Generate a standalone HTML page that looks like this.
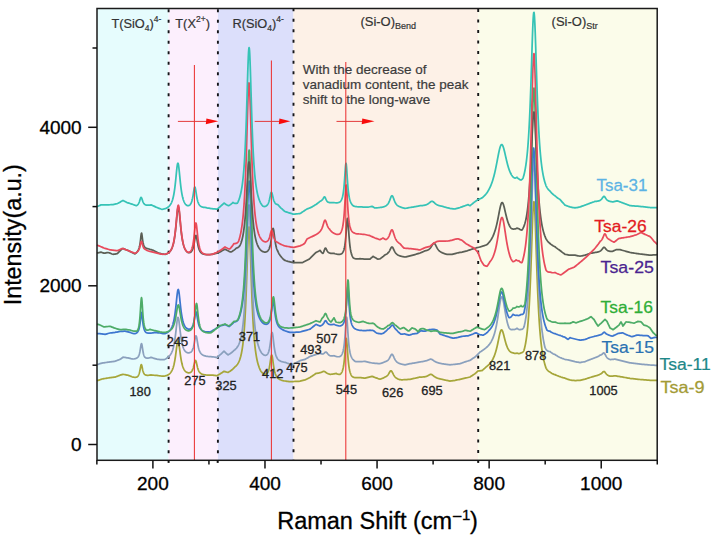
<!DOCTYPE html><html><head><meta charset="utf-8"><style>html,body{margin:0;padding:0;background:#fff;width:715px;height:538px;overflow:hidden}svg{display:block}</style></head><body>
<svg width="715" height="538" viewBox="0 0 715 538">
<rect width="715" height="538" fill="#fff"/>
<rect x="97.0" y="8.5" width="71.60" height="451.80" fill="#e6fcfd"/>
<rect x="168.6" y="8.5" width="49.30" height="451.80" fill="#fceffd"/>
<rect x="217.9" y="8.5" width="75.60" height="451.80" fill="#dcdffb"/>
<rect x="293.5" y="8.5" width="184.70" height="451.80" fill="#fdf1e7"/>
<rect x="478.2" y="8.5" width="179.00" height="451.80" fill="#fbfcea"/>
<line x1="168.6" y1="8.5" x2="168.6" y2="460.3" stroke="#151518" stroke-width="1.9" stroke-dasharray="3.0 7.5" stroke-dashoffset="-0.8"/>
<line x1="217.9" y1="8.5" x2="217.9" y2="460.3" stroke="#151518" stroke-width="1.9" stroke-dasharray="3.0 7.5" stroke-dashoffset="-0.8"/>
<line x1="293.5" y1="8.5" x2="293.5" y2="460.3" stroke="#151518" stroke-width="1.9" stroke-dasharray="3.0 7.5" stroke-dashoffset="0.2"/>
<line x1="478.2" y1="8.5" x2="478.2" y2="460.3" stroke="#151518" stroke-width="1.9" stroke-dasharray="3.0 7.5" stroke-dashoffset="-0.49999999999999994"/>
<path d="M97.00,380.80 L98.00,380.44 L99.00,380.08 L100.00,379.72 L101.00,379.36 L102.00,379.00 L103.00,378.83 L104.00,378.67 L105.00,378.50 L106.00,378.33 L107.00,378.17 L108.00,378.00 L109.00,377.87 L110.00,377.74 L111.00,377.62 L112.00,377.49 L113.00,377.36 L114.00,377.23 L115.00,377.10 L116.00,376.72 L117.00,376.34 L118.00,375.96 L119.00,375.58 L120.00,375.20 L121.00,374.90 L122.00,374.60 L123.00,374.30 L124.00,374.49 L125.00,374.67 L126.00,374.85 L127.00,375.03 L128.00,375.20 L129.00,375.61 L130.00,376.00 L131.00,376.39 L132.00,376.76 L133.00,377.10 L134.00,377.22 L134.90,377.28 L135.00,377.28 L135.15,377.29 L135.40,377.28 L135.65,377.27 L135.90,377.25 L136.00,377.24 L136.15,377.22 L136.40,377.17 L136.65,377.11 L136.90,377.03 L137.00,376.99 L137.15,376.93 L137.40,376.80 L137.65,376.51 L137.90,376.18 L138.00,376.04 L138.15,375.81 L138.40,375.37 L138.65,374.87 L138.90,374.27 L139.00,374.01 L139.15,373.57 L139.40,372.74 L139.65,371.77 L139.90,370.63 L140.00,370.14 L140.15,369.35 L140.40,367.98 L140.65,366.62 L140.90,365.47 L141.00,365.12 L141.15,364.75 L141.40,364.62 L141.65,365.10 L141.90,366.05 L142.00,366.51 L142.15,367.25 L142.40,368.50 L142.65,369.68 L142.90,370.71 L143.00,371.08 L143.15,371.58 L143.40,372.31 L143.65,372.90 L143.90,373.39 L144.00,373.55 L144.15,373.78 L144.40,374.09 L144.65,374.35 L144.90,374.56 L145.00,374.64 L145.15,374.74 L145.40,374.87 L145.65,374.99 L145.90,375.07 L146.00,375.10 L146.15,375.14 L146.40,375.19 L146.65,375.23 L146.90,375.26 L147.00,375.27 L147.15,375.28 L147.40,375.29 L147.65,375.29 L148.00,375.28 L149.00,375.20 L150.00,375.07 L151.00,374.90 L152.00,375.03 L153.00,375.15 L154.00,375.25 L155.00,375.34 L156.00,375.41 L157.00,375.47 L158.00,375.58 L159.00,375.74 L160.00,375.88 L161.00,376.00 L162.00,376.10 L163.00,376.17 L164.00,376.20 L165.00,375.99 L166.00,375.71 L166.25,375.63 L166.50,375.55 L166.75,375.46 L167.00,375.36 L167.25,375.26 L167.50,375.15 L167.75,375.03 L168.00,374.90 L168.25,374.74 L168.50,374.58 L168.75,374.40 L169.00,374.21 L169.25,374.01 L169.50,373.79 L169.75,373.56 L170.00,373.31 L170.25,373.04 L170.50,372.75 L170.75,372.44 L171.00,372.10 L171.25,371.73 L171.50,371.33 L171.75,370.89 L172.00,370.41 L172.25,369.89 L172.50,369.32 L172.75,368.69 L173.00,368.00 L173.25,367.25 L173.50,366.41 L173.75,365.50 L174.00,364.49 L174.25,363.37 L174.50,362.15 L174.75,360.81 L175.00,359.34 L175.25,357.75 L175.50,356.04 L175.75,354.22 L176.00,352.30 L176.25,350.34 L176.50,348.36 L176.75,346.46 L177.00,344.70 L177.25,343.19 L177.50,342.02 L177.75,341.27 L178.00,341.00 L178.25,341.23 L178.50,341.94 L178.75,343.07 L179.00,344.54 L179.25,346.26 L179.50,348.12 L179.75,350.06 L180.00,351.98 L180.25,353.86 L180.50,355.64 L180.75,357.31 L181.00,358.86 L181.25,360.28 L181.50,361.58 L181.75,362.76 L182.00,363.83 L182.25,364.79 L182.50,365.67 L182.75,366.45 L183.00,367.16 L183.25,367.80 L183.50,368.38 L183.75,368.90 L184.00,369.37 L184.25,369.80 L184.50,370.18 L184.75,370.53 L185.00,370.84 L185.25,371.12 L185.50,371.38 L185.75,371.60 L186.00,371.81 L186.25,371.99 L186.50,372.15 L186.70,372.26 L186.75,372.29 L186.95,372.39 L187.00,372.41 L187.20,372.50 L187.25,372.52 L187.45,372.59 L187.50,372.61 L187.70,372.67 L187.75,372.68 L187.95,372.73 L188.00,372.74 L188.20,372.77 L188.25,372.78 L188.45,372.80 L188.50,372.80 L188.70,372.81 L188.75,372.81 L188.95,372.81 L189.00,372.81 L189.20,372.79 L189.25,372.78 L189.45,372.75 L189.50,372.74 L189.70,372.69 L189.75,372.68 L189.95,372.61 L190.00,372.59 L190.20,372.51 L190.45,372.38 L190.70,372.23 L190.95,372.04 L191.00,372.00 L191.20,371.82 L191.45,371.57 L191.70,371.27 L191.95,370.91 L192.00,370.83 L192.20,370.50 L192.45,370.02 L192.70,369.46 L192.95,368.81 L193.00,368.67 L193.20,368.07 L193.45,367.24 L193.70,366.30 L193.95,365.28 L194.00,365.07 L194.20,364.20 L194.45,363.12 L194.70,362.10 L194.95,361.25 L195.00,361.11 L195.20,360.65 L195.45,360.40 L195.70,360.54 L195.95,361.04 L196.00,361.17 L196.20,361.83 L196.45,362.83 L196.70,363.94 L196.95,365.06 L197.00,365.28 L197.20,366.14 L197.45,367.15 L197.70,368.07 L197.95,368.89 L198.00,369.04 L198.20,369.61 L198.45,370.25 L198.70,370.80 L198.95,371.29 L199.00,371.38 L199.20,371.72 L199.45,372.09 L199.70,372.42 L199.95,372.71 L200.00,372.76 L200.20,372.96 L200.45,373.18 L200.70,373.38 L200.95,373.56 L201.00,373.59 L201.20,373.72 L201.45,373.86 L201.70,373.98 L201.95,374.10 L202.00,374.12 L202.20,374.20 L202.45,374.29 L202.70,374.37 L202.95,374.45 L203.00,374.46 L203.20,374.51 L203.45,374.58 L203.70,374.63 L203.95,374.68 L204.00,374.69 L204.20,374.73 L205.00,374.84 L206.00,374.94 L207.00,375.01 L208.00,375.04 L209.00,375.06 L210.00,375.05 L211.00,375.03 L212.00,375.00 L213.00,375.16 L214.00,375.31 L215.00,375.45 L216.00,375.58 L217.00,375.70 L218.00,375.11 L219.00,374.52 L220.00,373.91 L221.00,373.28 L222.00,372.64 L223.00,371.98 L224.00,371.30 L225.00,371.62 L226.00,371.92 L227.00,372.18 L228.00,372.40 L229.00,371.84 L230.00,371.23 L231.00,370.55 L232.00,369.79 L233.00,368.93 L234.00,367.95 L235.00,366.80 L236.00,365.97 L236.20,365.77 L236.45,365.51 L236.70,365.23 L236.95,364.93 L237.00,364.87 L237.20,364.61 L237.45,364.26 L237.70,363.89 L237.95,363.49 L238.00,363.41 L238.20,363.06 L238.45,362.60 L238.70,362.11 L238.95,361.57 L239.00,361.46 L239.20,361.00 L239.45,360.37 L239.70,359.70 L239.95,358.98 L240.00,358.83 L240.20,358.20 L240.45,357.35 L240.70,356.44 L240.95,355.44 L241.00,355.24 L241.20,354.37 L241.45,353.20 L241.70,351.92 L241.95,350.54 L242.00,350.24 L242.20,349.02 L242.45,347.37 L242.70,345.57 L242.95,343.60 L243.00,343.18 L243.20,341.43 L243.45,339.06 L243.70,336.46 L243.95,333.61 L244.00,333.00 L244.20,330.47 L244.45,327.02 L244.70,323.24 L244.95,319.08 L245.00,318.20 L245.20,314.52 L245.45,309.54 L245.70,304.11 L245.95,298.22 L246.00,296.99 L246.20,291.87 L246.45,285.09 L246.70,277.93 L246.95,270.49 L247.00,268.97 L247.20,262.89 L247.45,255.34 L247.70,248.08 L247.95,241.42 L248.00,240.19 L248.20,235.68 L248.45,231.19 L248.70,228.23 L248.95,227.02 L249.00,227.00 L249.20,227.65 L249.45,230.07 L249.70,234.12 L249.95,239.54 L250.00,240.76 L250.20,246.01 L250.45,253.21 L250.70,260.82 L250.95,268.57 L251.00,270.11 L251.20,276.24 L251.45,283.67 L251.70,290.75 L251.95,297.42 L252.00,298.70 L252.20,303.63 L252.45,309.39 L252.70,314.69 L252.95,319.55 L253.00,320.47 L253.20,324.00 L253.45,328.08 L253.70,331.80 L253.95,335.19 L254.00,335.84 L254.20,338.30 L254.45,341.14 L254.70,343.73 L254.95,346.11 L255.00,346.57 L255.20,348.30 L255.45,350.31 L255.70,352.15 L255.95,353.85 L256.00,354.18 L256.20,355.42 L256.45,356.88 L256.70,358.22 L256.95,359.47 L257.00,359.71 L257.20,360.63 L257.45,361.70 L257.70,362.71 L257.95,363.64 L258.00,363.82 L258.20,364.52 L258.45,365.34 L258.70,366.10 L258.95,366.82 L259.00,366.96 L259.20,367.50 L259.45,368.13 L259.70,368.72 L259.95,369.28 L260.00,369.39 L260.20,369.81 L260.45,370.31 L260.70,370.77 L260.95,371.22 L261.00,371.30 L261.20,371.57 L261.45,371.89 L261.70,372.19 L262.00,372.52 L262.90,373.32 L263.00,373.40 L263.15,373.50 L263.40,373.66 L263.65,373.80 L263.90,373.92 L264.00,373.97 L264.15,374.03 L264.40,374.11 L264.65,374.17 L264.90,374.21 L265.00,374.22 L265.15,374.22 L265.40,374.22 L265.65,374.18 L265.90,374.12 L266.00,374.08 L266.15,374.02 L266.40,373.89 L266.65,373.73 L266.90,373.51 L267.00,373.42 L267.15,373.25 L267.40,372.93 L267.65,372.55 L267.90,372.10 L268.00,371.89 L268.15,371.56 L268.40,370.92 L268.65,370.17 L268.90,369.30 L269.00,368.92 L269.15,368.29 L269.40,367.13 L269.65,365.80 L269.90,364.32 L270.00,363.69 L270.15,362.70 L270.40,360.99 L270.65,359.26 L270.90,357.64 L271.00,357.06 L271.15,356.29 L271.40,355.37 L271.65,355.00 L271.90,355.26 L272.00,355.53 L272.15,356.11 L272.40,357.45 L272.65,359.12 L272.90,360.96 L273.00,361.71 L273.15,362.83 L273.40,364.63 L273.65,366.32 L273.90,367.85 L274.00,368.42 L274.15,369.22 L274.40,370.44 L274.65,371.52 L274.90,372.46 L275.00,372.81 L275.15,373.30 L275.40,374.03 L275.65,374.68 L275.90,375.25 L276.00,375.46 L276.15,375.76 L276.40,376.21 L276.65,376.62 L276.90,376.98 L277.00,377.11 L277.15,377.31 L277.40,377.60 L277.65,377.87 L277.90,378.12 L278.00,378.21 L278.15,378.34 L278.40,378.54 L278.65,378.73 L278.90,378.91 L279.00,378.97 L279.15,379.07 L279.40,379.22 L279.65,379.35 L279.90,379.48 L280.00,379.53 L280.15,379.60 L280.40,379.72 L281.00,379.96 L282.00,380.30 L283.00,380.58 L284.00,380.81 L285.00,381.00 L286.00,381.15 L287.00,381.29 L288.00,381.41 L289.00,381.51 L290.00,381.60 L291.00,381.59 L292.00,381.57 L293.00,381.54 L294.00,381.50 L295.00,381.46 L296.00,381.42 L297.00,381.37 L298.00,381.32 L299.00,381.26 L300.00,381.20 L301.00,380.95 L302.00,380.69 L303.00,380.43 L304.00,380.17 L305.00,379.90 L306.00,379.43 L307.00,378.95 L308.00,378.47 L309.00,377.99 L310.00,377.50 L311.00,376.84 L312.00,376.17 L312.25,376.00 L312.50,375.84 L312.75,375.67 L313.00,375.50 L313.25,375.33 L313.50,375.16 L313.75,374.99 L314.00,374.81 L314.25,374.64 L314.50,374.47 L314.75,374.29 L315.00,374.12 L315.25,373.94 L315.50,373.76 L315.75,373.58 L316.00,373.40 L316.25,373.38 L316.50,373.36 L316.75,373.33 L317.00,373.30 L317.25,373.28 L317.50,373.24 L317.75,373.21 L318.00,373.17 L318.25,373.13 L318.50,373.08 L318.75,373.03 L319.00,372.98 L319.25,372.92 L319.50,372.85 L319.75,372.78 L320.00,372.70 L320.25,372.65 L320.50,372.59 L320.75,372.52 L321.00,372.44 L321.25,372.35 L321.50,372.25 L321.75,372.14 L322.00,372.02 L322.25,371.90 L322.50,371.78 L322.75,371.66 L323.00,371.56 L323.25,371.47 L323.50,371.42 L323.75,371.39 L324.00,371.40 L324.25,371.45 L324.50,371.54 L324.75,371.66 L325.00,371.80 L325.25,371.97 L325.50,372.14 L325.75,372.32 L326.00,372.51 L326.25,372.68 L326.50,372.85 L326.75,373.01 L327.00,373.16 L327.25,373.30 L327.50,373.43 L327.75,373.55 L328.00,373.66 L328.25,373.76 L328.50,373.86 L328.75,373.95 L329.00,374.03 L329.25,374.10 L329.50,374.17 L329.75,374.24 L330.00,374.30 L330.25,374.30 L330.50,374.29 L330.75,374.28 L331.00,374.26 L331.25,374.25 L331.50,374.23 L331.75,374.20 L332.00,374.18 L332.25,374.15 L332.50,374.12 L332.75,374.09 L333.00,374.05 L333.25,374.01 L333.50,373.97 L333.75,373.93 L334.00,373.88 L334.25,373.83 L334.50,373.78 L334.75,373.72 L335.00,373.67 L335.25,373.61 L335.50,373.54 L335.75,373.47 L336.00,373.40 L337.00,373.83 L338.00,374.16 L339.00,374.35 L339.10,374.36 L339.35,374.37 L339.60,374.36 L339.85,374.33 L340.00,374.30 L340.10,374.23 L340.35,374.04 L340.60,373.82 L340.85,373.57 L341.00,373.40 L341.10,373.28 L341.35,372.94 L341.60,372.55 L341.85,372.09 L342.00,371.79 L342.10,371.56 L342.35,370.94 L342.60,370.22 L342.85,369.36 L343.00,368.78 L343.10,368.36 L343.35,367.17 L343.60,365.76 L343.85,364.09 L344.00,362.94 L344.10,362.12 L344.35,359.79 L344.60,357.09 L344.85,354.01 L345.00,352.01 L345.10,350.62 L345.35,347.06 L345.60,343.63 L345.85,340.77 L346.00,339.52 L346.10,338.95 L346.35,338.54 L346.60,339.65 L346.85,342.05 L347.00,343.94 L347.10,345.31 L347.35,348.94 L347.60,352.57 L347.85,355.96 L348.00,357.83 L348.10,359.00 L348.35,361.66 L348.60,363.94 L348.85,365.90 L349.00,366.93 L349.10,367.57 L349.35,368.99 L349.60,370.21 L349.85,371.26 L350.00,371.82 L350.10,372.17 L350.35,372.96 L350.60,373.65 L350.85,374.26 L351.00,374.59 L351.10,374.80 L351.35,375.27 L351.60,375.70 L351.85,376.09 L352.00,376.30 L352.10,376.39 L352.35,376.60 L352.60,376.78 L352.85,376.94 L353.00,377.02 L353.10,377.07 L353.35,377.19 L354.00,377.43 L355.00,377.64 L356.00,377.73 L357.00,377.74 L358.00,377.70 L359.00,377.61 L360.00,377.50 L361.00,377.67 L362.00,377.82 L363.00,377.96 L364.00,378.08 L365.00,378.20 L366.00,377.95 L367.00,377.68 L368.00,377.42 L369.00,377.15 L370.00,376.87 L371.00,376.59 L372.00,376.30 L373.00,376.69 L374.00,377.08 L375.00,377.46 L376.00,377.83 L377.00,378.19 L378.00,378.55 L379.00,378.88 L379.25,378.96 L379.50,379.04 L379.75,379.12 L380.00,379.20 L380.25,379.12 L380.50,379.04 L380.75,378.96 L381.00,378.87 L381.25,378.79 L381.50,378.70 L381.75,378.60 L382.00,378.51 L382.25,378.41 L382.50,378.31 L382.75,378.20 L383.00,378.09 L383.25,377.98 L383.50,377.86 L383.75,377.73 L384.00,377.60 L384.25,377.46 L384.50,377.32 L384.75,377.16 L385.00,377.00 L385.25,376.91 L385.50,376.81 L385.75,376.69 L386.00,376.56 L386.25,376.42 L386.50,376.25 L386.75,376.07 L387.00,375.86 L387.25,375.63 L387.50,375.37 L387.75,375.09 L388.00,374.77 L388.25,374.42 L388.50,374.05 L388.75,373.65 L389.00,373.22 L389.25,372.79 L389.50,372.35 L389.75,371.93 L390.00,371.55 L390.25,371.22 L390.50,370.97 L390.75,370.83 L391.00,370.80 L391.25,370.89 L391.50,371.10 L391.75,371.40 L392.00,371.79 L392.25,372.24 L392.50,372.72 L392.75,373.22 L393.00,373.72 L393.25,374.20 L393.50,374.66 L393.75,375.10 L394.00,375.51 L394.25,375.88 L394.50,376.23 L394.75,376.55 L395.00,376.84 L395.25,377.11 L395.50,377.36 L395.75,377.58 L396.00,377.79 L396.25,377.98 L396.50,378.16 L396.75,378.32 L397.00,378.47 L397.25,378.61 L397.50,378.75 L397.75,378.87 L398.00,378.98 L398.25,379.09 L398.50,379.19 L398.75,379.29 L399.00,379.38 L399.25,379.47 L399.50,379.55 L399.75,379.63 L400.00,379.70 L400.25,379.72 L400.50,379.73 L400.75,379.74 L401.00,379.75 L401.25,379.76 L401.50,379.76 L401.75,379.76 L402.00,379.76 L402.25,379.76 L402.50,379.76 L402.75,379.76 L403.00,379.75 L404.00,379.72 L405.00,379.67 L406.00,379.61 L407.00,379.55 L408.00,379.47 L409.00,379.39 L410.00,379.30 L411.00,379.10 L412.00,378.89 L413.00,378.68 L414.00,378.47 L415.00,378.24 L415.25,378.19 L415.50,378.13 L415.75,378.07 L416.00,378.01 L416.25,377.96 L416.50,377.90 L416.75,377.84 L417.00,377.78 L417.25,377.72 L417.50,377.66 L417.75,377.59 L418.00,377.53 L418.25,377.47 L418.50,377.40 L418.75,377.34 L419.00,377.27 L419.25,377.21 L419.50,377.14 L419.75,377.07 L420.00,377.00 L420.25,377.01 L420.50,377.01 L420.75,377.02 L421.00,377.02 L421.25,377.02 L421.50,377.02 L421.75,377.02 L422.00,377.02 L422.25,377.01 L422.50,377.00 L422.75,376.99 L423.00,376.97 L423.25,376.96 L423.50,376.94 L423.75,376.91 L424.00,376.89 L424.25,376.85 L424.50,376.82 L424.75,376.78 L425.00,376.73 L425.25,376.68 L425.50,376.62 L425.75,376.56 L426.00,376.48 L426.25,376.41 L426.50,376.32 L426.75,376.22 L427.00,376.12 L427.25,376.01 L427.50,375.89 L427.75,375.76 L428.00,375.63 L428.25,375.49 L428.50,375.34 L428.75,375.19 L429.00,375.05 L429.25,374.90 L429.50,374.77 L429.75,374.65 L430.00,374.55 L430.25,374.47 L430.50,374.41 L430.75,374.39 L431.00,374.40 L431.25,374.44 L431.50,374.52 L431.75,374.62 L432.00,374.76 L432.25,374.91 L432.50,375.08 L432.75,375.27 L433.00,375.47 L433.25,375.66 L433.50,375.86 L433.75,376.06 L434.00,376.25 L434.25,376.44 L434.50,376.62 L434.75,376.79 L435.00,376.96 L435.25,377.11 L435.50,377.26 L435.75,377.40 L436.00,377.53 L436.25,377.65 L436.50,377.77 L436.75,377.88 L437.00,377.98 L437.25,378.08 L437.50,378.18 L437.75,378.26 L438.00,378.35 L438.25,378.43 L438.50,378.50 L438.75,378.58 L439.00,378.65 L439.25,378.71 L439.50,378.78 L439.75,378.84 L440.00,378.90 L440.25,378.95 L440.50,379.01 L440.75,379.06 L441.00,379.11 L441.25,379.16 L441.50,379.21 L441.75,379.25 L442.00,379.30 L442.25,379.37 L442.50,379.43 L442.75,379.50 L443.00,379.56 L443.25,379.62 L443.50,379.68 L443.75,379.75 L444.00,379.81 L444.25,379.86 L444.50,379.92 L444.75,379.98 L445.00,380.04 L445.25,380.10 L445.50,380.15 L445.75,380.21 L446.00,380.26 L446.25,380.32 L446.50,380.37 L446.75,380.43 L447.00,380.48 L448.00,380.69 L449.00,380.90 L450.00,381.10 L451.00,380.97 L452.00,380.83 L453.00,380.69 L454.00,380.55 L455.00,380.40 L456.00,380.19 L457.00,379.97 L458.00,379.75 L459.00,379.53 L460.00,379.30 L461.00,379.09 L462.00,378.87 L463.00,378.65 L464.00,378.43 L465.00,378.20 L466.00,377.97 L467.00,377.73 L468.00,377.49 L469.00,377.25 L470.00,377.00 L471.00,376.36 L472.00,375.70 L473.00,375.04 L474.00,374.38 L475.00,373.70 L476.00,372.81 L477.00,371.91 L478.00,371.00 L479.00,370.93 L480.00,370.85 L481.00,370.74 L481.40,370.69 L481.65,370.65 L481.90,370.61 L482.00,370.60 L482.15,370.48 L482.40,370.27 L482.65,370.06 L482.90,369.85 L483.00,369.77 L483.15,369.64 L483.40,369.42 L483.65,369.20 L483.90,368.98 L484.00,368.89 L484.15,368.76 L484.40,368.53 L484.65,368.30 L484.90,368.07 L485.00,367.97 L485.15,367.83 L485.40,367.59 L485.65,367.35 L485.90,367.10 L486.00,367.00 L486.15,366.89 L486.40,366.71 L486.65,366.52 L486.90,366.32 L487.00,366.24 L487.15,366.12 L487.40,365.91 L487.65,365.70 L487.90,365.49 L488.00,365.40 L488.15,365.26 L488.40,365.03 L488.65,364.79 L488.90,364.54 L489.00,364.44 L489.15,364.29 L489.40,364.03 L489.65,363.75 L489.90,363.47 L490.00,363.35 L490.15,363.18 L490.40,362.87 L490.65,362.55 L490.90,362.22 L491.00,362.09 L491.15,361.88 L491.40,361.52 L491.65,361.15 L491.90,360.76 L492.00,360.60 L492.15,360.35 L492.40,359.92 L492.65,359.48 L492.90,359.01 L493.00,358.81 L493.15,358.51 L493.40,358.00 L493.65,357.46 L493.90,356.89 L494.00,356.65 L494.15,356.29 L494.40,355.66 L494.65,354.99 L494.90,354.29 L495.00,354.01 L495.15,353.56 L495.40,352.79 L495.65,351.97 L495.90,351.12 L496.00,350.76 L496.15,350.22 L496.40,349.28 L496.65,348.29 L496.90,347.26 L497.00,346.84 L497.15,346.19 L497.40,345.08 L497.65,343.94 L497.90,342.76 L498.00,342.28 L498.15,341.55 L498.40,340.33 L498.65,339.10 L498.90,337.88 L499.00,337.40 L499.15,336.69 L499.40,335.53 L499.65,334.43 L499.90,333.40 L500.00,333.02 L500.15,332.47 L500.40,331.66 L500.65,330.98 L500.90,330.46 L501.00,330.29 L501.15,330.09 L501.40,329.90 L501.65,329.88 L501.90,330.03 L502.00,330.13 L502.15,330.34 L502.40,330.80 L502.65,331.39 L502.90,332.10 L503.00,332.41 L503.15,332.91 L503.40,333.79 L503.65,334.74 L503.90,335.72 L504.00,336.11 L504.15,336.72 L504.40,337.72 L504.65,338.72 L504.90,339.71 L505.00,340.09 L505.15,340.67 L505.40,341.59 L505.65,342.48 L505.90,343.33 L506.00,343.65 L506.15,344.13 L506.40,344.89 L506.65,345.60 L506.90,346.27 L507.00,346.53 L507.15,346.90 L507.40,347.48 L507.65,348.02 L507.90,348.52 L508.00,348.71 L508.15,348.99 L508.40,349.41 L508.65,349.81 L508.90,350.17 L509.00,350.30 L509.15,350.50 L509.40,350.81 L509.65,351.10 L509.90,351.36 L510.00,351.45 L510.15,351.59 L510.40,351.80 L510.65,351.98 L510.90,352.15 L511.00,352.21 L511.15,352.29 L511.40,352.42 L511.65,352.52 L511.90,352.61 L512.00,352.64 L512.15,352.68 L512.40,352.73 L512.65,352.77 L512.90,352.79 L513.00,352.80 L513.15,352.87 L513.40,352.98 L513.65,353.08 L513.90,353.16 L514.00,353.19 L514.15,353.23 L514.40,353.29 L514.65,353.33 L514.90,353.36 L515.00,353.37 L515.15,353.38 L515.40,353.38 L515.65,353.37 L515.90,353.35 L516.00,353.34 L516.15,353.32 L516.40,353.27 L516.65,353.21 L516.90,353.13 L517.00,353.10 L517.15,353.17 L517.40,353.27 L517.65,353.35 L517.90,353.43 L518.00,353.45 L518.15,353.48 L518.40,353.52 L518.65,353.55 L518.70,353.55 L518.90,353.55 L518.95,353.55 L519.00,353.55 L519.15,353.54 L519.20,353.54 L519.40,353.51 L519.45,353.50 L519.65,353.46 L519.70,353.45 L519.90,353.39 L519.95,353.37 L520.00,353.35 L520.15,353.30 L520.20,353.27 L520.40,353.18 L520.45,353.15 L520.65,353.04 L520.70,353.01 L520.90,352.87 L520.95,352.84 L521.00,352.80 L521.15,352.80 L521.20,352.80 L521.45,352.78 L521.70,352.72 L521.95,352.63 L522.00,352.61 L522.20,352.50 L522.45,352.34 L522.70,352.14 L522.95,351.89 L523.00,351.84 L523.20,351.60 L523.45,351.25 L523.70,350.85 L523.95,350.40 L524.00,350.30 L524.20,349.60 L524.45,348.66 L524.70,347.64 L524.95,346.55 L525.00,346.32 L525.20,345.37 L525.45,344.09 L525.70,342.72 L525.95,341.23 L526.00,340.92 L526.20,339.63 L526.45,337.89 L526.70,336.01 L526.95,333.98 L527.00,333.55 L527.20,331.77 L527.45,329.39 L527.70,326.80 L527.95,323.99 L528.00,323.40 L528.20,320.95 L528.45,317.65 L528.70,314.07 L528.95,310.20 L529.00,309.39 L529.20,306.01 L529.45,301.47 L529.70,296.58 L529.95,291.32 L530.00,290.22 L530.20,285.68 L530.45,279.66 L530.70,273.26 L530.95,266.53 L531.00,265.14 L531.20,259.49 L531.45,252.23 L531.70,244.83 L531.95,237.44 L532.00,235.97 L532.20,230.20 L532.45,223.33 L532.70,217.02 L532.95,211.52 L533.00,210.54 L533.20,207.05 L533.45,203.82 L533.70,201.99 L533.95,201.65 L534.00,201.77 L534.20,202.84 L534.45,205.49 L534.70,209.48 L534.95,214.63 L535.00,215.79 L535.20,220.73 L535.45,227.54 L535.70,234.83 L535.95,242.39 L536.00,243.92 L536.20,250.05 L536.45,257.65 L536.70,265.08 L536.95,272.25 L537.00,273.64 L537.20,279.09 L537.45,285.59 L537.70,291.70 L537.95,297.44 L538.00,298.54 L538.20,302.80 L538.45,307.79 L538.70,312.43 L538.95,316.75 L539.00,317.57 L539.20,320.75 L539.45,324.46 L539.70,327.90 L539.95,331.10 L540.00,331.71 L540.20,334.06 L540.45,336.82 L540.70,339.38 L540.95,341.77 L541.00,342.22 L541.20,343.99 L541.45,346.06 L541.70,348.00 L541.95,349.81 L542.00,350.15 L542.20,351.50 L542.45,353.09 L542.70,354.58 L542.95,355.98 L543.00,356.25 L543.20,357.30 L543.45,358.54 L543.70,359.71 L543.95,360.82 L544.00,361.04 L544.20,361.87 L544.45,362.86 L544.70,363.80 L544.95,364.70 L545.00,364.87 L545.20,365.54 L545.45,366.35 L545.70,367.12 L545.95,367.86 L546.00,368.00 L546.20,368.35 L546.45,368.75 L546.70,369.13 L546.95,369.47 L547.00,369.54 L547.20,369.80 L547.45,370.10 L547.70,370.37 L547.95,370.63 L548.00,370.68 L548.20,370.87 L548.45,371.09 L548.70,371.29 L548.95,371.48 L549.00,371.51 L550.00,372.10 L551.00,372.86 L552.00,373.46 L553.00,373.93 L554.00,374.31 L555.00,374.60 L556.00,375.10 L557.00,375.54 L558.00,375.94 L559.00,376.29 L560.00,376.60 L561.00,376.97 L562.00,377.31 L563.00,377.63 L564.00,377.92 L565.00,378.20 L566.00,378.59 L567.00,378.96 L568.00,379.32 L569.00,379.66 L570.00,380.00 L571.00,380.13 L572.00,380.26 L573.00,380.38 L574.00,380.49 L575.00,380.60 L576.00,380.55 L577.00,380.49 L578.00,380.43 L579.00,380.37 L580.00,380.30 L581.00,380.07 L582.00,379.83 L583.00,379.59 L584.00,379.35 L585.00,379.10 L586.00,378.79 L587.00,378.47 L588.00,378.15 L589.00,377.83 L590.00,377.50 L591.00,377.22 L592.00,376.93 L593.00,376.63 L594.00,376.32 L594.25,376.24 L594.50,376.16 L594.75,376.08 L595.00,376.00 L595.25,375.94 L595.50,375.88 L595.75,375.82 L596.00,375.75 L596.25,375.69 L596.50,375.62 L596.75,375.55 L597.00,375.47 L597.25,375.40 L597.50,375.32 L597.75,375.23 L598.00,375.15 L598.25,375.05 L598.50,374.96 L598.75,374.85 L599.00,374.74 L599.25,374.62 L599.50,374.49 L599.75,374.35 L600.00,374.20 L600.25,374.11 L600.50,374.01 L600.75,373.89 L601.00,373.76 L601.25,373.60 L601.50,373.42 L601.75,373.22 L602.00,372.99 L602.25,372.75 L602.50,372.49 L602.75,372.23 L603.00,371.99 L603.25,371.77 L603.50,371.60 L603.75,371.51 L604.00,371.50 L604.25,371.58 L604.50,371.74 L604.75,371.98 L605.00,372.27 L605.25,372.58 L605.50,372.91 L605.75,373.24 L606.00,373.55 L606.25,373.85 L606.50,374.12 L606.75,374.37 L607.00,374.60 L607.25,374.81 L607.50,374.99 L607.75,375.17 L608.00,375.32 L608.25,375.46 L608.50,375.60 L608.75,375.72 L609.00,375.83 L609.25,375.93 L609.50,376.03 L609.75,376.12 L610.00,376.20 L610.25,376.20 L610.50,376.20 L610.75,376.20 L611.00,376.19 L611.25,376.18 L611.50,376.16 L611.75,376.15 L612.00,376.13 L612.25,376.11 L612.50,376.09 L612.75,376.06 L613.00,376.04 L613.25,376.01 L613.50,375.98 L613.75,375.96 L614.00,375.93 L615.00,375.80 L616.00,375.97 L617.00,376.14 L618.00,376.29 L619.00,376.45 L620.00,376.60 L621.00,376.79 L622.00,376.97 L623.00,377.15 L624.00,377.33 L625.00,377.51 L626.00,377.69 L627.00,377.87 L628.00,378.05 L629.00,378.22 L630.00,378.40 L631.00,378.51 L632.00,378.62 L633.00,378.73 L634.00,378.84 L635.00,378.95 L636.00,379.06 L637.00,379.17 L638.00,379.28 L639.00,379.39 L640.00,379.50 L641.00,379.58 L642.00,379.66 L643.00,379.74 L644.00,379.82 L645.00,379.90 L646.00,379.98 L647.00,380.06 L648.00,380.14 L649.00,380.22 L650.00,380.30 L651.00,380.30 L652.00,380.30 L653.00,380.30 L654.00,380.30 L655.00,380.30 L656.00,380.30 L657.00,380.30 L657.20,380.30" fill="none" stroke="#a6a63a" stroke-width="1.75" stroke-linejoin="round"/>
<path d="M97.00,364.60 L98.00,364.30 L99.00,364.00 L100.00,363.70 L101.00,363.40 L102.00,363.10 L103.00,362.95 L104.00,362.80 L105.00,362.65 L106.00,362.50 L107.00,362.35 L108.00,362.20 L109.00,362.07 L110.00,361.95 L111.00,361.82 L112.00,361.69 L113.00,361.56 L114.00,361.43 L115.00,361.30 L116.00,360.92 L117.00,360.54 L118.00,360.16 L119.00,359.78 L120.00,359.40 L121.00,358.67 L122.00,357.94 L123.00,357.20 L124.00,357.35 L125.00,357.49 L126.00,357.63 L127.00,357.77 L128.00,357.90 L129.00,358.15 L130.00,358.39 L131.00,358.62 L132.00,358.82 L133.00,359.00 L134.00,358.89 L135.00,358.72 L135.10,358.69 L135.35,358.63 L135.60,358.56 L135.85,358.47 L136.00,358.42 L136.10,358.38 L136.35,358.27 L136.60,358.14 L136.85,358.00 L137.00,357.90 L137.10,357.83 L137.35,357.65 L137.60,357.42 L137.85,357.16 L138.00,356.98 L138.10,356.85 L138.35,356.48 L138.60,356.03 L138.85,355.50 L139.00,355.12 L139.10,354.85 L139.35,354.06 L139.60,353.12 L139.85,351.98 L140.00,351.21 L140.10,350.65 L140.35,349.14 L140.60,347.50 L140.85,345.89 L141.00,345.03 L141.10,344.54 L141.35,343.73 L141.60,343.67 L141.85,344.38 L142.00,345.11 L142.10,345.69 L142.35,347.31 L142.60,348.99 L142.85,350.58 L143.00,351.45 L143.10,351.99 L143.35,353.20 L143.60,354.22 L143.85,355.08 L144.00,355.52 L144.10,355.79 L144.35,356.39 L144.60,356.84 L144.85,357.15 L145.00,357.31 L145.10,357.40 L145.35,357.59 L145.60,357.74 L145.85,357.86 L146.00,357.91 L146.10,357.95 L146.35,358.01 L146.60,358.05 L146.85,358.08 L147.00,358.08 L147.10,358.09 L147.35,358.08 L147.60,358.07 L147.85,358.05 L148.00,358.03 L149.00,357.85 L150.00,357.60 L151.00,357.30 L152.00,357.66 L153.00,358.00 L154.00,358.32 L155.00,358.62 L156.00,358.90 L157.00,359.17 L158.00,359.37 L159.00,359.48 L160.00,359.58 L161.00,359.66 L162.00,359.71 L163.00,359.72 L164.00,359.70 L165.00,359.21 L166.00,358.64 L166.25,358.49 L166.50,358.33 L166.75,358.17 L167.00,357.99 L167.25,357.81 L167.50,357.62 L167.75,357.42 L168.00,357.22 L168.25,357.02 L168.50,356.81 L168.75,356.58 L169.00,356.34 L169.25,356.08 L169.50,355.81 L169.75,355.52 L170.00,355.21 L170.25,354.88 L170.50,354.52 L170.75,354.14 L171.00,353.73 L171.25,353.28 L171.50,352.79 L171.75,352.27 L172.00,351.70 L172.25,351.08 L172.50,350.40 L172.75,349.66 L173.00,348.84 L173.25,347.95 L173.50,346.97 L173.75,345.90 L174.00,344.71 L174.25,343.41 L174.50,341.99 L174.75,340.43 L175.00,338.72 L175.25,336.87 L175.50,334.89 L175.75,332.77 L176.00,330.55 L176.25,328.27 L176.50,325.99 L176.75,323.78 L177.00,321.74 L177.25,319.98 L177.50,318.62 L177.75,317.73 L178.00,317.40 L178.25,317.64 L178.50,318.43 L178.75,319.70 L179.00,321.37 L179.25,323.31 L179.50,325.43 L179.75,327.62 L180.00,329.80 L180.25,331.93 L180.50,333.95 L180.75,335.84 L181.00,337.59 L181.25,339.20 L181.50,340.66 L181.75,341.99 L182.00,343.19 L182.25,344.27 L182.50,345.25 L182.75,346.13 L183.00,346.92 L183.25,347.63 L183.50,348.27 L183.75,348.84 L184.00,349.36 L184.25,349.82 L184.50,350.23 L184.75,350.61 L185.00,350.94 L185.25,351.24 L185.50,351.50 L185.75,351.74 L186.00,351.95 L186.25,352.13 L186.50,352.29 L186.75,352.43 L187.00,352.55 L187.20,352.63 L187.25,352.64 L187.45,352.71 L187.50,352.72 L187.70,352.77 L187.75,352.78 L187.95,352.82 L188.00,352.83 L188.20,352.85 L188.25,352.85 L188.45,352.86 L188.50,352.86 L188.70,352.85 L188.75,352.85 L188.95,352.82 L189.00,352.82 L189.20,352.78 L189.25,352.77 L189.45,352.72 L189.50,352.70 L189.70,352.63 L189.75,352.61 L189.95,352.52 L190.00,352.50 L190.20,352.43 L190.45,352.32 L190.70,352.18 L190.95,352.00 L191.00,351.97 L191.20,351.80 L191.45,351.54 L191.70,351.25 L191.95,350.90 L192.00,350.82 L192.20,350.49 L192.45,350.01 L192.70,349.45 L192.95,348.79 L193.00,348.65 L193.20,348.04 L193.45,347.16 L193.70,346.16 L193.95,345.03 L194.00,344.79 L194.20,343.76 L194.45,342.38 L194.70,340.93 L194.95,339.46 L195.00,339.17 L195.20,338.09 L195.45,336.93 L195.70,336.13 L195.95,335.80 L196.00,335.80 L196.20,336.00 L196.45,336.69 L196.70,337.78 L196.95,339.15 L197.00,339.45 L197.20,340.67 L197.45,342.21 L197.70,343.69 L197.95,345.08 L198.00,345.34 L198.20,346.34 L198.45,347.47 L198.70,348.46 L198.95,349.34 L199.00,349.51 L199.20,350.11 L199.45,350.79 L199.70,351.39 L199.95,351.91 L200.00,352.00 L200.20,352.37 L200.45,352.77 L200.70,353.14 L200.95,353.46 L201.00,353.52 L201.20,353.74 L201.45,354.00 L201.70,354.23 L201.95,354.44 L202.00,354.48 L202.20,354.63 L202.45,354.80 L202.70,354.95 L202.95,355.09 L203.00,355.12 L203.20,355.22 L203.45,355.34 L203.70,355.45 L203.95,355.55 L204.00,355.57 L204.20,355.64 L204.45,355.73 L204.70,355.81 L205.00,355.89 L206.00,356.14 L207.00,356.32 L208.00,356.46 L209.00,356.57 L210.00,356.66 L211.00,356.72 L212.00,356.77 L213.00,356.80 L214.00,357.02 L215.00,357.23 L216.00,357.42 L217.00,357.60 L218.00,356.73 L219.00,355.85 L220.00,354.96 L221.00,354.04 L222.00,353.12 L223.00,352.17 L224.00,351.20 L225.00,352.17 L226.00,353.12 L227.00,354.03 L228.00,354.90 L229.00,354.34 L230.00,353.72 L231.00,353.04 L232.00,352.27 L233.00,351.40 L234.00,350.40 L235.00,349.67 L236.00,348.73 L236.20,348.52 L236.45,348.23 L236.70,347.92 L236.95,347.59 L237.00,347.52 L237.20,347.23 L237.45,346.86 L237.70,346.45 L237.95,346.02 L238.00,345.93 L238.20,345.56 L238.45,345.06 L238.70,344.53 L238.95,343.96 L239.00,343.84 L239.20,343.35 L239.45,342.69 L239.70,341.98 L239.95,341.22 L240.00,341.06 L240.20,340.39 L240.45,339.50 L240.70,338.54 L240.95,337.50 L241.00,337.28 L241.20,336.37 L241.45,335.15 L241.70,333.82 L241.95,332.38 L242.00,332.07 L242.20,330.80 L242.45,329.09 L242.70,327.21 L242.95,325.17 L243.00,324.73 L243.20,322.93 L243.45,320.47 L243.70,317.78 L243.95,314.83 L244.00,314.21 L244.20,311.59 L244.45,308.03 L244.70,304.12 L244.95,299.84 L245.00,298.93 L245.20,295.14 L245.45,290.01 L245.70,284.41 L245.95,278.35 L246.00,277.08 L246.20,271.81 L246.45,264.83 L246.70,257.46 L246.95,249.80 L247.00,248.24 L247.20,241.98 L247.45,234.22 L247.70,226.75 L247.95,219.89 L248.00,218.62 L248.20,213.98 L248.45,209.35 L248.70,206.29 L248.95,205.03 L249.00,205.00 L249.20,205.65 L249.45,208.10 L249.70,212.24 L249.95,217.78 L250.00,219.03 L250.20,224.40 L250.45,231.76 L250.70,239.55 L250.95,247.47 L251.00,249.05 L251.20,255.32 L251.45,262.92 L251.70,270.16 L251.95,276.98 L252.00,278.29 L252.20,283.34 L252.45,289.22 L252.70,294.63 L252.95,299.60 L253.00,300.54 L253.20,304.15 L253.45,308.30 L253.70,312.10 L253.95,315.56 L254.00,316.22 L254.20,318.72 L254.45,321.61 L254.70,324.26 L254.95,326.67 L255.00,327.13 L255.20,328.89 L255.45,330.93 L255.70,332.80 L255.95,334.52 L256.00,334.85 L256.20,336.11 L256.45,337.58 L256.70,338.94 L256.95,340.19 L257.00,340.43 L257.20,341.36 L257.45,342.44 L257.70,343.45 L257.95,344.38 L258.00,344.56 L258.20,345.26 L258.45,346.08 L258.70,346.84 L258.95,347.55 L259.00,347.69 L259.20,348.22 L259.45,348.85 L259.70,349.43 L259.95,349.98 L260.00,350.09 L260.20,350.50 L260.45,350.99 L260.70,351.44 L260.95,351.87 L261.00,351.95 L261.20,352.27 L261.45,352.65 L261.70,353.01 L262.00,353.40 L263.00,354.35 L263.30,354.58 L263.55,354.74 L263.80,354.89 L264.00,354.99 L264.05,355.02 L264.30,355.12 L264.55,355.21 L264.80,355.28 L265.00,355.31 L265.05,355.32 L265.30,355.34 L265.55,355.33 L265.80,355.30 L266.00,355.25 L266.05,355.24 L266.30,355.14 L266.55,355.02 L266.80,354.85 L267.00,354.68 L267.05,354.63 L267.30,354.37 L267.55,354.05 L267.80,353.66 L268.00,353.30 L268.05,353.20 L268.30,352.66 L268.55,352.01 L268.80,351.26 L269.00,350.56 L269.05,350.37 L269.30,349.34 L269.55,348.15 L269.80,346.77 L270.00,345.54 L270.05,345.21 L270.30,343.47 L270.55,341.56 L270.80,339.54 L271.00,337.91 L271.05,337.51 L271.30,335.61 L271.55,334.02 L271.80,332.93 L272.00,332.53 L272.05,332.50 L272.30,332.80 L272.55,333.81 L272.80,335.38 L273.00,336.93 L273.05,337.35 L273.30,339.51 L273.55,341.71 L273.80,343.84 L274.00,345.44 L274.05,345.82 L274.30,347.63 L274.55,349.25 L274.80,350.68 L275.00,351.71 L275.05,351.95 L275.30,353.07 L275.55,354.05 L275.80,354.92 L276.00,355.54 L276.05,355.69 L276.30,356.37 L276.55,356.97 L276.80,357.51 L277.00,357.90 L277.05,357.99 L277.30,358.39 L277.55,358.75 L277.80,359.07 L278.00,359.30 L278.05,359.36 L278.30,359.62 L278.55,359.86 L278.80,360.08 L279.00,360.24 L279.05,360.27 L279.30,360.45 L279.55,360.62 L279.80,360.77 L280.00,360.88 L280.05,360.91 L280.30,361.04 L280.55,361.15 L280.80,361.26 L281.00,361.34 L282.00,361.69 L283.00,361.95 L284.00,362.14 L285.00,362.30 L286.00,362.69 L287.00,363.05 L288.00,363.38 L289.00,363.71 L290.00,364.02 L291.00,364.31 L292.00,364.60 L293.00,364.13 L294.00,363.66 L295.00,363.18 L296.00,362.69 L297.00,362.20 L298.00,361.70 L299.00,361.20 L300.00,360.70 L301.00,360.45 L302.00,360.19 L303.00,359.93 L304.00,359.67 L305.00,359.40 L306.00,358.83 L307.00,358.25 L308.00,357.67 L309.00,357.09 L310.00,356.50 L311.00,356.18 L312.00,355.86 L313.00,355.53 L314.00,355.20 L315.00,354.85 L316.00,354.50 L316.25,354.44 L316.50,354.37 L316.75,354.31 L317.00,354.24 L317.25,354.17 L317.50,354.11 L317.75,354.04 L318.00,353.96 L318.25,353.89 L318.50,353.81 L318.75,353.74 L319.00,353.65 L319.25,353.57 L319.50,353.48 L319.75,353.39 L320.00,353.30 L320.25,353.40 L320.50,353.50 L320.75,353.60 L321.00,353.68 L321.25,353.76 L321.50,353.83 L321.75,353.89 L322.00,353.94 L322.25,353.98 L322.50,354.00 L322.75,354.01 L323.00,354.00 L323.25,353.87 L323.50,353.72 L323.75,353.55 L324.00,353.36 L324.25,353.15 L324.50,352.93 L324.75,352.71 L325.00,352.49 L325.25,352.31 L325.50,352.17 L325.75,352.10 L326.00,352.10 L326.25,352.18 L326.50,352.34 L326.75,352.57 L327.00,352.84 L327.25,353.14 L327.50,353.44 L327.75,353.75 L328.00,354.04 L328.25,354.32 L328.50,354.57 L328.75,354.81 L329.00,355.02 L329.25,355.22 L329.50,355.39 L329.75,355.55 L330.00,355.70 L330.25,355.76 L330.50,355.80 L330.75,355.84 L331.00,355.86 L331.25,355.88 L331.50,355.89 L331.75,355.89 L332.00,355.89 L332.25,355.88 L332.50,355.87 L332.75,355.85 L333.00,355.83 L333.25,355.80 L333.50,355.77 L333.75,355.74 L334.00,355.70 L334.25,355.80 L334.50,355.89 L334.75,355.99 L335.00,356.07 L335.25,356.16 L335.50,356.24 L335.75,356.31 L336.00,356.38 L337.00,356.62 L338.00,356.75 L339.00,356.74 L339.40,356.68 L339.65,356.62 L339.90,356.54 L340.00,356.50 L340.15,356.41 L340.40,356.23 L340.65,356.02 L340.90,355.79 L341.00,355.68 L341.15,355.51 L341.40,355.19 L341.65,354.82 L341.90,354.40 L342.00,354.21 L342.15,353.90 L342.40,353.32 L342.65,352.64 L342.90,351.85 L343.00,351.49 L343.15,350.92 L343.40,349.81 L343.65,348.51 L343.90,346.97 L344.00,346.27 L344.15,345.14 L344.40,342.98 L344.65,340.43 L344.90,337.48 L345.00,336.17 L345.15,334.10 L345.40,330.38 L345.65,326.48 L345.90,322.72 L346.00,321.36 L346.15,319.58 L346.40,317.59 L346.65,317.15 L346.90,318.37 L347.00,319.27 L347.15,321.00 L347.40,324.57 L347.65,328.56 L347.90,332.54 L348.00,334.07 L348.15,336.26 L348.40,339.59 L348.65,342.51 L348.90,345.01 L349.00,345.91 L349.15,347.16 L349.40,348.99 L349.65,350.56 L349.90,351.90 L350.00,352.38 L350.15,353.05 L350.40,354.05 L350.65,354.92 L350.90,355.68 L351.00,355.95 L351.15,356.34 L351.40,356.94 L351.65,357.46 L351.90,357.93 L352.00,358.11 L352.15,358.36 L352.40,358.74 L352.65,359.09 L352.90,359.41 L353.00,359.52 L353.15,359.70 L353.40,359.97 L353.65,360.21 L354.00,360.53 L355.00,361.30 L356.00,361.53 L357.00,361.66 L358.00,361.72 L359.00,361.73 L360.00,361.70 L361.00,361.66 L362.00,361.59 L363.00,361.50 L364.00,361.41 L365.00,361.30 L366.00,361.56 L367.00,361.82 L368.00,362.06 L369.00,362.31 L370.00,362.54 L371.00,362.77 L372.00,363.00 L373.00,363.10 L374.00,363.20 L375.00,363.29 L376.00,363.37 L377.00,363.45 L378.00,363.51 L379.00,363.56 L380.00,363.60 L380.25,363.53 L380.50,363.46 L380.75,363.38 L381.00,363.31 L381.25,363.23 L381.50,363.15 L381.75,363.07 L382.00,362.99 L382.25,362.90 L382.50,362.81 L382.75,362.72 L383.00,362.62 L383.25,362.52 L383.50,362.42 L383.75,362.32 L384.00,362.20 L384.25,362.09 L384.50,361.96 L384.75,361.84 L385.00,361.70 L385.25,361.63 L385.50,361.56 L385.75,361.48 L386.00,361.38 L386.25,361.27 L386.50,361.15 L386.75,361.02 L387.00,360.87 L387.25,360.70 L387.50,360.51 L387.75,360.30 L388.00,360.06 L388.25,359.79 L388.50,359.50 L388.75,359.17 L389.00,358.81 L389.25,358.42 L389.50,358.00 L389.75,357.54 L390.00,357.06 L390.25,356.57 L390.50,356.07 L390.75,355.59 L391.00,355.16 L391.25,354.79 L391.50,354.51 L391.75,354.34 L392.00,354.30 L392.25,354.40 L392.50,354.62 L392.75,354.96 L393.00,355.38 L393.25,355.88 L393.50,356.41 L393.75,356.96 L394.00,357.51 L394.25,358.05 L394.50,358.56 L394.75,359.04 L395.00,359.49 L395.25,359.91 L395.50,360.29 L395.75,360.64 L396.00,360.96 L396.25,361.26 L396.50,361.53 L396.75,361.77 L397.00,362.00 L397.25,362.21 L397.50,362.40 L397.75,362.57 L398.00,362.74 L398.25,362.89 L398.50,363.03 L398.75,363.16 L399.00,363.28 L399.25,363.40 L399.50,363.50 L399.75,363.60 L400.00,363.70 L400.25,363.78 L400.50,363.86 L400.75,363.94 L401.00,364.01 L401.25,364.07 L401.50,364.14 L401.75,364.20 L402.00,364.26 L402.25,364.31 L402.50,364.36 L402.75,364.41 L403.00,364.46 L403.25,364.51 L403.50,364.56 L403.75,364.60 L404.00,364.64 L405.00,364.80 L406.00,364.60 L407.00,364.39 L408.00,364.17 L409.00,363.94 L410.00,363.70 L411.00,363.55 L412.00,363.39 L413.00,363.23 L414.00,363.06 L415.00,362.89 L415.25,362.85 L415.50,362.80 L415.75,362.76 L416.00,362.71 L416.25,362.66 L416.50,362.62 L416.75,362.57 L417.00,362.52 L417.25,362.47 L417.50,362.43 L417.75,362.38 L418.00,362.33 L418.25,362.28 L418.50,362.22 L418.75,362.17 L419.00,362.12 L419.25,362.07 L419.50,362.01 L419.75,361.96 L420.00,361.90 L420.25,361.87 L420.50,361.84 L420.75,361.82 L421.00,361.78 L421.25,361.75 L421.50,361.72 L421.75,361.68 L422.00,361.65 L422.25,361.61 L422.50,361.57 L422.75,361.52 L423.00,361.48 L423.25,361.43 L423.50,361.38 L423.75,361.32 L424.00,361.27 L424.25,361.21 L424.50,361.14 L424.75,361.07 L425.00,361.00 L425.25,360.96 L425.50,360.92 L425.75,360.87 L426.00,360.82 L426.25,360.76 L426.50,360.70 L426.75,360.62 L427.00,360.54 L427.25,360.46 L427.50,360.36 L427.75,360.26 L428.00,360.15 L428.25,360.04 L428.50,359.93 L428.75,359.81 L429.00,359.69 L429.25,359.58 L429.50,359.47 L429.75,359.38 L430.00,359.30 L430.25,359.23 L430.50,359.20 L430.75,359.18 L431.00,359.20 L431.25,359.24 L431.50,359.32 L431.75,359.41 L432.00,359.53 L432.25,359.67 L432.50,359.83 L432.75,360.00 L433.00,360.17 L433.25,360.35 L433.50,360.52 L433.75,360.70 L434.00,360.87 L434.25,361.04 L434.50,361.20 L434.75,361.35 L435.00,361.50 L435.25,361.64 L435.50,361.77 L435.75,361.90 L436.00,362.02 L436.25,362.13 L436.50,362.24 L436.75,362.34 L437.00,362.44 L437.25,362.53 L437.50,362.61 L437.75,362.70 L438.00,362.78 L438.25,362.85 L438.50,362.92 L438.75,362.99 L439.00,363.06 L439.25,363.12 L439.50,363.18 L439.75,363.24 L440.00,363.30 L440.25,363.36 L440.50,363.41 L440.75,363.46 L441.00,363.51 L441.25,363.56 L441.50,363.61 L441.75,363.65 L442.00,363.70 L442.25,363.74 L442.50,363.79 L442.75,363.83 L443.00,363.87 L443.25,363.91 L443.50,363.95 L443.75,363.99 L444.00,364.02 L444.25,364.06 L444.50,364.10 L444.75,364.13 L445.00,364.17 L445.25,364.21 L445.50,364.24 L445.75,364.27 L446.00,364.31 L446.25,364.34 L446.50,364.37 L446.75,364.41 L447.00,364.44 L448.00,364.56 L449.00,364.68 L450.00,364.80 L451.00,364.70 L452.00,364.61 L453.00,364.50 L454.00,364.40 L455.00,364.29 L456.00,364.18 L457.00,364.06 L458.00,363.94 L459.00,363.82 L460.00,363.70 L461.00,363.35 L462.00,362.99 L463.00,362.63 L464.00,362.27 L465.00,361.90 L466.00,361.59 L467.00,361.28 L468.00,360.96 L469.00,360.63 L470.00,360.30 L471.00,359.66 L472.00,359.01 L473.00,358.35 L474.00,357.68 L475.00,357.00 L476.00,356.04 L477.00,355.06 L478.00,354.07 L479.00,353.05 L480.00,352.00 L481.00,351.41 L481.70,350.97 L481.95,350.81 L482.00,350.78 L482.20,350.65 L482.45,350.48 L482.70,350.32 L482.95,350.14 L483.00,350.11 L483.20,349.97 L483.45,349.79 L483.70,349.61 L483.95,349.42 L484.00,349.39 L484.20,349.23 L484.45,349.04 L484.70,348.84 L484.95,348.64 L485.00,348.60 L485.20,348.45 L485.45,348.26 L485.70,348.06 L485.95,347.86 L486.00,347.82 L486.20,347.66 L486.45,347.44 L486.70,347.22 L486.95,347.00 L487.00,346.95 L487.20,346.76 L487.45,346.52 L487.70,346.27 L487.95,346.01 L488.00,345.96 L488.20,345.75 L488.45,345.47 L488.70,345.19 L488.95,344.89 L489.00,344.83 L489.20,344.58 L489.45,344.26 L489.70,343.93 L489.95,343.58 L490.00,343.51 L490.20,343.22 L490.45,342.84 L490.70,342.45 L490.95,342.04 L491.00,341.95 L491.20,341.61 L491.45,341.16 L491.70,340.69 L491.95,340.20 L492.00,340.10 L492.20,339.68 L492.45,339.14 L492.70,338.57 L492.95,337.97 L493.00,337.85 L493.20,337.34 L493.45,336.68 L493.70,335.98 L493.95,335.24 L494.00,335.09 L494.20,334.46 L494.45,333.64 L494.70,332.78 L494.95,331.86 L495.00,331.67 L495.20,330.90 L495.45,329.88 L495.70,328.81 L495.95,327.68 L496.00,327.44 L496.20,326.48 L496.45,325.23 L496.70,323.91 L496.95,322.53 L497.00,322.25 L497.20,321.09 L497.45,319.58 L497.70,318.02 L497.95,316.40 L498.00,316.07 L498.20,314.74 L498.45,313.04 L498.70,311.32 L498.95,309.59 L499.00,309.24 L499.20,307.87 L499.45,306.18 L499.70,304.54 L499.95,302.99 L500.00,302.70 L500.20,301.56 L500.45,300.26 L500.70,299.14 L500.95,298.21 L501.00,298.05 L501.20,297.50 L501.45,297.03 L501.70,296.80 L501.95,296.83 L502.00,296.86 L502.20,297.10 L502.45,297.61 L502.70,298.34 L502.95,299.26 L503.00,299.47 L503.20,300.35 L503.45,301.59 L503.70,302.94 L503.95,304.37 L504.00,304.66 L504.20,305.85 L504.45,307.37 L504.70,308.90 L504.95,310.42 L505.00,310.72 L505.20,311.91 L505.45,313.37 L505.70,314.77 L505.95,316.13 L506.00,316.39 L506.20,317.42 L506.45,318.66 L506.70,319.83 L506.95,320.93 L507.00,321.14 L507.20,321.97 L507.45,322.95 L507.70,323.86 L507.95,324.71 L508.00,324.88 L508.20,325.51 L508.45,326.25 L508.70,326.94 L508.95,327.58 L509.00,327.70 L509.20,328.00 L509.45,328.33 L509.70,328.63 L509.95,328.88 L510.00,328.92 L510.20,329.09 L510.45,329.27 L510.70,329.41 L510.95,329.52 L511.00,329.54 L511.20,329.60 L511.45,329.65 L511.70,329.68 L511.95,329.67 L512.00,329.67 L512.20,329.65 L512.45,329.59 L512.70,329.52 L512.95,329.42 L513.00,329.40 L513.20,329.45 L513.45,329.50 L513.70,329.52 L513.95,329.53 L514.00,329.53 L514.20,329.52 L514.45,329.49 L514.70,329.44 L514.95,329.38 L515.00,329.36 L515.20,329.29 L515.45,329.19 L515.70,329.08 L515.95,328.94 L516.00,328.92 L516.20,328.79 L516.45,328.63 L516.70,328.44 L516.95,328.24 L517.00,328.20 L517.20,328.39 L517.45,328.60 L517.70,328.80 L517.95,328.98 L518.00,329.01 L518.20,329.14 L518.45,329.28 L518.70,329.40 L518.95,329.50 L519.00,329.52 L519.20,329.58 L519.45,329.63 L519.70,329.66 L519.95,329.67 L520.00,329.67 L520.20,329.65 L520.45,329.61 L520.70,329.53 L520.95,329.42 L521.00,329.40 L521.20,329.43 L521.45,329.43 L521.70,329.39 L521.95,329.32 L522.00,329.30 L522.20,329.21 L522.45,329.05 L522.70,328.85 L522.95,328.60 L523.00,328.54 L523.20,328.29 L523.45,327.93 L523.70,327.50 L523.95,327.01 L524.00,326.90 L524.20,326.15 L524.45,325.13 L524.70,324.03 L524.95,322.85 L525.00,322.60 L525.20,321.56 L525.45,320.17 L525.70,318.66 L525.95,317.03 L526.00,316.68 L526.20,315.25 L526.45,313.34 L526.70,311.25 L526.95,309.00 L527.00,308.52 L527.20,306.54 L527.45,303.88 L527.70,301.00 L527.95,297.86 L528.00,297.20 L528.20,294.46 L528.45,290.76 L528.70,286.75 L528.95,282.39 L529.00,281.48 L529.20,277.68 L529.45,272.58 L529.70,267.08 L529.95,261.15 L530.00,259.91 L530.20,254.79 L530.45,248.00 L530.70,240.79 L530.95,233.18 L531.00,231.62 L531.20,225.24 L531.45,217.04 L531.70,208.69 L531.95,200.34 L532.00,198.68 L532.20,192.17 L532.45,184.40 L532.70,177.29 L532.95,171.09 L533.00,169.98 L533.20,166.06 L533.45,162.44 L533.70,160.40 L533.95,160.07 L534.00,160.21 L534.20,161.47 L534.45,164.52 L534.70,169.11 L534.95,175.00 L535.00,176.32 L535.20,181.98 L535.45,189.75 L535.70,198.08 L535.95,206.72 L536.00,208.47 L536.20,215.47 L536.45,224.15 L536.70,232.63 L536.95,240.82 L537.00,242.42 L537.20,248.65 L537.45,256.07 L537.70,263.06 L537.95,269.62 L538.00,270.88 L538.20,275.76 L538.45,281.47 L538.70,286.79 L538.95,291.74 L539.00,292.68 L539.20,296.33 L539.45,300.59 L539.70,304.55 L539.95,308.22 L540.00,308.93 L540.20,311.64 L540.45,314.81 L540.70,317.77 L540.95,320.52 L541.00,321.05 L541.20,323.09 L541.45,325.49 L541.70,327.74 L541.95,329.84 L542.00,330.24 L542.20,331.81 L542.45,333.66 L542.70,335.40 L542.95,337.03 L543.00,337.35 L543.20,338.58 L543.45,340.03 L543.70,341.41 L543.95,342.71 L544.00,342.97 L544.20,343.95 L544.45,345.12 L544.70,346.23 L544.95,347.29 L545.00,347.50 L545.20,347.91 L545.45,348.37 L545.70,348.79 L545.95,349.18 L546.00,349.25 L546.20,349.52 L546.45,349.83 L546.70,350.10 L546.95,350.35 L547.00,350.40 L547.20,350.57 L547.45,350.76 L547.70,350.92 L547.95,351.06 L548.00,351.09 L548.20,351.18 L548.45,351.28 L548.70,351.36 L548.95,351.42 L549.00,351.43 L550.00,351.50 L551.00,352.39 L552.00,353.11 L553.00,353.68 L554.00,354.14 L555.00,354.50 L556.00,355.22 L557.00,355.86 L558.00,356.46 L559.00,357.00 L560.00,357.50 L561.00,357.91 L562.00,358.30 L563.00,358.65 L564.00,358.99 L565.00,359.30 L566.00,359.53 L567.00,359.74 L568.00,359.94 L569.00,360.13 L570.00,360.30 L571.00,360.58 L572.00,360.84 L573.00,361.10 L574.00,361.36 L575.00,361.60 L576.00,361.81 L577.00,362.02 L578.00,362.22 L579.00,362.41 L580.00,362.60 L581.00,362.41 L582.00,362.21 L583.00,362.01 L584.00,361.81 L585.00,361.60 L586.00,361.21 L587.00,360.81 L588.00,360.41 L589.00,360.01 L590.00,359.60 L591.00,359.24 L592.00,358.88 L593.00,358.50 L594.00,358.11 L594.25,358.01 L594.50,357.91 L594.75,357.80 L595.00,357.70 L595.25,357.61 L595.50,357.52 L595.75,357.43 L596.00,357.34 L596.25,357.24 L596.50,357.14 L596.75,357.04 L597.00,356.94 L597.25,356.83 L597.50,356.72 L597.75,356.60 L598.00,356.48 L598.25,356.35 L598.50,356.21 L598.75,356.07 L599.00,355.92 L599.25,355.76 L599.50,355.58 L599.75,355.40 L600.00,355.20 L600.25,355.16 L600.50,355.11 L600.75,355.03 L601.00,354.93 L601.25,354.81 L601.50,354.66 L601.75,354.48 L602.00,354.27 L602.25,354.04 L602.50,353.80 L602.75,353.55 L603.00,353.32 L603.25,353.12 L603.50,352.99 L603.75,352.94 L604.00,353.00 L604.25,353.17 L604.50,353.44 L604.75,353.79 L605.00,354.21 L605.25,354.66 L605.50,355.13 L605.75,355.60 L606.00,356.05 L606.25,356.48 L606.50,356.88 L606.75,357.25 L607.00,357.60 L607.25,357.85 L607.50,358.07 L607.75,358.28 L608.00,358.46 L608.25,358.63 L608.50,358.79 L608.75,358.93 L609.00,359.06 L609.25,359.18 L609.50,359.30 L609.75,359.40 L610.00,359.50 L610.25,359.51 L610.50,359.51 L610.75,359.51 L611.00,359.50 L611.25,359.50 L611.50,359.48 L611.75,359.47 L612.00,359.45 L612.25,359.43 L612.50,359.41 L612.75,359.38 L613.00,359.36 L613.25,359.33 L613.50,359.30 L613.75,359.27 L614.00,359.24 L615.00,359.10 L616.00,359.37 L617.00,359.64 L618.00,359.90 L619.00,360.15 L620.00,360.40 L621.00,360.65 L622.00,360.89 L623.00,361.14 L624.00,361.38 L625.00,361.62 L626.00,361.86 L627.00,362.09 L628.00,362.33 L629.00,362.57 L630.00,362.80 L631.00,362.93 L632.00,363.06 L633.00,363.19 L634.00,363.33 L635.00,363.46 L636.00,363.58 L637.00,363.71 L638.00,363.84 L639.00,363.97 L640.00,364.10 L641.00,364.19 L642.00,364.28 L643.00,364.37 L644.00,364.46 L645.00,364.55 L646.00,364.64 L647.00,364.73 L648.00,364.82 L649.00,364.91 L650.00,365.00 L651.00,365.06 L652.00,365.11 L653.00,365.17 L654.00,365.23 L655.00,365.29 L656.00,365.34 L657.00,365.40 L657.20,365.40" fill="none" stroke="#8aa0bd" stroke-width="1.75" stroke-linejoin="round"/>
<path d="M97.00,333.70 L98.00,333.70 L99.00,333.70 L100.00,333.70 L101.00,333.82 L102.00,333.94 L103.00,334.06 L104.00,334.18 L105.00,334.30 L106.00,334.04 L107.00,333.78 L108.00,333.52 L109.00,333.26 L110.00,333.00 L111.00,332.88 L112.00,332.76 L113.00,332.64 L114.00,332.52 L115.00,332.40 L116.00,332.22 L117.00,332.04 L118.00,331.86 L119.00,331.68 L120.00,331.50 L121.00,331.42 L122.00,331.35 L123.00,331.27 L124.00,331.19 L125.00,331.10 L126.00,331.37 L127.00,331.64 L128.00,331.91 L129.00,332.16 L130.00,332.40 L131.00,332.74 L132.00,333.05 L133.00,333.33 L134.00,333.56 L135.00,333.70 L135.50,333.51 L135.75,333.40 L136.00,333.27 L136.25,333.13 L136.50,332.97 L136.75,332.79 L137.00,332.58 L137.25,332.33 L137.50,332.05 L137.75,331.72 L138.00,331.34 L138.25,330.88 L138.50,330.33 L138.75,329.68 L139.00,328.89 L139.25,327.93 L139.50,326.76 L139.75,325.34 L140.00,323.64 L140.25,321.63 L140.50,319.36 L140.75,316.96 L141.00,314.73 L141.25,313.11 L141.50,312.50 L141.75,313.10 L142.00,314.71 L142.25,316.93 L142.50,319.32 L142.75,321.58 L143.00,323.58 L143.25,325.28 L143.50,326.68 L143.75,327.84 L144.00,328.79 L144.25,329.57 L144.50,330.22 L144.75,330.75 L145.00,331.20 L145.25,331.58 L145.50,331.90 L145.75,332.17 L146.00,332.40 L146.25,332.56 L146.50,332.69 L146.75,332.79 L147.00,332.88 L147.25,332.95 L148.00,333.09 L149.00,333.15 L150.00,333.13 L151.00,333.04 L152.00,332.92 L153.00,332.77 L154.00,332.59 L155.00,332.40 L156.00,332.55 L157.00,332.69 L158.00,332.81 L159.00,332.92 L160.00,333.00 L161.00,333.21 L162.00,333.39 L163.00,333.54 L164.00,333.65 L165.00,333.70 L166.00,333.27 L166.20,333.17 L166.45,333.05 L166.70,332.91 L166.95,332.77 L167.00,332.74 L167.20,332.63 L167.45,332.47 L167.70,332.31 L167.95,332.13 L168.00,332.09 L168.20,331.94 L168.45,331.75 L168.70,331.54 L168.95,331.32 L169.00,331.27 L169.20,331.08 L169.45,330.82 L169.70,330.55 L169.95,330.26 L170.00,330.20 L170.20,329.94 L170.45,329.60 L170.70,329.24 L170.95,328.84 L171.00,328.76 L171.20,328.42 L171.45,327.95 L171.70,327.45 L171.95,326.90 L172.00,326.78 L172.20,326.30 L172.45,325.65 L172.70,324.93 L172.95,324.15 L173.00,323.98 L173.20,323.28 L173.45,322.34 L173.70,321.29 L173.95,320.14 L174.00,319.90 L174.20,318.88 L174.45,317.49 L174.70,315.95 L174.95,314.28 L175.00,313.92 L175.20,312.45 L175.45,310.46 L175.70,308.31 L175.95,306.03 L176.00,305.56 L176.20,303.64 L176.45,301.18 L176.70,298.71 L176.95,296.33 L177.00,295.87 L177.20,294.13 L177.45,292.24 L177.70,290.78 L177.95,289.84 L178.00,289.72 L178.20,289.50 L178.45,289.78 L178.70,290.67 L178.95,292.08 L179.00,292.42 L179.20,293.92 L179.45,296.06 L179.70,298.38 L179.95,300.79 L180.00,301.28 L180.20,303.20 L180.45,305.54 L180.70,307.76 L180.95,309.85 L181.00,310.25 L181.20,311.78 L181.45,313.55 L181.70,315.17 L181.95,316.64 L182.00,316.92 L182.20,317.98 L182.45,319.18 L182.70,320.27 L182.95,321.25 L183.00,321.43 L183.20,322.13 L183.45,322.93 L183.70,323.65 L183.95,324.30 L184.00,324.42 L184.20,324.88 L184.45,325.41 L184.70,325.89 L184.95,326.32 L185.00,326.40 L185.20,326.71 L185.45,327.05 L185.70,327.37 L185.95,327.65 L186.00,327.70 L186.20,327.90 L186.45,328.13 L186.70,328.33 L186.95,328.50 L187.00,328.53 L187.20,328.65 L187.45,328.78 L187.70,328.89 L187.95,328.98 L188.00,329.00 L188.20,329.06 L188.45,329.12 L188.70,329.16 L188.95,329.18 L189.00,329.18 L189.20,329.18 L189.45,329.16 L189.70,329.11 L189.95,329.05 L190.00,329.03 L190.20,328.96 L190.45,328.84 L190.70,328.69 L190.95,328.51 L191.00,328.47 L191.20,328.29 L191.45,328.03 L191.70,327.72 L191.95,327.36 L192.00,327.28 L192.20,326.94 L192.45,326.45 L192.70,325.87 L192.95,325.20 L193.00,325.06 L193.20,324.43 L193.45,323.54 L193.70,322.53 L193.95,321.38 L194.00,321.13 L194.20,320.09 L194.45,318.70 L194.70,317.22 L194.95,315.73 L195.00,315.44 L195.20,314.34 L195.45,313.17 L195.70,312.35 L195.95,312.01 L196.00,312.00 L196.20,312.18 L196.45,312.86 L196.70,313.95 L196.95,315.31 L197.00,315.60 L197.20,316.81 L197.45,318.34 L197.70,319.82 L197.95,321.20 L198.00,321.46 L198.20,322.44 L198.45,323.56 L198.70,324.54 L198.95,325.41 L199.00,325.57 L199.20,326.17 L199.45,326.83 L199.70,327.41 L199.95,327.92 L200.00,328.01 L200.20,328.37 L200.45,328.76 L200.70,329.10 L200.95,329.41 L201.00,329.47 L201.20,329.68 L201.45,329.92 L201.70,330.13 L201.95,330.33 L202.00,330.36 L202.20,330.50 L202.45,330.65 L202.70,330.79 L202.95,330.92 L203.00,330.94 L203.20,331.03 L203.45,331.13 L203.70,331.22 L203.95,331.31 L204.00,331.32 L204.20,331.38 L204.45,331.45 L204.70,331.51 L205.00,331.58 L206.00,331.75 L207.00,331.87 L208.00,331.94 L209.00,331.98 L210.00,332.00 L211.00,331.46 L212.00,330.91 L213.00,330.34 L214.00,329.76 L215.00,329.17 L216.00,328.56 L217.00,327.94 L218.00,327.31 L219.00,326.66 L220.00,326.00 L221.00,325.74 L222.00,325.46 L223.00,325.16 L224.00,324.84 L225.00,324.50 L226.00,325.05 L227.00,325.58 L228.00,326.06 L229.00,326.50 L230.00,325.76 L231.00,324.96 L232.00,324.08 L233.00,323.10 L234.00,322.00 L235.00,321.87 L236.00,321.54 L236.30,321.39 L236.55,321.25 L236.80,321.09 L237.00,320.94 L237.05,320.90 L237.30,320.70 L237.55,320.47 L237.80,320.22 L238.00,320.00 L238.05,319.90 L238.30,319.40 L238.55,318.87 L238.80,318.30 L239.00,317.82 L239.05,317.70 L239.30,317.05 L239.55,316.36 L239.80,315.62 L240.00,314.99 L240.05,314.83 L240.30,313.98 L240.55,313.06 L240.80,312.08 L241.00,311.23 L241.05,311.02 L241.30,309.87 L241.55,308.63 L241.80,307.29 L242.00,306.14 L242.05,305.84 L242.30,304.26 L242.55,302.55 L242.80,300.68 L243.00,299.07 L243.05,298.65 L243.30,296.43 L243.55,294.00 L243.80,291.34 L244.00,289.03 L244.05,288.43 L244.30,285.24 L244.55,281.74 L244.80,277.90 L245.00,274.57 L245.05,273.70 L245.30,269.09 L245.55,264.07 L245.80,258.60 L246.00,253.89 L246.05,252.67 L246.30,246.29 L246.55,239.48 L246.80,232.29 L247.00,226.33 L247.05,224.82 L247.30,217.19 L247.55,209.62 L247.80,202.34 L248.00,196.92 L248.05,195.64 L248.30,189.86 L248.55,185.33 L248.80,182.32 L249.00,181.15 L249.05,181.04 L249.30,181.58 L249.55,183.91 L249.80,187.86 L250.00,192.02 L250.05,193.18 L250.30,199.54 L250.55,206.62 L250.80,214.10 L251.00,220.20 L251.05,221.72 L251.30,229.27 L251.55,236.58 L251.80,243.54 L252.00,248.82 L252.05,250.09 L252.30,256.20 L252.55,261.84 L252.80,267.03 L253.00,270.87 L253.05,271.79 L253.30,276.14 L253.55,280.12 L253.80,283.74 L254.00,286.41 L254.05,287.04 L254.30,290.05 L254.55,292.80 L254.80,295.31 L255.00,297.16 L255.05,297.60 L255.30,299.70 L255.55,301.62 L255.80,303.38 L256.00,304.69 L256.05,305.00 L256.30,306.49 L256.55,307.86 L256.80,309.12 L257.00,310.06 L257.05,310.29 L257.30,311.37 L257.55,312.37 L257.80,313.29 L258.00,313.98 L258.05,314.15 L258.30,314.95 L258.55,315.69 L258.80,316.38 L259.00,316.90 L259.05,317.03 L259.30,317.63 L259.55,318.18 L259.80,318.71 L260.00,319.10 L260.05,319.20 L260.30,319.65 L260.55,320.08 L260.80,320.48 L261.00,320.77 L261.05,320.85 L261.30,321.19 L261.55,321.52 L261.80,321.82 L262.00,322.05 L263.00,323.00 L264.00,323.69 L264.40,323.89 L264.65,324.00 L264.90,324.09 L265.00,324.12 L265.15,324.16 L265.40,324.22 L265.65,324.25 L265.90,324.28 L266.00,324.28 L266.15,324.28 L266.40,324.26 L266.65,324.21 L266.90,324.15 L267.00,324.11 L267.15,324.05 L267.40,323.93 L267.65,323.77 L267.90,323.58 L268.00,323.49 L268.15,323.34 L268.40,323.06 L268.65,322.73 L268.90,322.33 L269.00,322.16 L269.15,321.87 L269.40,321.32 L269.65,320.68 L269.90,319.94 L270.00,319.61 L270.15,319.07 L270.40,318.07 L270.65,316.91 L270.90,315.58 L271.00,314.99 L271.15,314.07 L271.40,312.38 L271.65,310.55 L271.90,308.61 L272.00,307.82 L272.15,306.65 L272.40,304.83 L272.65,303.29 L272.90,302.23 L273.00,301.98 L273.15,301.80 L273.40,302.07 L273.65,303.00 L273.90,304.48 L274.00,305.19 L274.15,306.33 L274.40,308.36 L274.65,310.43 L274.90,312.44 L275.00,313.20 L275.15,314.30 L275.40,316.00 L275.65,317.52 L275.90,318.86 L276.00,319.35 L276.15,320.05 L276.40,321.09 L276.65,322.01 L276.90,322.81 L277.00,323.11 L277.15,323.52 L277.40,324.15 L277.65,324.71 L277.90,325.20 L278.00,325.38 L278.15,325.64 L278.40,326.03 L278.65,326.39 L278.90,326.71 L279.00,326.83 L279.15,327.00 L279.40,327.26 L279.65,327.50 L279.90,327.72 L280.00,327.80 L280.15,327.94 L280.40,328.17 L280.65,328.38 L280.90,328.58 L281.00,328.66 L281.15,328.77 L281.40,328.94 L281.65,329.11 L281.90,329.27 L282.00,329.33 L283.00,329.89 L284.00,330.36 L285.00,330.78 L286.00,331.16 L287.00,331.50 L288.00,331.82 L289.00,332.12 L290.00,332.40 L291.00,332.39 L292.00,332.38 L293.00,332.35 L294.00,332.32 L295.00,332.28 L296.00,332.23 L297.00,332.18 L298.00,332.12 L299.00,332.06 L300.00,332.00 L301.00,331.73 L302.00,331.46 L303.00,331.19 L304.00,330.91 L305.00,330.63 L306.00,330.35 L307.00,330.07 L308.00,329.78 L309.00,329.49 L310.00,329.20 L311.00,328.40 L312.00,327.59 L313.00,326.78 L314.00,325.96 L315.00,325.14 L316.00,324.30 L317.00,324.77 L317.50,325.00 L317.75,325.11 L318.00,325.22 L318.25,325.33 L318.50,325.44 L318.75,325.54 L319.00,325.64 L319.25,325.74 L319.50,325.83 L319.75,325.92 L320.00,326.00 L320.25,325.92 L320.50,325.84 L320.75,325.74 L321.00,325.64 L321.25,325.53 L321.50,325.40 L321.75,325.26 L322.00,325.10 L322.25,324.92 L322.50,324.72 L322.75,324.49 L323.00,324.23 L323.25,323.93 L323.50,323.59 L323.75,323.21 L324.00,322.79 L324.25,322.34 L324.50,321.88 L324.75,321.44 L325.00,321.07 L325.25,320.81 L325.50,320.70 L325.75,320.75 L326.00,320.96 L326.25,321.27 L326.50,321.65 L326.75,322.05 L327.00,322.45 L327.25,322.81 L327.50,323.13 L327.75,323.41 L328.00,323.66 L328.25,323.86 L328.50,324.04 L328.75,324.18 L329.00,324.30 L329.25,324.38 L329.50,324.45 L329.75,324.50 L330.00,324.54 L330.25,324.57 L330.50,324.59 L330.75,324.60 L331.00,324.60 L331.25,324.60 L331.50,324.59 L331.75,324.58 L332.00,324.56 L332.25,324.54 L332.50,324.51 L332.75,324.49 L333.00,324.45 L333.25,324.42 L334.00,324.30 L335.00,324.71 L336.00,325.08 L337.00,325.41 L338.00,325.69 L339.00,325.90 L340.00,326.00 L341.00,325.70 L341.40,325.52 L341.65,325.38 L341.90,325.21 L342.00,325.14 L342.15,325.02 L342.40,324.80 L342.65,324.55 L342.90,324.25 L343.00,324.11 L343.15,323.90 L343.40,323.49 L343.65,323.00 L343.90,322.43 L344.00,322.18 L344.15,321.76 L344.40,320.96 L344.65,320.01 L344.90,318.86 L345.00,318.34 L345.15,317.48 L345.40,315.82 L345.65,313.81 L345.90,311.38 L346.00,310.28 L346.15,308.48 L346.40,305.07 L346.65,301.19 L346.90,296.99 L347.00,295.30 L347.15,292.86 L347.40,289.41 L347.65,287.34 L347.90,287.19 L348.00,287.69 L348.15,289.00 L348.40,292.34 L348.65,296.49 L348.90,300.81 L349.00,302.49 L349.15,304.88 L349.40,308.49 L349.65,311.60 L349.90,314.21 L350.00,315.14 L350.15,316.41 L350.40,318.24 L350.65,319.77 L350.90,321.06 L351.00,321.52 L351.15,322.15 L351.40,323.08 L351.65,323.88 L351.90,324.57 L352.00,324.82 L352.15,325.17 L352.40,325.70 L352.65,326.16 L352.90,326.58 L353.00,326.73 L353.15,326.95 L353.40,327.28 L353.65,327.57 L353.90,327.85 L354.00,327.95 L354.15,328.09 L355.00,328.80 L356.00,329.29 L357.00,329.64 L358.00,329.91 L359.00,330.13 L360.00,330.30 L361.00,330.39 L362.00,330.47 L363.00,330.52 L364.00,330.57 L365.00,330.60 L366.00,330.53 L367.00,330.46 L368.00,330.38 L369.00,330.29 L370.00,330.20 L371.00,330.29 L372.00,330.38 L373.00,330.47 L374.00,330.99 L375.00,331.81 L376.00,332.63 L377.00,333.25 L378.00,333.42 L379.00,333.58 L380.00,333.73 L381.00,333.87 L381.20,333.90 L381.45,333.83 L381.70,333.75 L381.95,333.67 L382.00,333.66 L382.20,333.60 L382.45,333.52 L382.70,333.44 L382.95,333.35 L383.00,333.34 L383.20,333.27 L383.45,333.16 L383.70,332.97 L383.95,332.77 L384.00,332.73 L384.20,332.57 L384.45,332.36 L384.70,332.16 L384.95,331.94 L385.00,331.90 L385.20,331.73 L385.45,331.51 L385.70,331.29 L385.95,331.06 L386.00,331.01 L386.20,330.82 L386.45,330.58 L386.70,330.33 L386.95,330.08 L387.00,330.02 L387.20,329.81 L387.45,329.53 L387.70,329.24 L387.95,328.98 L388.00,328.96 L388.20,328.86 L388.45,328.73 L388.70,328.58 L388.95,328.41 L389.00,328.37 L389.20,328.21 L389.45,327.99 L389.70,327.75 L389.95,327.48 L390.00,327.43 L390.20,327.19 L390.45,326.88 L390.70,326.56 L390.95,326.23 L391.00,326.16 L391.20,325.91 L391.45,325.62 L391.70,325.37 L391.95,325.19 L392.00,325.17 L392.20,325.10 L392.45,325.11 L392.70,325.21 L392.95,325.41 L393.00,325.46 L393.20,325.69 L393.45,326.02 L393.70,326.40 L393.95,326.80 L394.00,326.88 L394.20,327.19 L394.45,327.59 L394.70,327.96 L394.95,328.31 L395.00,328.38 L395.20,328.64 L395.45,328.95 L395.70,329.23 L395.95,329.48 L396.00,329.53 L396.20,329.72 L396.45,329.93 L396.70,330.13 L396.95,330.39 L397.00,330.45 L397.20,330.69 L397.45,330.98 L397.70,331.25 L397.95,331.52 L398.00,331.57 L398.20,331.78 L398.45,332.02 L398.70,332.27 L398.95,332.50 L399.00,332.55 L399.20,332.73 L399.45,332.96 L399.70,333.18 L399.95,333.39 L400.00,333.43 L400.20,333.60 L400.45,333.81 L400.70,334.02 L400.95,334.10 L401.00,334.10 L401.20,334.10 L401.45,334.09 L401.70,334.09 L401.95,334.08 L402.00,334.08 L402.20,334.07 L402.45,334.06 L402.70,334.04 L402.95,334.03 L403.00,334.03 L403.20,334.01 L403.45,334.00 L404.00,333.96 L405.00,333.99 L406.00,334.30 L407.00,334.59 L408.00,334.89 L409.00,335.17 L410.00,334.91 L411.00,334.59 L412.00,334.26 L413.00,333.93 L414.00,333.81 L415.00,333.71 L416.00,333.60 L417.00,333.50 L418.00,332.78 L419.00,332.07 L420.00,331.35 L421.00,330.72 L422.00,330.87 L423.00,331.02 L424.00,331.18 L425.00,331.22 L426.00,330.85 L427.00,330.47 L428.00,330.09 L429.00,329.71 L430.00,329.57 L431.00,329.53 L432.00,329.49 L433.00,329.45 L434.00,329.41 L435.00,329.60 L436.00,329.89 L437.00,330.17 L438.00,331.41 L439.00,332.76 L440.00,334.10 L441.00,334.43 L442.00,334.76 L443.00,335.09 L444.00,335.42 L445.00,335.75 L446.00,336.07 L447.00,336.39 L448.00,336.69 L449.00,336.99 L450.00,337.29 L451.00,337.59 L452.00,337.89 L453.00,338.18 L454.00,338.18 L455.00,337.98 L456.00,337.78 L457.00,337.58 L458.00,337.38 L459.00,337.14 L460.00,336.89 L461.00,336.65 L462.00,336.40 L463.00,336.25 L464.00,336.17 L465.00,336.08 L466.00,335.99 L467.00,335.90 L468.00,335.80 L469.00,335.47 L470.00,335.13 L471.00,334.79 L472.00,334.44 L473.00,334.03 L474.00,333.56 L475.00,333.09 L476.00,332.80 L477.00,333.30 L478.00,333.79 L479.00,334.25 L480.00,334.54 L481.00,334.79 L481.50,334.90 L481.75,334.96 L482.00,335.01 L482.25,335.05 L482.50,335.10 L482.75,335.14 L483.00,335.18 L483.25,335.12 L483.50,334.98 L483.75,334.84 L484.00,334.70 L484.25,334.56 L484.50,334.41 L484.75,334.26 L485.00,334.10 L485.25,333.94 L485.50,333.77 L485.75,333.60 L486.00,333.42 L486.25,333.20 L486.50,332.99 L486.75,332.76 L487.00,332.53 L487.25,332.30 L487.50,332.05 L487.75,331.81 L488.00,331.55 L488.25,331.28 L488.50,331.01 L488.75,330.73 L489.00,330.44 L489.25,330.15 L489.50,329.89 L489.75,329.62 L490.00,329.34 L490.25,329.04 L490.50,328.73 L490.75,328.41 L491.00,328.07 L491.25,327.72 L491.50,327.35 L491.75,326.96 L492.00,326.55 L492.25,326.12 L492.50,325.67 L492.75,325.19 L493.00,324.69 L493.25,324.16 L493.50,323.60 L493.75,323.01 L494.00,322.39 L494.25,321.73 L494.50,321.04 L494.75,320.30 L495.00,319.53 L495.25,318.71 L495.50,317.85 L495.75,316.94 L496.00,315.98 L496.25,314.97 L496.50,313.90 L496.75,312.79 L497.00,311.62 L497.25,310.41 L497.50,309.14 L497.75,307.83 L498.00,306.49 L498.25,305.12 L498.50,303.72 L498.75,302.32 L499.00,300.93 L499.25,299.56 L499.50,298.24 L499.75,296.99 L500.00,295.83 L500.25,294.78 L500.50,293.87 L500.75,293.12 L501.00,292.55 L501.25,292.18 L501.50,292.00 L501.75,292.03 L502.00,292.26 L502.25,292.68 L502.50,293.28 L502.75,294.04 L503.00,294.94 L503.25,295.95 L503.50,297.06 L503.75,298.23 L504.00,299.45 L504.25,300.69 L504.50,301.94 L504.75,303.18 L505.00,304.41 L505.25,305.60 L505.50,306.75 L505.75,307.86 L506.00,308.92 L506.25,309.93 L506.50,310.88 L506.75,311.79 L507.00,312.64 L507.25,313.43 L507.50,314.18 L507.75,314.88 L508.00,315.53 L508.25,316.14 L508.50,316.70 L508.75,317.22 L509.00,317.70 L509.25,317.70 L509.50,317.66 L509.75,317.59 L510.00,317.49 L510.25,317.36 L510.50,317.20 L510.75,317.01 L511.00,316.79 L511.25,316.56 L511.50,316.30 L511.75,316.01 L512.00,315.71 L512.25,315.39 L512.50,315.04 L512.75,314.68 L513.00,314.30 L513.25,314.48 L513.50,314.63 L513.75,314.77 L514.00,314.90 L514.25,315.01 L514.50,315.10 L514.75,315.18 L515.00,315.25 L515.25,315.29 L515.50,315.33 L515.75,315.34 L516.00,315.35 L516.25,315.33 L516.50,315.30 L516.75,315.26 L517.00,315.20 L517.25,315.30 L517.50,315.37 L517.75,315.44 L518.00,315.48 L518.25,315.50 L518.40,315.51 L518.50,315.51 L518.65,315.50 L518.75,315.50 L518.90,315.48 L519.00,315.46 L519.15,315.43 L519.25,315.40 L519.40,315.36 L519.50,315.32 L519.65,315.27 L519.75,315.22 L519.90,315.15 L520.00,315.09 L520.15,315.00 L520.25,314.94 L520.40,314.83 L520.50,314.76 L520.65,314.63 L520.75,314.54 L520.90,314.40 L521.00,314.30 L521.15,314.37 L521.25,314.41 L521.40,314.45 L521.65,314.50 L521.90,314.51 L522.00,314.50 L522.15,314.48 L522.40,314.40 L522.65,314.27 L522.90,314.09 L523.00,314.01 L523.15,313.86 L523.40,313.57 L523.65,313.22 L523.90,312.79 L524.00,312.60 L524.15,311.93 L524.40,310.75 L524.65,309.48 L524.90,308.11 L525.00,307.54 L525.15,306.65 L525.40,305.07 L525.65,303.37 L525.90,301.54 L526.00,300.77 L526.15,299.57 L526.40,297.44 L526.65,295.13 L526.90,292.65 L527.00,291.60 L527.15,289.96 L527.40,287.05 L527.65,283.90 L527.90,280.50 L528.00,279.05 L528.15,276.81 L528.40,272.81 L528.65,268.49 L528.90,263.82 L529.00,261.85 L529.15,258.78 L529.40,253.35 L529.65,247.51 L529.90,241.25 L530.00,238.63 L530.15,234.58 L530.40,227.50 L530.65,220.04 L530.90,212.25 L531.00,209.06 L531.15,204.22 L531.40,196.04 L531.65,187.86 L531.90,179.85 L532.00,176.75 L532.15,172.24 L532.40,165.25 L532.65,159.15 L532.90,154.18 L533.00,152.56 L533.15,150.57 L533.40,148.49 L533.65,148.05 L533.90,149.27 L534.00,150.22 L534.15,152.10 L534.40,156.41 L534.65,161.98 L534.90,168.59 L535.00,171.47 L535.15,175.98 L535.40,183.90 L535.65,192.12 L535.90,200.44 L536.00,203.76 L536.15,208.70 L536.40,216.77 L536.65,224.56 L536.90,231.99 L537.00,234.86 L537.15,239.04 L537.40,245.67 L537.65,251.88 L537.90,257.68 L538.00,259.89 L538.15,263.08 L538.40,268.10 L538.65,272.75 L538.90,277.07 L539.00,278.70 L539.15,281.06 L539.40,284.76 L539.65,288.19 L539.90,291.37 L540.00,292.58 L540.15,294.32 L540.40,297.05 L540.65,299.59 L540.90,301.96 L541.00,302.85 L541.15,304.15 L541.40,306.20 L541.65,308.11 L541.90,309.90 L542.00,310.58 L542.15,311.56 L542.40,313.12 L542.65,314.59 L542.90,315.96 L543.00,316.48 L543.15,317.25 L543.40,318.46 L543.65,319.60 L543.90,320.67 L544.00,321.09 L544.15,321.69 L544.40,322.64 L544.65,323.55 L544.90,324.41 L545.00,324.74 L545.15,325.22 L545.40,325.99 L545.65,326.72 L545.90,327.42 L546.00,327.68 L546.15,328.08 L546.40,328.71 L546.65,329.31 L546.90,329.88 L547.00,330.10 L547.15,330.22 L547.40,330.41 L547.65,330.57 L547.90,330.71 L548.00,330.76 L548.15,330.83 L548.40,330.93 L548.65,331.01 L549.00,331.10 L550.00,331.20 L551.00,331.94 L552.00,332.53 L553.00,332.99 L554.00,333.34 L555.00,333.60 L556.00,334.05 L557.00,334.43 L558.00,334.76 L559.00,335.05 L560.00,335.30 L561.00,335.75 L562.00,336.17 L563.00,336.57 L564.00,336.94 L565.00,337.30 L566.00,338.01 L567.00,338.71 L568.00,339.40 L569.00,338.56 L570.00,337.70 L571.00,337.98 L572.00,338.24 L573.00,338.50 L574.00,338.75 L575.00,339.00 L576.00,339.25 L577.00,339.49 L578.00,339.73 L579.00,339.97 L580.00,340.20 L581.00,340.07 L582.00,339.93 L583.00,339.79 L584.00,339.65 L585.00,339.50 L586.00,339.11 L587.00,338.71 L588.00,338.31 L589.00,337.91 L590.00,337.50 L591.00,337.25 L592.00,337.00 L593.00,336.74 L594.00,336.47 L595.00,336.20 L596.00,335.98 L596.20,335.94 L596.45,335.88 L596.70,335.83 L596.95,335.77 L597.00,335.75 L597.20,335.71 L597.45,335.64 L597.70,335.58 L597.95,335.51 L598.00,335.50 L598.20,335.45 L598.45,335.37 L598.70,335.30 L598.95,335.22 L599.00,335.21 L599.20,335.14 L599.45,335.05 L599.70,334.98 L599.95,334.92 L600.00,334.91 L600.20,334.85 L600.45,334.78 L600.70,334.70 L600.95,334.60 L601.00,334.58 L601.20,334.49 L601.45,334.36 L601.70,334.21 L601.95,334.04 L602.00,334.00 L602.20,333.85 L602.45,333.63 L602.70,333.39 L602.95,333.13 L603.00,333.08 L603.20,332.86 L603.45,332.61 L603.70,332.40 L603.95,332.26 L604.00,332.24 L604.20,332.20 L604.45,332.24 L604.70,332.37 L604.95,332.57 L605.00,332.62 L605.20,332.81 L605.45,333.06 L605.70,333.30 L605.95,333.53 L606.00,333.57 L606.20,333.74 L606.45,333.92 L606.70,334.07 L606.95,334.20 L607.00,334.23 L607.20,334.32 L607.45,334.42 L607.70,334.50 L607.95,334.64 L608.00,334.67 L608.20,334.77 L608.45,334.89 L608.70,335.00 L608.95,335.10 L609.00,335.12 L609.20,335.20 L609.45,335.30 L609.70,335.39 L609.95,335.48 L610.00,335.50 L610.20,335.56 L610.45,335.65 L610.70,335.73 L610.95,335.80 L611.00,335.82 L611.20,335.88 L611.45,335.96 L611.70,336.03 L611.95,336.10 L612.00,336.12 L613.00,335.88 L614.00,335.40 L615.00,334.92 L616.00,334.43 L617.00,333.94 L618.00,333.45 L619.00,333.28 L620.00,333.15 L621.00,333.02 L622.00,332.88 L623.00,332.99 L624.00,333.47 L625.00,333.95 L626.00,334.43 L627.00,334.90 L628.00,335.30 L629.00,335.67 L630.00,336.04 L631.00,336.40 L632.00,336.64 L633.00,336.34 L634.00,336.04 L635.00,335.75 L636.00,335.45 L637.00,335.15 L638.00,335.05 L639.00,335.16 L640.00,335.26 L641.00,335.36 L642.00,335.47 L643.00,335.57 L644.00,335.60 L645.00,335.60 L646.00,335.60 L647.00,335.60 L648.00,335.77 L649.00,336.62 L650.00,337.48 L651.00,338.33 L652.00,338.23 L653.00,337.88 L654.00,337.54 L655.00,337.33 L656.00,337.41 L657.00,337.50 L657.20,337.50" fill="none" stroke="#3d76cf" stroke-width="1.75" stroke-linejoin="round"/>
<path d="M97.00,324.10 L98.00,324.40 L99.00,324.70 L100.00,325.00 L101.00,325.48 L102.00,325.95 L103.00,326.43 L104.00,326.90 L105.00,326.80 L106.00,326.70 L107.00,326.60 L108.00,326.50 L109.00,326.40 L110.00,326.30 L111.00,326.68 L112.00,327.06 L113.00,327.44 L114.00,327.82 L115.00,328.20 L116.00,328.50 L117.00,328.80 L118.00,329.11 L119.00,329.40 L120.00,329.70 L121.00,329.63 L122.00,329.55 L123.00,329.47 L124.00,329.39 L125.00,329.30 L126.00,329.46 L127.00,329.62 L128.00,329.76 L129.00,329.89 L130.00,330.00 L131.00,330.35 L132.00,330.66 L133.00,330.91 L134.00,331.08 L135.00,331.10 L135.50,331.20 L135.75,331.23 L136.00,331.23 L136.25,331.21 L136.50,331.15 L136.75,331.05 L137.00,330.92 L137.25,330.72 L137.50,330.47 L137.75,330.13 L138.00,329.70 L138.25,328.88 L138.50,327.92 L138.75,326.78 L139.00,325.41 L139.25,323.77 L139.50,321.78 L139.75,319.38 L140.00,316.50 L140.25,313.11 L140.50,309.29 L140.75,305.26 L141.00,301.51 L141.25,298.76 L141.50,297.70 L141.75,298.63 L142.00,301.26 L142.25,304.88 L142.50,308.78 L142.75,312.48 L143.00,315.74 L143.25,318.49 L143.50,320.77 L143.75,322.63 L144.00,324.15 L144.25,325.39 L144.50,326.40 L144.75,327.24 L145.00,327.93 L145.25,328.50 L145.50,328.97 L145.75,329.37 L146.00,329.70 L146.25,329.86 L146.50,329.97 L146.75,330.05 L147.00,330.09 L147.25,330.11 L148.00,330.04 L149.00,329.74 L150.00,329.30 L151.00,329.65 L152.00,329.94 L153.00,330.19 L154.00,330.41 L155.00,330.60 L156.00,330.89 L157.00,331.17 L158.00,331.43 L159.00,331.67 L160.00,331.90 L161.00,332.05 L162.00,332.18 L163.00,332.28 L164.00,332.36 L165.00,332.40 L166.00,332.17 L166.30,332.09 L166.55,332.01 L166.80,331.94 L167.00,331.87 L167.05,331.86 L167.30,331.77 L167.55,331.68 L167.80,331.58 L168.00,331.50 L168.05,331.48 L168.30,331.39 L168.55,331.29 L168.80,331.18 L169.00,331.08 L169.05,331.06 L169.30,330.93 L169.55,330.79 L169.80,330.64 L170.00,330.51 L170.05,330.47 L170.30,330.29 L170.55,330.10 L170.80,329.89 L171.00,329.71 L171.05,329.66 L171.30,329.41 L171.55,329.13 L171.80,328.83 L172.00,328.57 L172.05,328.50 L172.30,328.14 L172.55,327.74 L172.80,327.31 L173.00,326.92 L173.05,326.82 L173.30,326.29 L173.55,325.71 L173.80,325.06 L174.00,324.49 L174.05,324.34 L174.30,323.55 L174.55,322.68 L174.80,321.72 L175.00,320.88 L175.05,320.66 L175.30,319.50 L175.55,318.25 L175.80,316.89 L176.00,315.74 L176.05,315.44 L176.30,313.93 L176.55,312.37 L176.80,310.80 L177.00,309.58 L177.05,309.29 L177.30,307.90 L177.55,306.70 L177.80,305.78 L178.00,305.28 L178.05,305.20 L178.30,305.00 L178.55,305.20 L178.80,305.79 L179.00,306.51 L179.05,306.72 L179.30,307.92 L179.55,309.32 L179.80,310.83 L180.00,312.09 L180.05,312.40 L180.30,313.97 L180.55,315.49 L180.80,316.94 L181.00,318.03 L181.05,318.30 L181.30,319.56 L181.55,320.71 L181.80,321.77 L182.00,322.55 L182.05,322.73 L182.30,323.61 L182.55,324.40 L182.80,325.11 L183.00,325.63 L183.05,325.76 L183.30,326.34 L183.55,326.86 L183.80,327.34 L184.00,327.68 L184.05,327.77 L184.30,328.15 L184.55,328.50 L184.80,328.82 L185.00,329.05 L185.05,329.11 L185.30,329.36 L185.55,329.59 L185.80,329.80 L186.00,329.95 L186.05,329.98 L186.30,330.15 L186.55,330.29 L186.80,330.42 L187.00,330.51 L187.05,330.53 L187.30,330.62 L187.55,330.70 L187.80,330.76 L188.00,330.80 L188.05,330.80 L188.30,330.82 L188.50,330.81 L188.55,330.81 L188.75,330.80 L188.80,330.79 L189.00,330.76 L189.05,330.76 L189.25,330.71 L189.30,330.70 L189.50,330.65 L189.55,330.63 L189.75,330.56 L189.80,330.54 L190.00,330.45 L190.05,330.42 L190.25,330.31 L190.50,330.15 L190.75,329.97 L191.00,329.75 L191.25,329.49 L191.50,329.20 L191.75,328.85 L192.00,328.45 L192.25,327.99 L192.50,327.46 L192.75,326.83 L193.00,326.11 L193.25,325.27 L193.50,324.29 L193.75,323.15 L194.00,321.82 L194.25,320.29 L194.50,318.52 L194.75,316.52 L195.00,314.29 L195.25,311.90 L195.50,309.44 L195.75,307.12 L196.00,305.17 L196.25,303.86 L196.50,303.40 L196.75,303.88 L197.00,305.21 L197.25,307.18 L197.50,309.53 L197.75,312.00 L198.00,314.42 L198.25,316.67 L198.50,318.70 L198.75,320.49 L199.00,322.05 L199.25,323.40 L199.50,324.57 L199.75,325.58 L200.00,326.45 L200.25,327.20 L200.50,327.85 L200.75,328.42 L201.00,328.92 L201.25,329.36 L201.50,329.74 L201.75,330.08 L202.00,330.38 L202.25,330.64 L202.50,330.88 L202.75,331.09 L203.00,331.29 L203.25,331.46 L203.50,331.61 L203.75,331.75 L204.00,331.88 L204.25,331.99 L205.00,332.27 L206.00,332.54 L207.00,332.73 L208.00,332.85 L209.00,332.94 L210.00,332.98 L211.00,332.71 L212.00,331.98 L213.00,331.22 L214.00,330.45 L215.00,329.66 L216.00,328.86 L217.00,328.04 L218.00,327.21 L219.00,326.36 L220.00,325.50 L221.00,325.24 L222.00,324.97 L223.00,324.67 L224.00,324.35 L225.00,324.00 L226.00,324.54 L227.00,325.04 L228.00,325.50 L229.00,325.90 L230.00,325.17 L231.00,324.37 L232.00,323.47 L233.00,322.46 L234.00,321.30 L235.00,321.26 L236.00,320.98 L236.40,320.79 L236.65,320.64 L236.90,320.47 L237.00,320.40 L237.15,320.27 L237.40,320.05 L237.65,319.80 L237.90,319.52 L238.00,319.40 L238.15,319.04 L238.40,318.42 L238.65,317.76 L238.90,317.06 L239.00,316.76 L239.15,316.31 L239.40,315.51 L239.65,314.66 L239.90,313.74 L240.00,313.36 L240.15,312.77 L240.40,311.72 L240.65,310.60 L240.90,309.39 L241.00,308.88 L241.15,308.09 L241.40,306.69 L241.65,305.17 L241.90,303.53 L242.00,302.84 L242.15,301.76 L242.40,299.83 L242.65,297.74 L242.90,295.46 L243.00,294.49 L243.15,292.98 L243.40,290.27 L243.65,287.31 L243.90,284.07 L244.00,282.69 L244.15,280.53 L244.40,276.64 L244.65,272.39 L244.90,267.72 L245.00,265.73 L245.15,262.61 L245.40,257.02 L245.65,250.91 L245.90,244.26 L246.00,241.45 L246.15,237.06 L246.40,229.31 L246.65,221.04 L246.90,212.31 L247.00,208.72 L247.15,203.24 L247.40,193.98 L247.65,184.78 L247.90,175.94 L248.00,172.58 L248.15,167.81 L248.40,160.79 L248.65,155.28 L248.90,151.61 L249.00,150.72 L249.15,150.05 L249.40,150.69 L249.65,153.50 L249.90,158.28 L250.00,160.67 L250.15,164.71 L250.40,172.40 L250.65,180.97 L250.90,190.03 L251.00,193.71 L251.15,199.25 L251.40,208.39 L251.65,217.23 L251.90,225.66 L252.00,228.89 L252.15,233.59 L252.40,240.97 L252.65,247.80 L252.90,254.08 L253.00,256.44 L253.15,259.83 L253.40,265.09 L253.65,269.90 L253.90,274.27 L254.00,275.91 L254.15,278.26 L254.40,281.90 L254.65,285.21 L254.90,288.24 L255.00,289.38 L255.15,291.00 L255.40,293.53 L255.65,295.85 L255.90,297.97 L256.00,298.77 L256.15,299.92 L256.40,301.71 L256.65,303.35 L256.90,304.87 L257.00,305.45 L257.15,306.27 L257.40,307.57 L257.65,308.77 L257.90,309.87 L258.00,310.30 L258.15,310.90 L258.40,311.86 L258.65,312.74 L258.90,313.57 L259.00,313.88 L259.15,314.33 L259.40,315.05 L259.65,315.71 L259.90,316.34 L260.00,316.57 L260.15,316.91 L260.40,317.46 L260.65,317.96 L260.90,318.43 L261.00,318.61 L261.15,318.87 L261.40,319.28 L261.65,319.66 L261.90,320.02 L262.00,320.15 L263.00,321.30 L264.00,322.12 L264.60,322.47 L264.85,322.59 L265.00,322.65 L265.10,322.68 L265.35,322.76 L265.60,322.82 L265.85,322.85 L266.00,322.86 L266.10,322.87 L266.35,322.86 L266.60,322.83 L266.85,322.77 L267.00,322.72 L267.10,322.68 L267.35,322.56 L267.60,322.41 L267.85,322.22 L268.00,322.09 L268.10,321.99 L268.35,321.71 L268.60,321.38 L268.85,320.98 L269.00,320.71 L269.10,320.52 L269.35,319.98 L269.60,319.34 L269.85,318.60 L270.00,318.09 L270.10,317.73 L270.35,316.73 L270.60,315.56 L270.85,314.22 L271.00,313.33 L271.10,312.69 L271.35,310.95 L271.60,309.01 L271.85,306.89 L272.00,305.56 L272.10,304.66 L272.35,302.41 L272.60,300.31 L272.85,298.54 L273.00,297.72 L273.10,297.31 L273.35,296.81 L273.60,297.10 L273.85,298.15 L274.00,299.10 L274.10,299.83 L274.35,301.93 L274.60,304.25 L274.85,306.61 L275.00,307.99 L275.10,308.88 L275.35,311.00 L275.60,312.93 L275.85,314.66 L276.00,315.60 L276.10,316.18 L276.35,317.53 L276.60,318.71 L276.85,319.74 L277.00,320.30 L277.10,320.65 L277.35,321.45 L277.60,322.15 L277.85,322.77 L278.00,323.11 L278.10,323.32 L278.35,323.81 L278.60,324.25 L278.85,324.64 L279.00,324.86 L279.10,324.99 L279.35,325.31 L279.60,325.60 L279.85,325.86 L280.00,326.00 L280.10,326.08 L280.35,326.27 L280.60,326.45 L280.85,326.60 L281.00,326.69 L281.10,326.75 L281.35,326.87 L281.60,326.99 L281.85,327.10 L282.00,327.16 L282.10,327.19 L283.00,327.48 L284.00,327.69 L285.00,327.84 L286.00,327.94 L287.00,327.99 L288.00,328.02 L289.00,328.02 L290.00,328.00 L291.00,327.94 L292.00,327.87 L293.00,327.78 L294.00,327.69 L295.00,327.59 L296.00,327.48 L297.00,327.37 L298.00,327.25 L299.00,327.13 L300.00,327.00 L301.00,326.68 L302.00,326.35 L303.00,326.02 L304.00,325.68 L305.00,325.34 L306.00,325.00 L307.00,324.66 L308.00,324.31 L309.00,323.96 L310.00,323.60 L311.00,323.14 L312.00,322.67 L313.00,322.19 L314.00,321.70 L315.00,321.21 L316.00,320.70 L317.00,321.09 L317.50,321.27 L317.75,321.36 L318.00,321.45 L318.25,321.53 L318.50,321.61 L318.75,321.69 L319.00,321.76 L319.25,321.83 L319.50,321.89 L319.75,321.95 L320.00,322.00 L320.25,321.58 L320.50,321.16 L320.75,320.72 L321.00,320.27 L321.25,319.81 L321.50,319.32 L321.75,318.82 L322.00,318.30 L322.25,318.14 L322.50,317.95 L322.75,317.72 L323.00,317.44 L323.25,317.12 L323.50,316.74 L323.75,316.31 L324.00,315.83 L324.25,315.30 L324.50,314.76 L324.75,314.26 L325.00,313.84 L325.25,313.57 L325.50,313.50 L325.75,313.65 L326.00,314.01 L326.25,314.51 L326.50,315.11 L326.75,315.73 L327.00,316.34 L327.25,316.91 L327.50,317.43 L327.75,317.89 L328.00,318.30 L328.25,318.76 L328.50,319.19 L328.75,319.57 L329.00,319.92 L329.25,320.24 L329.50,320.54 L329.75,320.82 L330.00,321.08 L330.25,321.33 L330.50,321.56 L330.75,321.79 L331.00,322.00 L331.25,321.68 L331.50,321.35 L331.75,321.01 L332.00,320.67 L332.25,320.33 L332.50,319.98 L332.75,319.62 L333.00,319.26 L333.25,318.90 L334.00,317.80 L335.00,319.92 L336.00,322.00 L337.00,322.26 L338.00,322.48 L339.00,322.63 L340.00,322.70 L341.00,322.21 L342.00,321.50 L342.25,321.27 L342.50,321.01 L342.75,320.73 L343.00,320.40 L343.25,320.03 L343.50,319.61 L343.75,319.12 L344.00,318.56 L344.25,317.90 L344.50,317.13 L344.75,316.22 L345.00,315.14 L345.25,313.85 L345.50,312.28 L345.75,310.39 L346.00,308.09 L346.25,305.30 L346.50,301.94 L346.75,297.99 L347.00,293.51 L347.25,288.79 L347.50,284.40 L347.75,281.20 L348.00,280.00 L348.25,281.16 L348.50,284.33 L348.75,288.68 L349.00,293.37 L349.25,297.81 L349.50,301.73 L349.75,305.05 L350.00,307.81 L350.25,310.08 L350.50,311.94 L350.75,313.47 L351.00,314.73 L351.25,315.77 L351.50,316.65 L351.75,317.38 L352.00,318.01 L352.25,318.53 L352.50,318.99 L352.75,319.38 L353.00,319.71 L353.25,320.00 L353.50,320.26 L353.75,320.48 L354.00,320.68 L355.00,321.28 L356.00,321.71 L357.00,322.00 L358.00,322.20 L359.00,322.35 L360.00,322.22 L361.00,321.89 L362.00,321.55 L363.00,321.41 L364.00,321.78 L365.00,322.14 L366.00,322.49 L367.00,322.83 L368.00,323.07 L369.00,323.29 L370.00,323.50 L371.00,323.39 L372.00,323.27 L373.00,323.15 L374.00,323.68 L375.00,324.66 L376.00,325.62 L377.00,326.50 L378.00,327.15 L379.00,327.79 L380.00,328.44 L381.00,328.65 L382.00,328.80 L382.40,328.86 L382.65,328.90 L382.90,328.93 L383.00,328.95 L383.15,328.97 L383.40,329.00 L383.65,328.84 L383.90,328.68 L384.00,328.61 L384.15,328.51 L384.40,328.35 L384.65,328.18 L384.90,328.01 L385.00,327.94 L385.15,327.84 L385.40,327.66 L385.65,327.49 L385.90,327.31 L386.00,327.23 L386.15,327.12 L386.40,326.94 L386.65,326.75 L386.90,326.55 L387.00,326.47 L387.15,326.35 L387.40,326.14 L387.65,325.92 L387.90,325.70 L388.00,325.67 L388.15,325.62 L388.40,325.53 L388.65,325.43 L388.90,325.31 L389.00,325.26 L389.15,325.18 L389.40,325.03 L389.65,324.86 L389.90,324.68 L390.00,324.60 L390.15,324.47 L390.40,324.24 L390.65,324.00 L390.90,323.74 L391.00,323.64 L391.15,323.48 L391.40,323.24 L391.65,323.02 L391.90,322.84 L392.00,322.79 L392.15,322.73 L392.40,322.70 L392.65,322.75 L392.90,322.87 L393.00,322.94 L393.15,323.06 L393.40,323.29 L393.65,323.55 L393.90,323.82 L394.00,323.93 L394.15,324.09 L394.40,324.35 L394.65,324.59 L394.90,324.81 L395.00,324.89 L395.15,325.01 L395.40,325.19 L395.65,325.35 L395.90,325.50 L396.00,325.55 L396.15,325.63 L396.40,325.81 L396.65,326.06 L396.90,326.31 L397.00,326.41 L397.15,326.55 L397.40,326.78 L397.65,327.00 L397.90,327.21 L398.00,327.30 L398.15,327.42 L398.40,327.63 L398.65,327.83 L398.90,328.02 L399.00,328.10 L399.15,328.22 L399.40,328.41 L399.65,328.60 L399.90,328.78 L400.00,328.85 L400.15,328.96 L400.40,328.91 L400.65,328.80 L400.90,328.69 L401.00,328.64 L401.15,328.57 L401.40,328.46 L401.65,328.34 L401.90,328.22 L402.00,328.18 L402.15,328.10 L403.00,327.69 L404.00,327.72 L405.00,328.50 L406.00,329.29 L407.00,330.06 L408.00,330.84 L409.00,330.89 L410.00,329.86 L411.00,328.83 L412.00,327.93 L413.00,328.26 L414.00,328.58 L415.00,328.90 L416.00,329.70 L417.00,330.70 L418.00,331.70 L419.00,330.65 L420.00,329.38 L421.00,328.88 L422.00,328.70 L423.00,328.52 L424.00,328.89 L425.00,329.33 L426.00,329.76 L427.00,330.20 L428.00,330.48 L429.00,330.75 L430.00,331.03 L431.00,331.30 L432.00,331.15 L433.00,330.99 L434.00,330.84 L435.00,330.72 L436.00,330.90 L437.00,331.08 L438.00,331.26 L439.00,331.79 L440.00,332.40 L441.00,332.49 L442.00,332.58 L443.00,332.67 L444.00,332.76 L445.00,332.85 L446.00,332.94 L447.00,333.03 L448.00,333.12 L449.00,333.21 L450.00,333.30 L451.00,333.39 L452.00,333.47 L453.00,333.33 L454.00,333.09 L455.00,332.84 L456.00,332.60 L457.00,332.36 L458.00,332.17 L459.00,331.98 L460.00,331.78 L461.00,331.58 L462.00,331.38 L463.00,331.10 L464.00,330.77 L465.00,330.44 L466.00,330.28 L467.00,330.53 L468.00,330.78 L469.00,331.02 L470.00,331.25 L471.00,330.77 L472.00,330.09 L473.00,329.41 L474.00,328.78 L475.00,328.21 L476.00,327.63 L477.00,327.14 L478.00,327.51 L479.00,327.87 L480.00,328.28 L481.00,328.67 L481.50,328.86 L481.75,328.95 L482.00,329.03 L482.25,329.09 L482.50,329.16 L482.75,329.22 L483.00,329.28 L483.25,329.33 L483.50,329.39 L483.75,329.44 L484.00,329.48 L484.25,329.53 L484.50,329.57 L484.75,329.57 L485.00,329.40 L485.25,329.23 L485.50,329.05 L485.75,328.87 L486.00,328.69 L486.25,328.50 L486.50,328.30 L486.75,328.11 L487.00,327.90 L487.25,327.74 L487.50,327.57 L487.75,327.39 L488.00,327.20 L488.25,327.01 L488.50,326.81 L488.75,326.61 L489.00,326.39 L489.25,326.16 L489.50,325.93 L489.75,325.68 L490.00,325.42 L490.25,325.16 L490.50,324.84 L490.75,324.49 L491.00,324.14 L491.25,323.76 L491.50,323.37 L491.75,322.97 L492.00,322.54 L492.25,322.10 L492.50,321.63 L492.75,321.14 L493.00,320.63 L493.25,320.09 L493.50,319.53 L493.75,318.93 L494.00,318.31 L494.25,317.65 L494.50,316.95 L494.75,316.22 L495.00,315.45 L495.25,314.64 L495.50,313.78 L495.75,312.89 L496.00,311.94 L496.25,310.95 L496.50,309.90 L496.75,308.81 L497.00,307.67 L497.25,306.48 L497.50,305.25 L497.75,303.98 L498.00,302.67 L498.25,301.33 L498.50,299.98 L498.75,298.61 L499.00,297.26 L499.25,295.93 L499.50,294.64 L499.75,293.41 L500.00,292.28 L500.25,291.25 L500.50,290.35 L500.75,289.60 L501.00,289.01 L501.25,288.61 L501.50,288.40 L501.75,288.38 L502.00,288.55 L502.25,288.90 L502.50,289.42 L502.75,290.08 L503.00,290.88 L503.25,291.79 L503.50,292.78 L503.75,293.83 L504.00,294.93 L504.25,296.05 L504.50,297.17 L504.75,298.29 L505.00,299.39 L505.25,300.46 L505.50,301.49 L505.75,302.48 L506.00,303.43 L506.25,304.32 L506.50,305.17 L506.75,305.96 L507.00,306.71 L507.25,307.40 L507.50,308.05 L507.75,308.64 L508.00,309.20 L508.25,309.71 L508.50,310.18 L508.75,310.61 L509.00,311.00 L509.25,311.02 L509.50,311.02 L509.75,310.97 L510.00,310.90 L510.25,310.80 L510.50,310.67 L510.75,310.51 L511.00,310.33 L511.25,310.13 L511.50,309.90 L511.75,309.65 L512.00,309.38 L512.25,309.09 L512.50,308.78 L512.75,308.45 L513.00,308.10 L513.25,308.13 L513.50,308.14 L513.75,308.13 L514.00,308.10 L514.25,308.06 L514.50,308.00 L514.75,307.93 L515.00,307.84 L515.25,307.73 L515.50,307.61 L515.75,307.47 L516.00,307.31 L516.25,307.13 L516.50,306.94 L516.75,306.73 L517.00,306.50 L517.25,306.61 L517.50,306.71 L517.75,306.79 L518.00,306.84 L518.25,306.87 L518.50,306.88 L518.70,306.88 L518.75,306.87 L518.95,306.84 L519.00,306.83 L519.20,306.79 L519.25,306.77 L519.45,306.70 L519.50,306.68 L519.70,306.59 L519.75,306.57 L519.95,306.45 L520.00,306.42 L520.20,306.28 L520.25,306.24 L520.45,306.07 L520.50,306.03 L520.70,305.84 L520.75,305.78 L520.95,305.56 L521.00,305.50 L521.20,305.76 L521.25,305.82 L521.45,306.04 L521.70,306.28 L521.95,306.47 L522.00,306.50 L522.20,306.61 L522.45,306.70 L522.70,306.73 L522.95,306.70 L523.00,306.69 L523.20,306.60 L523.45,306.43 L523.70,306.19 L523.95,305.85 L524.00,305.78 L524.20,305.44 L524.45,304.92 L524.70,304.30 L524.95,303.56 L525.00,303.40 L525.20,301.86 L525.45,299.81 L525.70,297.61 L525.95,295.26 L526.00,294.76 L526.20,292.73 L526.45,290.02 L526.70,287.10 L526.95,283.96 L527.00,283.30 L527.20,280.58 L527.45,276.93 L527.70,273.00 L527.95,268.75 L528.00,267.86 L528.20,264.17 L528.45,259.21 L528.70,253.86 L528.95,248.08 L529.00,246.87 L529.20,241.85 L529.45,235.13 L529.70,227.89 L529.95,220.13 L530.00,218.51 L530.20,211.82 L530.45,202.96 L530.70,193.57 L530.95,183.69 L531.00,181.66 L531.20,173.39 L531.45,162.75 L531.70,151.93 L531.95,141.10 L532.00,138.96 L532.20,130.51 L532.45,120.43 L532.70,111.16 L532.95,103.06 L533.00,101.60 L533.20,96.43 L533.45,91.58 L533.70,88.73 L533.95,88.03 L534.00,88.16 L534.20,89.51 L534.45,93.10 L534.70,98.60 L534.95,105.77 L535.00,107.37 L535.20,114.29 L535.45,123.83 L535.70,134.06 L535.95,144.69 L536.00,146.84 L536.20,155.45 L536.45,166.13 L536.70,176.56 L536.95,186.62 L537.00,188.58 L537.20,196.22 L537.45,205.32 L537.70,213.87 L537.95,221.87 L538.00,223.41 L538.20,229.34 L538.45,236.28 L538.70,242.72 L538.95,248.68 L539.00,249.82 L539.20,254.20 L539.45,259.30 L539.70,264.02 L539.95,268.39 L540.00,269.22 L540.20,272.42 L540.45,276.15 L540.70,279.61 L540.95,282.81 L541.00,283.42 L541.20,285.78 L541.45,288.53 L541.70,291.09 L541.95,293.47 L542.00,293.92 L542.20,295.68 L542.45,297.74 L542.70,299.66 L542.95,301.45 L543.00,301.80 L543.20,303.12 L543.45,304.69 L543.70,306.15 L543.95,307.52 L544.00,307.79 L544.20,308.81 L544.45,310.01 L544.70,311.14 L544.95,312.21 L545.00,312.41 L545.20,313.21 L545.45,314.15 L545.70,315.04 L545.95,315.87 L546.00,316.03 L546.20,316.66 L546.45,317.40 L546.70,318.11 L546.95,318.77 L547.00,318.90 L547.20,319.16 L547.45,319.45 L547.70,319.71 L547.95,319.93 L548.00,319.98 L548.20,320.14 L548.45,320.31 L548.70,320.46 L548.95,320.59 L549.00,320.61 L550.00,320.90 L551.00,321.49 L552.00,321.85 L553.00,322.04 L554.00,322.08 L555.00,322.00 L556.00,322.42 L557.00,322.77 L558.00,323.03 L559.00,323.24 L560.00,323.40 L561.00,323.43 L562.00,323.42 L563.00,323.37 L564.00,323.30 L565.00,323.20 L566.00,323.28 L567.00,323.33 L568.00,323.37 L569.00,323.39 L570.00,323.40 L571.00,322.91 L572.00,322.41 L573.00,321.90 L574.00,322.21 L575.00,322.51 L576.00,322.80 L577.00,322.46 L578.00,322.11 L579.00,321.76 L580.00,321.40 L581.00,321.11 L582.00,320.81 L583.00,320.51 L584.00,320.20 L585.00,319.80 L586.00,319.41 L587.00,319.00 L588.00,318.60 L589.00,317.97 L590.00,317.34 L591.00,316.70 L592.00,317.64 L593.00,318.57 L594.00,319.50 L595.00,321.25 L596.00,323.00 L597.00,324.50 L598.00,326.00 L599.00,325.10 L600.00,324.20 L601.00,323.27 L602.00,322.33 L603.00,321.40 L604.00,320.45 L605.00,319.50 L606.00,320.45 L607.00,321.40 L608.00,323.57 L609.00,325.73 L610.00,327.90 L611.00,328.50 L612.00,329.10 L613.00,329.70 L614.00,328.97 L615.00,328.23 L616.00,327.50 L617.00,326.70 L618.00,325.90 L619.00,325.10 L620.00,323.50 L621.00,321.90 L622.00,323.95 L623.00,326.00 L624.00,324.63 L625.00,323.27 L626.00,321.90 L627.00,322.00 L628.00,322.10 L629.00,322.20 L630.00,322.30 L631.00,322.53 L632.00,322.75 L633.00,322.98 L634.00,323.20 L635.00,322.75 L636.00,322.30 L637.00,321.85 L638.00,321.40 L639.00,321.57 L640.00,321.73 L641.00,321.90 L642.00,322.97 L643.00,324.03 L644.00,325.10 L645.00,325.40 L646.00,325.70 L647.00,326.00 L648.00,326.63 L649.00,327.27 L650.00,327.90 L651.00,329.43 L652.00,330.97 L653.00,332.50 L654.00,333.43 L655.00,334.37 L656.00,335.30 L657.00,335.30 L657.20,335.31" fill="none" stroke="#4dac68" stroke-width="1.75" stroke-linejoin="round"/>
<path d="M97.00,253.00 L98.00,252.80 L99.00,252.60 L100.00,252.40 L101.00,252.20 L102.00,252.53 L103.00,252.87 L104.00,253.20 L105.00,253.04 L106.00,252.88 L107.00,252.72 L108.00,252.56 L109.00,252.75 L110.00,253.16 L111.00,253.56 L112.00,253.97 L113.00,254.27 L114.00,254.14 L115.00,254.01 L116.00,253.87 L117.00,253.74 L118.00,252.97 L119.00,251.94 L120.00,250.90 L121.00,249.86 L122.00,248.82 L123.00,248.51 L124.00,248.92 L125.00,249.33 L126.00,249.73 L127.00,250.13 L128.00,250.53 L129.00,250.92 L130.00,251.44 L131.00,251.99 L132.00,252.52 L133.00,253.03 L134.00,253.50 L135.00,253.92 L136.00,253.16 L136.30,252.82 L136.55,252.53 L136.80,252.22 L137.00,251.95 L137.05,251.89 L137.30,251.54 L137.55,251.16 L137.80,250.75 L138.00,250.39 L138.05,250.30 L138.30,249.85 L138.55,249.36 L138.80,248.79 L139.00,248.25 L139.05,248.11 L139.30,247.29 L139.55,246.31 L139.80,245.10 L140.00,243.94 L140.05,243.62 L140.30,241.83 L140.55,239.73 L140.80,237.42 L141.00,235.63 L141.05,235.21 L141.30,233.61 L141.55,233.10 L141.80,233.85 L142.00,235.14 L142.05,235.52 L142.30,237.57 L142.55,239.57 L142.80,241.31 L143.00,242.47 L143.05,242.73 L143.30,243.85 L143.55,244.71 L143.80,245.38 L144.00,245.80 L144.05,245.91 L144.30,246.42 L144.55,246.83 L144.80,247.16 L145.00,247.39 L145.05,247.44 L145.30,247.67 L145.55,247.86 L145.80,248.02 L146.00,248.13 L146.05,248.16 L146.30,248.27 L146.55,248.37 L147.00,248.52 L148.00,248.73 L149.00,248.99 L150.00,249.34 L151.00,249.65 L152.00,249.94 L153.00,250.20 L154.00,250.74 L155.00,251.26 L156.00,251.77 L157.00,252.26 L158.00,252.74 L159.00,253.20 L160.00,253.47 L161.00,253.71 L162.00,253.92 L163.00,254.10 L164.00,254.23 L165.00,254.30 L166.00,254.05 L166.30,253.95 L166.55,253.86 L166.80,253.77 L167.00,253.69 L167.05,253.67 L167.30,253.56 L167.55,253.44 L167.80,253.31 L168.00,253.20 L168.05,253.17 L168.30,252.99 L168.55,252.81 L168.80,252.61 L169.00,252.44 L169.05,252.39 L169.30,252.16 L169.55,251.91 L169.80,251.64 L170.00,251.41 L170.05,251.35 L170.30,251.03 L170.55,250.69 L170.80,250.32 L171.00,249.99 L171.05,249.91 L171.30,249.47 L171.55,248.98 L171.80,248.46 L172.00,248.00 L172.05,247.88 L172.30,247.24 L172.55,246.55 L172.80,245.78 L173.00,245.12 L173.05,244.94 L173.30,244.01 L173.55,242.99 L173.80,241.86 L174.00,240.87 L174.05,240.61 L174.30,239.24 L174.55,237.72 L174.80,236.04 L175.00,234.59 L175.05,234.20 L175.30,232.19 L175.55,230.01 L175.80,227.65 L176.00,225.65 L176.05,225.14 L176.30,222.50 L176.55,219.79 L176.80,217.07 L177.00,214.96 L177.05,214.45 L177.30,212.03 L177.55,209.96 L177.80,208.36 L178.00,207.49 L178.05,207.34 L178.30,207.00 L178.55,207.35 L178.80,208.38 L179.00,209.62 L179.05,209.99 L179.30,212.07 L179.55,214.50 L179.80,217.13 L180.00,219.31 L180.05,219.86 L180.30,222.58 L180.55,225.23 L180.80,227.75 L181.00,229.65 L181.05,230.11 L181.30,232.30 L181.55,234.32 L181.80,236.16 L182.00,237.52 L182.05,237.84 L182.30,239.37 L182.55,240.75 L182.80,242.00 L183.00,242.91 L183.05,243.13 L183.30,244.15 L183.55,245.08 L183.80,245.92 L184.00,246.54 L184.05,246.68 L184.30,247.37 L184.55,248.00 L184.80,248.57 L185.00,248.99 L185.05,249.09 L185.30,249.56 L185.55,249.99 L185.80,250.37 L186.00,250.66 L186.05,250.73 L186.30,251.05 L186.55,251.34 L186.80,251.60 L187.00,251.78 L187.05,251.83 L187.10,251.87 L187.30,252.04 L187.35,252.08 L187.55,252.22 L187.60,252.26 L187.80,252.39 L187.85,252.42 L188.00,252.50 L188.05,252.52 L188.10,252.53 L188.30,252.59 L188.35,252.60 L188.55,252.65 L188.60,252.65 L188.80,252.68 L188.85,252.68 L189.00,252.69 L189.05,252.69 L189.10,252.69 L189.30,252.68 L189.35,252.67 L189.55,252.64 L189.60,252.63 L189.80,252.58 L189.85,252.57 L190.00,252.52 L190.05,252.50 L190.10,252.48 L190.35,252.36 L190.60,252.21 L190.85,252.03 L191.00,251.90 L191.10,251.80 L191.35,251.54 L191.60,251.23 L191.85,250.86 L192.00,250.62 L192.10,250.44 L192.35,249.94 L192.60,249.36 L192.85,248.69 L193.00,248.23 L193.10,247.91 L193.35,247.01 L193.60,245.99 L193.85,244.84 L194.00,244.08 L194.10,243.55 L194.35,242.14 L194.60,240.66 L194.85,239.17 L195.00,238.31 L195.10,237.77 L195.35,236.59 L195.60,235.77 L195.85,235.41 L196.00,235.45 L196.10,235.57 L196.35,236.24 L196.60,237.31 L196.85,238.65 L197.00,239.53 L197.10,240.13 L197.35,241.65 L197.60,243.11 L197.85,244.46 L198.00,245.22 L198.10,245.70 L198.35,246.79 L198.60,247.76 L198.85,248.61 L199.00,249.07 L199.10,249.35 L199.35,250.00 L199.60,250.56 L199.85,251.05 L200.00,251.32 L200.10,251.48 L200.35,251.86 L200.60,252.19 L200.85,252.48 L201.00,252.64 L201.10,252.74 L201.35,252.96 L201.60,253.16 L201.85,253.34 L202.00,253.44 L202.10,253.50 L202.35,253.64 L202.60,253.76 L202.85,253.87 L203.00,253.93 L203.10,253.97 L203.35,254.05 L203.60,254.13 L203.85,254.20 L204.00,254.24 L204.10,254.26 L204.35,254.31 L204.60,254.36 L205.00,254.43 L206.00,254.53 L207.00,254.59 L208.00,254.60 L209.00,254.58 L210.00,254.54 L211.00,254.48 L212.00,254.40 L213.00,254.15 L214.00,253.89 L215.00,253.62 L216.00,253.34 L217.00,253.05 L218.00,252.75 L219.00,252.36 L220.00,251.86 L221.00,251.35 L222.00,250.84 L223.00,250.30 L224.00,249.76 L225.00,249.20 L226.00,249.77 L227.00,250.32 L228.00,250.84 L229.00,251.34 L230.00,251.80 L231.00,251.95 L232.00,251.40 L233.00,250.80 L234.00,250.11 L235.00,249.32 L236.00,248.41 L236.20,248.20 L236.45,248.07 L236.70,248.01 L236.95,247.93 L237.00,247.91 L237.20,247.84 L237.45,247.74 L237.70,247.62 L237.95,247.48 L238.00,247.45 L238.20,247.32 L238.45,247.15 L238.70,246.95 L238.95,246.73 L239.00,246.68 L239.20,246.48 L239.45,246.21 L239.70,245.90 L239.95,245.42 L240.00,245.32 L240.20,244.90 L240.45,244.34 L240.70,243.74 L240.95,243.09 L241.00,242.95 L241.20,242.39 L241.45,241.63 L241.70,240.80 L241.95,239.91 L242.00,239.72 L242.20,238.93 L242.45,237.87 L242.70,236.72 L242.95,235.46 L243.00,235.19 L243.20,234.08 L243.45,232.57 L243.70,230.92 L243.95,229.11 L244.00,228.72 L244.20,227.12 L244.45,224.94 L244.70,222.55 L244.95,219.92 L245.00,219.37 L245.20,217.05 L245.45,213.91 L245.70,210.50 L245.95,206.79 L246.00,206.02 L246.20,202.80 L246.45,198.54 L246.70,194.05 L246.95,189.37 L247.00,188.42 L247.20,184.61 L247.45,179.87 L247.70,175.31 L247.95,171.13 L248.00,170.35 L248.20,167.51 L248.45,164.68 L248.70,162.81 L248.95,162.02 L249.00,162.00 L249.20,162.38 L249.45,163.85 L249.70,166.35 L249.95,169.70 L250.00,170.45 L250.20,173.70 L250.45,178.16 L250.70,182.87 L250.95,187.67 L251.00,188.63 L251.20,192.42 L251.45,197.02 L251.70,201.40 L251.95,205.53 L252.00,206.32 L252.20,209.37 L252.45,212.93 L252.70,216.20 L252.95,219.20 L253.00,219.77 L253.20,221.94 L253.45,224.45 L253.70,226.74 L253.95,228.82 L254.00,229.22 L254.20,230.72 L254.45,232.46 L254.70,234.05 L254.95,235.50 L255.00,235.77 L255.20,236.83 L255.45,238.04 L255.70,239.16 L255.95,240.19 L256.00,240.38 L256.20,241.13 L256.45,242.00 L256.70,242.81 L256.95,243.55 L257.00,243.69 L257.20,244.24 L257.45,244.88 L257.70,245.47 L257.95,246.02 L258.00,246.12 L258.20,246.53 L258.45,247.00 L258.70,247.44 L258.95,247.86 L259.00,247.94 L259.20,248.24 L259.45,248.60 L259.70,248.93 L259.95,249.25 L260.00,249.31 L260.20,249.54 L260.45,249.81 L260.70,250.07 L260.95,250.30 L261.00,250.35 L261.20,250.52 L261.45,250.73 L261.70,250.92 L262.00,251.13 L263.00,251.70 L264.00,251.98 L264.30,252.03 L264.55,252.06 L264.80,252.07 L265.00,252.07 L265.05,252.07 L265.30,252.06 L265.55,252.03 L265.80,251.98 L266.00,251.93 L266.05,251.92 L266.30,251.84 L266.55,251.74 L266.80,251.61 L267.00,251.50 L267.05,251.47 L267.30,251.29 L267.55,251.08 L267.80,250.84 L268.00,250.62 L268.05,250.56 L268.30,250.23 L268.55,249.86 L268.80,249.42 L269.00,249.02 L269.05,248.91 L269.30,248.33 L269.55,247.65 L269.80,246.87 L270.00,246.16 L270.05,245.97 L270.30,244.94 L270.55,243.75 L270.80,242.39 L271.00,241.18 L271.05,240.85 L271.30,239.15 L271.55,237.29 L271.80,235.32 L272.00,233.74 L272.05,233.35 L272.30,231.50 L272.55,229.95 L272.80,228.87 L273.00,228.45 L273.05,228.41 L273.30,228.65 L273.55,229.55 L273.80,230.99 L274.00,232.42 L274.05,232.80 L274.30,234.80 L274.55,236.83 L274.80,238.80 L275.00,240.28 L275.05,240.63 L275.30,242.29 L275.55,243.78 L275.80,245.10 L276.00,246.03 L276.05,246.25 L276.30,247.27 L276.55,248.16 L276.80,248.94 L277.00,249.49 L277.05,249.62 L277.30,250.22 L277.55,250.76 L277.80,251.23 L278.00,251.64 L278.05,251.75 L278.30,252.31 L278.55,252.82 L278.80,253.31 L279.00,253.67 L279.05,253.76 L279.30,254.18 L279.55,254.58 L279.80,254.96 L280.00,255.26 L280.05,255.33 L280.30,255.68 L280.55,256.01 L280.80,256.33 L281.00,256.58 L281.05,256.64 L281.30,256.94 L281.55,257.23 L281.80,257.51 L282.00,257.73 L283.00,258.78 L284.00,259.75 L285.00,260.44 L286.00,260.77 L287.00,261.06 L288.00,261.34 L289.00,261.59 L290.00,261.83 L291.00,262.06 L292.00,262.28 L293.00,262.50 L294.00,262.61 L295.00,262.62 L296.00,262.63 L297.00,262.64 L298.00,262.64 L299.00,262.63 L300.00,262.63 L301.00,262.62 L302.00,262.61 L303.00,262.30 L304.00,261.80 L305.00,261.30 L306.00,260.79 L307.00,260.28 L308.00,259.77 L309.00,259.25 L310.00,258.33 L311.00,257.36 L312.00,256.39 L313.00,255.40 L314.00,254.41 L315.00,253.41 L316.00,252.51 L317.00,252.03 L317.40,251.83 L317.65,251.70 L317.90,251.57 L318.00,251.51 L318.15,251.43 L318.40,251.29 L318.65,251.15 L318.90,251.01 L319.00,250.95 L319.15,250.86 L319.40,250.70 L319.65,250.54 L319.90,250.37 L320.00,250.30 L320.15,250.52 L320.40,250.88 L320.65,251.22 L320.90,251.56 L321.00,251.69 L321.15,251.87 L321.40,252.17 L321.65,252.45 L321.90,252.71 L322.00,252.80 L322.15,252.93 L322.40,253.12 L322.65,253.27 L322.90,253.37 L323.00,253.40 L323.15,253.11 L323.40,252.58 L323.65,251.99 L323.90,251.35 L324.00,251.08 L324.15,250.66 L324.40,249.96 L324.65,249.29 L324.90,248.72 L325.00,248.53 L325.15,248.30 L325.40,248.10 L325.65,248.13 L325.90,248.38 L326.00,248.53 L326.15,248.79 L326.40,249.29 L326.65,249.82 L326.90,250.34 L327.00,250.54 L327.15,250.82 L327.40,251.24 L327.65,251.60 L327.90,251.91 L328.00,252.01 L328.15,252.16 L328.40,252.36 L328.65,252.53 L328.90,252.66 L329.00,252.70 L329.15,252.79 L329.40,252.93 L329.65,253.04 L329.90,253.13 L330.00,253.17 L330.15,253.21 L330.40,253.28 L330.65,253.33 L330.90,253.37 L331.00,253.39 L331.15,253.41 L331.40,253.44 L331.65,253.45 L331.90,253.47 L332.00,253.47 L332.15,253.48 L332.40,253.48 L332.65,253.48 L332.90,253.47 L333.00,253.47 L333.15,253.46 L334.00,253.40 L335.00,253.72 L336.00,253.99 L337.00,254.20 L338.00,254.34 L339.00,254.39 L340.00,254.30 L340.30,254.24 L340.55,254.17 L340.80,254.08 L341.00,254.00 L341.05,253.98 L341.30,253.85 L341.55,253.70 L341.80,253.51 L342.00,253.34 L342.05,253.29 L342.30,253.03 L342.55,252.73 L342.80,252.37 L343.00,252.03 L343.05,251.94 L343.30,251.44 L343.55,250.84 L343.80,250.14 L344.00,249.49 L344.05,249.31 L344.30,248.32 L344.55,247.14 L344.80,245.74 L345.00,244.43 L345.05,244.07 L345.30,242.09 L345.55,239.76 L345.80,237.04 L346.00,234.58 L346.05,233.93 L346.30,230.50 L346.55,226.90 L346.80,223.44 L347.00,221.06 L347.05,220.55 L347.30,218.73 L347.55,218.35 L347.80,219.52 L348.00,221.43 L348.05,222.02 L348.30,225.38 L348.55,229.13 L348.80,232.88 L349.00,235.72 L349.05,236.39 L349.30,239.54 L349.55,242.29 L349.80,244.66 L350.00,246.32 L350.05,246.70 L350.30,248.44 L350.55,249.94 L350.80,251.23 L351.00,252.13 L351.05,252.34 L351.30,253.31 L351.55,254.15 L351.80,254.90 L352.00,255.43 L352.05,255.56 L352.30,256.15 L352.55,256.68 L352.80,257.15 L353.00,257.50 L353.05,257.55 L353.30,257.78 L353.55,257.98 L353.80,258.15 L354.00,258.27 L354.05,258.30 L354.30,258.43 L354.55,258.53 L355.00,258.69 L356.00,258.88 L357.00,258.95 L358.00,258.92 L359.00,258.83 L360.00,258.70 L361.00,258.81 L362.00,258.91 L363.00,258.98 L364.00,259.04 L365.00,259.08 L366.00,259.12 L367.00,259.15 L368.00,259.17 L369.00,259.19 L370.00,259.20 L371.00,258.24 L372.00,257.27 L373.00,256.30 L374.00,256.89 L375.00,257.48 L376.00,258.06 L377.00,258.64 L378.00,259.20 L379.00,259.01 L380.00,258.80 L380.25,258.62 L380.50,258.45 L380.75,258.27 L381.00,258.09 L381.25,257.91 L381.50,257.72 L381.75,257.53 L382.00,257.35 L382.25,257.15 L382.50,256.96 L382.75,256.76 L383.00,256.56 L383.25,256.36 L383.50,256.15 L383.75,255.94 L384.00,255.72 L384.25,255.50 L384.50,255.27 L384.75,255.04 L385.00,254.80 L385.25,254.72 L385.50,254.63 L385.75,254.53 L386.00,254.42 L386.25,254.30 L386.50,254.17 L386.75,254.02 L387.00,253.85 L387.25,253.67 L387.50,253.46 L387.75,253.24 L388.00,252.98 L388.25,252.70 L388.50,252.40 L388.75,252.06 L389.00,251.68 L389.25,251.28 L389.50,250.84 L389.75,250.37 L390.00,249.87 L390.25,249.37 L390.50,248.86 L390.75,248.37 L391.00,247.92 L391.25,247.53 L391.50,247.24 L391.75,247.05 L392.00,247.00 L392.25,247.08 L392.50,247.29 L392.75,247.61 L393.00,248.02 L393.25,248.50 L393.50,249.02 L393.75,249.55 L394.00,250.09 L394.25,250.61 L394.50,251.10 L394.75,251.57 L395.00,252.00 L395.25,252.40 L395.50,252.77 L395.75,253.10 L396.00,253.41 L396.25,253.69 L396.50,253.94 L396.75,254.17 L397.00,254.38 L397.25,254.57 L397.50,254.75 L397.75,254.91 L398.00,255.06 L398.25,255.19 L398.50,255.32 L398.75,255.44 L399.00,255.54 L399.25,255.64 L399.50,255.73 L399.75,255.82 L400.00,255.90 L400.25,255.98 L400.50,256.06 L400.75,256.14 L401.00,256.21 L401.25,256.27 L401.50,256.34 L401.75,256.40 L402.00,256.46 L402.25,256.51 L402.50,256.56 L402.75,256.61 L403.00,256.66 L403.25,256.71 L403.50,256.76 L403.75,256.80 L404.00,256.84 L405.00,257.00 L406.00,256.80 L407.00,256.59 L408.00,256.37 L409.00,256.14 L410.00,255.90 L411.00,255.64 L412.00,255.38 L413.00,255.11 L414.00,254.83 L415.00,254.55 L416.00,254.26 L417.00,253.96 L418.00,253.65 L419.00,253.33 L420.00,253.00 L420.25,252.91 L420.50,252.81 L420.75,252.72 L421.00,252.62 L421.25,252.52 L421.50,252.42 L421.75,252.32 L422.00,252.22 L422.25,252.11 L422.50,252.01 L422.75,251.90 L423.00,251.79 L423.25,251.67 L423.50,251.56 L423.75,251.44 L424.00,251.32 L424.25,251.20 L424.50,251.07 L424.75,250.94 L425.00,250.80 L425.25,250.77 L425.50,250.73 L425.75,250.68 L426.00,250.63 L426.25,250.58 L426.50,250.52 L426.75,250.45 L427.00,250.37 L427.25,250.28 L427.50,250.18 L427.75,250.07 L428.00,249.95 L428.25,249.82 L428.50,249.67 L428.75,249.51 L429.00,249.32 L429.25,249.12 L429.50,248.90 L429.75,248.66 L430.00,248.40 L430.25,248.11 L430.50,247.79 L430.75,247.45 L431.00,247.09 L431.25,246.70 L431.50,246.29 L431.75,245.86 L432.00,245.43 L432.25,244.99 L432.50,244.57 L432.75,244.18 L433.00,243.84 L433.25,243.55 L433.50,243.34 L433.75,243.22 L434.00,243.20 L434.25,243.28 L434.50,243.46 L434.75,243.73 L435.00,244.08 L435.25,244.49 L435.50,244.94 L435.75,245.42 L436.00,245.92 L436.25,246.41 L436.50,246.90 L436.75,247.37 L437.00,247.82 L437.25,248.25 L437.50,248.65 L437.75,249.03 L438.00,249.38 L438.25,249.71 L438.50,250.01 L438.75,250.29 L439.00,250.55 L439.25,250.80 L439.50,251.02 L439.75,251.23 L440.00,251.43 L440.25,251.61 L440.50,251.78 L440.75,251.94 L441.00,252.09 L441.25,252.23 L441.50,252.36 L441.75,252.48 L442.00,252.60 L442.25,252.73 L442.50,252.85 L442.75,252.96 L443.00,253.07 L443.25,253.17 L443.50,253.28 L443.75,253.37 L444.00,253.47 L444.25,253.56 L444.50,253.64 L444.75,253.73 L445.00,253.81 L445.25,253.89 L445.50,253.97 L445.75,254.05 L446.00,254.12 L446.25,254.19 L446.50,254.26 L446.75,254.33 L447.00,254.40 L447.25,254.41 L447.50,254.42 L447.75,254.42 L448.00,254.43 L449.00,254.44 L450.00,254.44 L451.00,254.42 L452.00,254.40 L453.00,254.13 L454.00,253.86 L455.00,253.58 L456.00,253.29 L457.00,253.00 L458.00,252.83 L459.00,252.65 L460.00,252.47 L461.00,252.29 L462.00,252.10 L463.00,251.85 L464.00,251.59 L465.00,251.33 L466.00,251.07 L467.00,250.80 L468.00,250.49 L469.00,250.18 L470.00,249.86 L471.00,249.54 L472.00,249.20 L473.00,248.92 L474.00,248.64 L475.00,248.34 L476.00,248.03 L477.00,247.70 L478.00,247.48 L479.00,247.24 L480.00,246.98 L480.25,246.91 L480.50,246.84 L480.75,246.76 L481.00,246.69 L481.25,246.61 L481.50,246.53 L481.75,246.45 L482.00,246.36 L482.25,246.28 L482.50,246.19 L482.75,246.09 L483.00,246.00 L483.25,245.93 L483.50,245.87 L483.75,245.79 L484.00,245.72 L484.25,245.64 L484.50,245.56 L484.75,245.47 L485.00,245.38 L485.25,245.29 L485.50,245.19 L485.75,245.09 L486.00,244.98 L486.25,244.87 L486.50,244.75 L486.75,244.63 L487.00,244.50 L487.25,244.27 L487.50,244.03 L487.75,243.78 L488.00,243.53 L488.25,243.27 L488.50,243.00 L488.75,242.72 L489.00,242.44 L489.25,242.14 L489.50,241.84 L489.75,241.52 L490.00,241.19 L490.25,240.85 L490.50,240.50 L490.75,240.13 L491.00,239.75 L491.25,239.36 L491.50,238.94 L491.75,238.52 L492.00,238.07 L492.25,237.60 L492.50,237.11 L492.75,236.61 L493.00,236.07 L493.25,235.52 L493.50,234.94 L493.75,234.33 L494.00,233.69 L494.25,233.02 L494.50,232.32 L494.75,231.59 L495.00,230.82 L495.25,230.01 L495.50,229.17 L495.75,228.29 L496.00,227.36 L496.25,226.40 L496.50,225.39 L496.75,224.33 L497.00,223.24 L497.25,222.10 L497.50,220.93 L497.75,219.71 L498.00,218.47 L498.25,217.19 L498.50,215.89 L498.75,214.58 L499.00,213.27 L499.25,211.96 L499.50,210.68 L499.75,209.43 L500.00,208.24 L500.25,207.11 L500.50,206.07 L500.75,205.14 L501.00,204.34 L501.25,203.67 L501.50,203.15 L501.75,202.79 L502.00,202.60 L502.25,202.58 L502.50,202.72 L502.75,203.03 L503.00,203.49 L503.25,204.09 L503.50,204.80 L503.75,205.63 L504.00,206.54 L504.25,207.52 L504.50,208.56 L504.75,209.63 L505.00,210.72 L505.25,211.82 L505.50,212.91 L505.75,213.99 L506.00,215.05 L506.25,216.08 L506.50,217.08 L506.75,218.04 L507.00,218.95 L507.25,219.83 L507.50,220.66 L507.75,221.44 L508.00,222.19 L508.25,222.89 L508.50,223.54 L508.75,224.16 L509.00,224.74 L509.25,225.28 L509.50,225.78 L509.75,226.24 L510.00,226.68 L510.25,227.08 L510.50,227.45 L510.75,227.79 L511.00,228.10 L511.25,228.30 L511.50,228.46 L511.75,228.61 L512.00,228.73 L512.25,228.83 L512.50,228.91 L512.75,228.97 L513.00,229.01 L513.25,229.04 L513.50,229.04 L513.75,229.03 L514.00,229.00 L514.25,229.00 L514.50,228.99 L514.75,228.97 L515.00,228.93 L515.25,228.87 L515.50,228.80 L515.75,228.72 L516.00,228.62 L516.25,228.51 L516.50,228.39 L516.75,228.25 L517.00,228.10 L517.25,228.22 L517.50,228.34 L517.75,228.43 L518.00,228.52 L518.25,228.58 L518.50,228.64 L518.70,228.67 L518.75,228.68 L518.95,228.70 L519.00,228.70 L519.20,228.87 L519.25,228.91 L519.45,229.07 L519.50,229.11 L519.70,229.26 L519.75,229.29 L519.95,229.43 L520.00,229.46 L520.20,229.57 L520.25,229.60 L520.45,229.70 L520.50,229.72 L520.70,229.81 L520.75,229.83 L520.95,229.90 L521.00,229.91 L521.20,229.96 L521.25,229.97 L521.45,230.00 L521.50,230.01 L521.70,230.02 L521.75,230.02 L521.95,230.01 L522.00,230.00 L522.20,229.71 L522.25,229.64 L522.45,229.33 L522.50,229.25 L522.70,228.91 L522.75,228.82 L522.95,228.46 L523.00,228.36 L523.20,227.97 L523.25,227.87 L523.45,227.44 L523.50,227.33 L523.70,226.87 L523.75,226.75 L523.95,226.26 L524.00,226.13 L524.20,225.59 L524.45,224.87 L524.70,224.10 L524.95,223.26 L525.00,223.09 L525.20,222.36 L525.45,221.39 L525.70,220.33 L525.95,219.19 L526.00,218.96 L526.20,217.96 L526.45,216.63 L526.70,215.19 L526.95,213.63 L527.00,213.30 L527.20,211.94 L527.45,210.11 L527.70,208.12 L527.95,205.97 L528.00,205.51 L528.20,203.63 L528.45,201.10 L528.70,198.35 L528.95,195.38 L529.00,194.75 L529.20,192.16 L529.45,188.68 L529.70,184.92 L529.95,180.89 L530.00,180.04 L530.20,176.56 L530.45,171.93 L530.70,167.03 L530.95,161.86 L531.00,160.80 L531.20,156.46 L531.45,150.89 L531.70,145.21 L531.95,139.54 L532.00,138.42 L532.20,133.99 L532.45,128.71 L532.70,123.87 L532.95,119.64 L533.00,118.89 L533.20,116.21 L533.45,113.72 L533.70,112.31 L533.95,112.04 L534.00,112.13 L534.20,112.93 L534.45,114.95 L534.70,118.00 L534.95,121.93 L535.00,122.81 L535.20,126.59 L535.45,131.79 L535.70,137.36 L535.95,143.14 L536.00,144.31 L536.20,148.99 L536.45,154.80 L536.70,160.47 L536.95,165.95 L537.00,167.01 L537.20,171.18 L537.45,176.14 L537.70,180.81 L537.95,185.19 L538.00,186.03 L538.20,189.28 L538.45,193.08 L538.70,196.63 L538.95,199.91 L539.00,200.54 L539.20,202.96 L539.45,205.79 L539.70,208.41 L539.95,210.84 L540.00,211.31 L540.20,213.10 L540.45,215.19 L540.70,217.14 L540.95,218.95 L541.00,219.30 L541.20,220.64 L541.45,222.21 L541.70,223.67 L541.95,225.04 L542.00,225.31 L542.20,226.32 L542.45,227.52 L542.70,228.65 L542.95,229.71 L543.00,229.91 L543.20,230.70 L543.45,231.63 L543.70,232.51 L543.95,233.35 L544.00,233.51 L544.20,234.13 L544.45,234.87 L544.70,235.58 L544.95,236.24 L545.00,236.37 L545.20,236.88 L545.45,237.48 L545.70,238.05 L545.95,238.59 L546.00,238.70 L546.20,239.05 L546.45,239.46 L546.70,239.85 L546.95,240.22 L547.00,240.30 L547.20,240.58 L547.45,240.91 L547.70,241.23 L547.95,241.53 L548.00,241.58 L548.20,241.81 L548.45,242.08 L548.70,242.34 L548.95,242.59 L549.00,242.64 L550.00,243.50 L551.00,244.36 L552.00,245.10 L553.00,245.74 L554.00,246.30 L555.00,246.80 L556.00,247.62 L557.00,248.39 L558.00,249.13 L559.00,249.83 L560.00,250.50 L561.00,251.30 L562.00,252.07 L563.00,252.83 L564.00,253.57 L565.00,254.30 L566.00,254.50 L567.00,254.69 L568.00,254.87 L569.00,255.04 L570.00,255.20 L571.00,255.21 L572.00,255.22 L573.00,255.22 L574.00,255.21 L575.00,255.20 L576.00,255.41 L577.00,255.61 L578.00,255.81 L579.00,256.01 L580.00,256.20 L581.00,256.01 L582.00,255.81 L583.00,255.61 L584.00,255.41 L585.00,255.20 L586.00,254.85 L587.00,254.49 L588.00,254.13 L589.00,253.77 L590.00,253.40 L591.00,253.24 L592.00,253.07 L593.00,252.90 L594.00,252.71 L594.25,252.66 L594.50,252.61 L594.75,252.55 L595.00,252.50 L595.25,252.47 L595.50,252.44 L595.75,252.40 L596.00,252.36 L596.25,252.32 L596.50,252.28 L596.75,252.24 L597.00,252.19 L597.25,252.14 L597.50,252.09 L597.75,252.03 L598.00,251.96 L598.25,251.89 L598.50,251.82 L598.75,251.74 L599.00,251.65 L599.25,251.55 L599.50,251.44 L599.75,251.32 L600.00,251.18 L600.25,251.03 L600.50,250.87 L600.75,250.68 L601.00,250.47 L601.25,250.24 L601.50,249.99 L601.75,249.70 L602.00,249.40 L602.25,249.07 L602.50,248.73 L602.75,248.39 L603.00,248.06 L603.25,247.76 L603.50,247.52 L603.75,247.36 L604.00,247.30 L604.25,247.34 L604.50,247.47 L604.75,247.68 L605.00,247.95 L605.25,248.25 L605.50,248.57 L605.75,248.88 L606.00,249.18 L606.25,249.46 L606.50,249.71 L606.75,249.94 L607.00,250.15 L607.25,250.33 L607.50,250.49 L607.75,250.63 L608.00,250.75 L608.25,250.86 L608.50,250.95 L608.75,251.03 L609.00,251.11 L609.25,251.17 L609.50,251.22 L609.75,251.27 L610.00,251.31 L610.25,251.35 L610.50,251.38 L610.75,251.41 L611.00,251.43 L611.25,251.46 L611.50,251.47 L611.75,251.49 L612.00,251.50 L612.25,251.40 L612.50,251.29 L612.75,251.19 L613.00,251.08 L613.25,250.97 L613.50,250.86 L613.75,250.75 L614.00,250.63 L615.00,250.17 L616.00,249.70 L617.00,249.71 L618.00,249.71 L619.00,249.71 L620.00,249.70 L621.00,249.96 L622.00,250.23 L623.00,250.49 L624.00,250.74 L625.00,251.00 L626.00,251.30 L627.00,251.60 L628.00,251.90 L629.00,252.20 L630.00,252.50 L631.00,252.65 L632.00,252.80 L633.00,252.95 L634.00,253.10 L635.00,253.25 L636.00,253.40 L637.00,253.55 L638.00,253.70 L639.00,253.85 L640.00,254.00 L641.00,254.12 L642.00,254.24 L643.00,254.36 L644.00,254.48 L645.00,254.60 L646.00,254.72 L647.00,254.84 L648.00,254.96 L649.00,255.08 L650.00,255.20 L651.00,255.13 L652.00,255.06 L653.00,254.99 L654.00,254.91 L655.00,254.84 L656.00,254.77 L657.00,254.70 L657.20,254.70" fill="none" stroke="#5b5f56" stroke-width="1.75" stroke-linejoin="round"/>
<path d="M97.00,245.00 L98.00,245.44 L99.00,245.87 L100.00,246.31 L101.00,246.74 L102.00,247.17 L103.00,247.61 L104.00,248.03 L105.00,248.33 L106.00,248.63 L107.00,248.93 L108.00,249.23 L109.00,249.53 L110.00,249.81 L111.00,249.94 L112.00,250.06 L113.00,250.18 L114.00,250.30 L115.00,250.42 L116.00,250.54 L117.00,250.66 L118.00,250.38 L119.00,249.92 L120.00,249.46 L121.00,249.00 L122.00,248.53 L123.00,248.51 L124.00,248.92 L125.00,249.32 L126.00,249.73 L127.00,250.13 L128.00,250.53 L129.00,250.92 L130.00,251.33 L131.00,251.74 L132.00,252.14 L133.00,252.51 L134.00,252.86 L135.00,253.15 L135.25,253.18 L135.50,253.05 L135.75,252.92 L136.00,252.78 L136.25,252.63 L136.50,252.47 L136.75,252.29 L137.00,252.10 L137.25,251.90 L137.50,251.67 L137.75,251.41 L138.00,251.12 L138.25,250.79 L138.50,250.42 L138.75,249.98 L139.00,249.47 L139.25,248.87 L139.50,248.17 L139.75,247.34 L140.00,246.39 L140.25,245.31 L140.50,244.16 L140.75,243.02 L141.00,242.05 L141.25,241.44 L141.50,241.31 L141.75,241.69 L142.00,242.46 L142.25,243.43 L142.50,244.45 L142.75,245.40 L143.00,246.24 L143.25,246.94 L143.50,247.52 L143.75,248.00 L144.00,248.38 L144.25,248.68 L144.50,248.92 L144.75,249.12 L145.00,249.27 L145.25,249.38 L145.50,249.47 L145.75,249.61 L146.00,249.79 L146.25,249.95 L146.50,250.10 L146.75,250.23 L147.00,250.36 L147.25,250.47 L147.50,250.58 L147.75,250.69 L148.00,250.79 L149.00,251.14 L150.00,251.44 L151.00,251.71 L152.00,251.96 L153.00,252.19 L154.00,252.40 L155.00,252.64 L156.00,252.91 L157.00,253.17 L158.00,253.41 L159.00,253.64 L160.00,253.84 L161.00,254.02 L162.00,254.16 L163.00,254.27 L164.00,254.25 L165.00,254.12 L166.00,253.92 L166.30,253.83 L166.55,253.76 L166.80,253.68 L167.00,253.60 L167.05,253.58 L167.30,253.48 L167.55,253.37 L167.80,253.25 L168.00,253.14 L168.05,253.10 L168.30,252.93 L168.55,252.74 L168.80,252.54 L169.00,252.37 L169.05,252.32 L169.30,252.09 L169.55,251.83 L169.80,251.56 L170.00,251.32 L170.05,251.26 L170.30,250.94 L170.55,250.59 L170.80,250.20 L171.00,249.87 L171.05,249.79 L171.30,249.33 L171.55,248.83 L171.80,248.29 L172.00,247.82 L172.05,247.69 L172.30,247.04 L172.55,246.32 L172.80,245.53 L173.00,244.84 L173.05,244.66 L173.30,243.69 L173.55,242.63 L173.80,241.46 L174.00,240.44 L174.05,240.17 L174.30,238.73 L174.55,237.16 L174.80,235.42 L175.00,233.90 L175.05,233.51 L175.30,231.41 L175.55,229.14 L175.80,226.69 L176.00,224.61 L176.05,224.08 L176.30,221.33 L176.55,218.51 L176.80,215.68 L177.00,213.48 L177.05,212.95 L177.30,210.43 L177.55,208.27 L177.80,206.61 L178.00,205.71 L178.05,205.56 L178.30,205.20 L178.55,205.57 L178.80,206.64 L179.00,207.94 L179.05,208.32 L179.30,210.50 L179.55,213.03 L179.80,215.77 L180.00,218.05 L180.05,218.62 L180.30,221.45 L180.55,224.21 L180.80,226.84 L181.00,228.82 L181.05,229.30 L181.30,231.58 L181.55,233.69 L181.80,235.61 L182.00,237.02 L182.05,237.35 L182.30,238.94 L182.55,240.37 L182.80,241.67 L183.00,242.62 L183.05,242.85 L183.30,243.91 L183.55,244.87 L183.80,245.74 L184.00,246.37 L184.05,246.52 L184.30,247.23 L184.55,247.88 L184.80,248.46 L185.00,248.88 L185.05,248.98 L185.30,249.46 L185.55,249.89 L185.80,250.28 L186.00,250.56 L186.05,250.62 L186.30,250.94 L186.55,251.21 L186.80,251.46 L187.00,251.63 L187.05,251.67 L187.10,251.71 L187.30,251.86 L187.35,251.89 L187.55,252.02 L187.60,252.05 L187.80,252.15 L187.85,252.17 L188.00,252.23 L188.05,252.25 L188.10,252.27 L188.30,252.30 L188.35,252.31 L188.55,252.30 L188.60,252.29 L188.80,252.26 L188.85,252.25 L189.00,252.21 L189.05,252.20 L189.10,252.18 L189.30,252.10 L189.35,252.08 L189.55,251.97 L189.60,251.94 L189.80,251.81 L189.85,251.77 L190.00,251.65 L190.05,251.61 L190.10,251.57 L190.35,251.32 L190.60,251.02 L190.85,250.67 L191.00,250.44 L191.10,250.27 L191.35,249.80 L191.60,249.25 L191.85,248.61 L192.00,248.19 L192.10,247.88 L192.35,247.03 L192.60,246.06 L192.85,244.93 L193.00,244.17 L193.10,243.63 L193.35,242.15 L193.60,240.46 L193.85,238.54 L194.00,237.29 L194.10,236.42 L194.35,234.11 L194.60,231.67 L194.85,229.21 L195.00,227.80 L195.10,226.91 L195.35,224.97 L195.60,223.61 L195.85,223.02 L196.00,223.07 L196.10,223.28 L196.35,224.35 L196.60,226.10 L196.85,228.29 L197.00,229.73 L197.10,230.71 L197.35,233.18 L197.60,235.57 L197.85,237.79 L198.00,239.02 L198.10,239.80 L198.35,241.59 L198.60,243.18 L198.85,244.56 L199.00,245.31 L199.10,245.78 L199.35,246.84 L199.60,247.76 L199.85,248.57 L200.00,249.00 L200.10,249.27 L200.35,249.89 L200.60,250.43 L200.85,250.91 L201.00,251.17 L201.10,251.33 L201.35,251.70 L201.60,252.03 L201.85,252.33 L202.00,252.49 L202.10,252.59 L202.35,252.82 L202.60,253.03 L202.85,253.21 L203.00,253.32 L203.10,253.38 L203.35,253.53 L203.60,253.66 L203.85,253.78 L204.00,253.84 L204.10,253.89 L204.35,253.98 L204.60,254.07 L205.00,254.18 L206.00,254.39 L207.00,254.51 L208.00,254.57 L209.00,254.58 L210.00,254.55 L211.00,254.49 L212.00,254.40 L213.00,254.00 L214.00,253.58 L215.00,253.15 L216.00,252.70 L217.00,252.23 L218.00,251.75 L219.00,251.18 L220.00,250.54 L221.00,249.87 L222.00,249.19 L223.00,248.49 L224.00,247.76 L225.00,247.00 L226.00,247.56 L227.00,248.08 L228.00,248.55 L229.00,248.97 L230.00,248.77 L231.00,247.64 L232.00,246.41 L233.00,245.08 L234.00,243.60 L235.00,243.64 L236.00,243.45 L236.20,243.37 L236.45,243.27 L236.70,243.14 L236.95,242.98 L237.00,242.95 L237.20,242.81 L237.45,242.60 L237.70,242.37 L237.95,242.10 L238.00,242.05 L238.20,241.81 L238.45,241.47 L238.70,240.84 L238.95,240.09 L239.00,239.94 L239.20,239.30 L239.45,238.46 L239.70,237.56 L239.95,236.60 L240.00,236.40 L240.20,235.58 L240.45,234.49 L240.70,233.31 L240.95,232.05 L241.00,231.79 L241.20,230.69 L241.45,229.23 L241.70,227.66 L241.95,225.95 L242.00,225.60 L242.20,224.11 L242.45,222.11 L242.70,219.94 L242.95,217.57 L243.00,217.07 L243.20,215.00 L243.45,212.19 L243.70,209.12 L243.95,205.76 L244.00,205.05 L244.20,202.09 L244.45,198.06 L244.70,193.66 L244.95,188.84 L245.00,187.82 L245.20,183.57 L245.45,177.82 L245.70,171.56 L245.95,164.79 L246.00,163.38 L246.20,157.51 L246.45,149.73 L246.70,141.53 L246.95,133.01 L247.00,131.28 L247.20,124.32 L247.45,115.68 L247.70,107.37 L247.95,99.73 L248.00,98.31 L248.20,93.12 L248.45,87.93 L248.70,84.46 L248.95,82.95 L249.00,82.90 L249.20,83.51 L249.45,86.10 L249.70,90.51 L249.95,96.47 L250.00,97.82 L250.20,103.62 L250.45,111.58 L250.70,120.00 L250.95,128.58 L251.00,130.29 L251.20,137.07 L251.45,145.30 L251.70,153.13 L251.95,160.49 L252.00,161.90 L252.20,167.35 L252.45,173.68 L252.70,179.51 L252.95,184.84 L253.00,185.85 L253.20,189.72 L253.45,194.16 L253.70,198.21 L253.95,201.89 L254.00,202.59 L254.20,205.25 L254.45,208.30 L254.70,211.09 L254.95,213.63 L255.00,214.11 L255.20,215.95 L255.45,218.07 L255.70,220.01 L255.95,221.79 L256.00,222.13 L256.20,223.42 L256.45,224.92 L256.70,226.30 L256.95,227.57 L257.00,227.81 L257.20,228.74 L257.45,229.82 L257.70,230.82 L257.95,231.74 L258.00,231.91 L258.20,232.59 L258.45,233.38 L258.70,234.11 L258.95,234.79 L259.00,234.92 L259.20,235.42 L259.45,236.00 L259.70,236.54 L259.95,237.05 L260.00,237.15 L260.20,237.52 L260.45,237.95 L260.70,238.36 L260.95,238.73 L261.00,238.80 L261.20,239.08 L261.45,239.40 L261.70,239.70 L262.00,240.03 L262.90,240.83 L263.00,240.91 L263.15,241.02 L263.40,241.18 L263.65,241.32 L263.90,241.45 L264.00,241.50 L264.15,241.56 L264.40,241.65 L264.65,241.71 L264.90,241.77 L265.00,241.78 L265.15,241.80 L265.40,241.82 L265.65,241.81 L265.90,241.79 L266.00,241.78 L266.15,241.75 L266.40,241.68 L266.65,241.59 L266.90,241.46 L267.00,241.41 L267.15,241.31 L267.40,241.13 L267.65,240.90 L267.90,240.63 L268.00,240.51 L268.15,240.31 L268.40,239.93 L268.65,239.49 L268.90,238.97 L269.00,238.75 L269.15,238.38 L269.40,237.69 L269.65,236.91 L269.90,236.04 L270.00,235.67 L270.15,235.09 L270.40,234.08 L270.65,233.07 L270.90,232.12 L271.00,231.77 L271.15,231.31 L271.40,230.75 L271.65,230.51 L271.90,230.62 L272.00,230.76 L272.15,231.06 L272.40,231.79 L272.65,232.70 L272.90,233.70 L273.00,234.12 L273.15,234.73 L273.40,235.71 L273.65,236.63 L273.90,237.46 L274.00,237.76 L274.15,238.20 L274.40,238.84 L274.65,239.41 L274.90,239.90 L275.00,240.08 L275.15,240.33 L275.40,240.69 L275.65,241.01 L275.90,241.29 L276.00,241.39 L276.15,241.53 L276.40,241.73 L276.65,241.91 L276.90,242.07 L277.00,242.12 L277.15,242.20 L277.40,242.32 L277.65,242.42 L277.90,242.50 L278.00,242.58 L278.15,242.70 L278.40,242.88 L278.65,243.05 L278.90,243.22 L279.00,243.28 L279.15,243.38 L279.40,243.53 L279.65,243.67 L279.90,243.81 L280.00,243.86 L280.15,243.94 L280.40,244.07 L281.00,244.37 L282.00,244.81 L283.00,245.21 L284.00,245.59 L285.00,245.89 L286.00,246.11 L287.00,246.31 L288.00,246.50 L289.00,246.68 L290.00,246.85 L291.00,247.02 L292.00,247.18 L293.00,247.33 L294.00,247.29 L295.00,247.06 L296.00,246.82 L297.00,246.59 L298.00,246.35 L299.00,246.10 L300.00,245.85 L301.00,245.41 L302.00,244.91 L303.00,244.41 L304.00,243.90 L305.00,242.82 L306.00,240.86 L307.00,239.05 L308.00,238.57 L309.00,238.07 L310.00,237.57 L311.00,237.06 L312.00,236.59 L313.00,236.13 L314.00,235.65 L314.60,235.35 L314.85,235.22 L315.00,235.14 L315.10,235.09 L315.35,234.95 L315.60,234.81 L315.85,234.67 L316.00,234.59 L316.10,234.53 L316.35,234.39 L316.60,234.24 L316.85,234.09 L317.00,234.00 L317.10,233.93 L317.35,233.77 L317.60,233.60 L317.85,233.42 L318.00,233.31 L318.10,233.23 L318.35,233.04 L318.60,232.83 L318.85,232.61 L319.00,232.47 L319.10,232.38 L319.35,232.13 L319.60,231.86 L319.85,231.58 L320.00,231.40 L320.10,231.29 L320.35,231.01 L320.60,230.69 L320.85,230.35 L321.00,230.12 L321.10,229.96 L321.35,229.54 L321.60,229.07 L321.85,228.55 L322.00,228.22 L322.10,227.98 L322.35,227.35 L322.60,226.66 L322.85,225.91 L323.00,225.43 L323.10,225.11 L323.35,224.26 L323.60,223.40 L323.85,222.56 L324.00,222.08 L324.10,221.77 L324.35,221.09 L324.60,220.58 L324.85,220.27 L325.00,220.20 L325.10,220.20 L325.35,220.36 L325.60,220.74 L325.85,221.29 L326.00,221.68 L326.10,221.96 L326.35,222.69 L326.60,223.45 L326.85,224.20 L327.00,224.63 L327.10,224.91 L327.35,225.57 L327.60,226.18 L327.85,226.72 L328.00,227.01 L328.10,227.20 L328.35,227.63 L328.60,228.00 L328.85,228.33 L329.00,228.51 L329.10,228.62 L329.35,228.87 L329.60,229.16 L329.85,229.53 L330.00,229.74 L330.10,229.88 L330.35,230.21 L330.60,230.51 L330.85,230.80 L331.00,230.96 L331.10,231.07 L331.35,231.32 L331.60,231.56 L331.85,231.79 L332.00,231.92 L332.10,232.01 L332.35,232.22 L332.60,232.42 L332.85,232.61 L333.00,232.72 L333.10,232.79 L333.35,232.97 L333.60,233.11 L333.85,233.23 L334.00,233.31 L334.10,233.35 L334.35,233.47 L334.60,233.58 L334.85,233.68 L335.00,233.73 L335.10,233.77 L335.35,233.86 L336.00,234.06 L337.00,234.27 L338.00,234.33 L339.00,234.18 L339.25,234.10 L339.50,233.99 L339.75,233.86 L340.00,233.70 L340.25,233.35 L340.50,232.97 L340.75,232.54 L341.00,232.05 L341.25,231.51 L341.50,230.90 L341.75,230.21 L342.00,229.42 L342.25,228.52 L342.50,227.47 L342.75,226.27 L343.00,224.86 L343.25,223.22 L343.50,221.30 L343.75,219.04 L344.00,216.39 L344.25,213.29 L344.50,209.70 L344.75,205.63 L345.00,201.14 L345.25,196.44 L345.50,191.92 L345.75,188.12 L346.00,185.66 L346.25,185.03 L346.50,186.35 L346.75,189.34 L347.00,193.42 L347.25,198.00 L347.50,202.56 L347.75,206.83 L348.00,210.63 L348.25,213.94 L348.50,216.78 L348.75,219.19 L349.00,221.23 L349.25,222.96 L349.50,224.42 L349.75,225.67 L350.00,226.73 L350.25,227.63 L350.50,228.41 L350.75,229.09 L351.00,229.67 L351.25,230.17 L351.50,230.62 L351.75,231.00 L352.00,231.34 L352.25,231.63 L352.50,231.90 L352.75,232.13 L353.00,232.33 L353.25,232.51 L354.00,232.93 L355.00,233.30 L356.00,233.59 L357.00,233.78 L358.00,233.90 L359.00,233.97 L360.00,234.00 L361.00,234.13 L362.00,234.25 L363.00,234.35 L364.00,234.43 L365.00,234.50 L366.00,234.76 L367.00,235.00 L368.00,235.24 L369.00,235.47 L370.00,235.70 L371.00,236.17 L372.00,236.64 L373.00,237.10 L374.00,237.56 L375.00,238.00 L376.00,238.35 L377.00,238.69 L378.00,239.01 L379.00,239.32 L380.00,239.60 L380.25,239.48 L380.50,239.36 L380.75,239.24 L381.00,239.11 L381.25,238.99 L381.50,238.86 L381.75,238.72 L382.00,238.59 L382.25,238.45 L382.50,238.30 L382.75,238.15 L383.00,238.00 L383.25,238.18 L383.50,238.35 L383.75,238.51 L384.00,238.67 L384.25,238.82 L384.50,238.97 L384.75,239.10 L385.00,239.23 L385.25,239.34 L385.50,239.44 L385.75,239.53 L386.00,239.60 L386.25,239.46 L386.50,239.30 L386.75,239.12 L387.00,238.92 L387.25,238.69 L387.50,238.43 L387.75,238.14 L388.00,237.82 L388.25,237.45 L388.50,237.04 L388.75,236.59 L389.00,236.09 L389.25,235.54 L389.50,234.95 L389.75,234.31 L390.00,233.64 L390.25,232.95 L390.50,232.25 L390.75,231.58 L391.00,230.97 L391.25,230.45 L391.50,230.07 L391.75,229.84 L392.00,229.80 L392.25,229.95 L392.50,230.28 L392.75,230.78 L393.00,231.41 L393.25,232.13 L393.50,232.90 L393.75,233.71 L394.00,234.51 L394.25,235.29 L394.50,236.03 L394.75,236.74 L395.00,237.39 L395.25,238.00 L395.50,238.56 L395.75,239.08 L396.00,239.55 L396.25,239.99 L396.50,240.39 L396.75,240.75 L397.00,241.09 L397.25,241.40 L397.50,241.69 L397.75,241.96 L398.00,242.21 L398.25,242.44 L398.50,242.65 L398.75,242.85 L399.00,243.04 L399.25,243.22 L399.50,243.39 L399.75,243.55 L400.00,243.70 L400.25,244.01 L400.50,244.31 L400.75,244.61 L401.00,244.90 L401.25,245.19 L401.50,245.47 L401.75,245.75 L402.00,246.02 L402.25,246.29 L402.50,246.56 L402.75,246.82 L403.00,247.08 L403.25,247.34 L403.50,247.59 L403.75,247.85 L404.00,248.10 L405.00,248.23 L406.00,248.33 L407.00,248.41 L408.00,248.49 L409.00,248.55 L410.00,248.60 L411.00,248.73 L412.00,248.85 L413.00,248.97 L414.00,249.09 L415.00,249.20 L416.00,249.34 L417.00,249.49 L418.00,249.63 L419.00,249.76 L420.00,249.90 L421.00,249.46 L422.00,249.02 L423.00,248.58 L424.00,248.14 L425.00,247.70 L426.00,247.42 L427.00,247.14 L428.00,246.86 L429.00,246.58 L430.00,246.30 L431.00,245.43 L432.00,244.57 L433.00,243.70 L434.00,243.13 L435.00,242.55 L436.00,241.98 L437.00,241.40 L438.00,241.32 L439.00,241.24 L440.00,241.16 L441.00,241.08 L442.00,241.00 L443.00,241.00 L444.00,241.01 L445.00,241.01 L446.00,241.01 L447.00,241.00 L448.00,241.00 L449.00,240.83 L450.00,240.65 L451.00,240.48 L452.00,240.30 L453.00,239.94 L454.00,239.57 L455.00,239.20 L456.00,239.07 L457.00,238.94 L458.00,238.80 L459.00,239.18 L460.00,239.56 L461.00,239.93 L462.00,240.30 L463.00,241.16 L464.00,242.01 L465.00,242.86 L466.00,243.70 L467.00,244.26 L468.00,244.82 L469.00,245.36 L470.00,245.90 L471.00,246.47 L472.00,247.03 L473.00,247.57 L474.00,248.10 L475.00,249.18 L476.00,250.24 L477.00,251.28 L478.00,252.30 L479.00,255.13 L480.00,257.94 L480.25,258.63 L480.50,259.32 L480.75,260.01 L481.00,260.70 L481.25,261.10 L481.50,261.50 L481.75,261.90 L482.00,262.29 L482.25,262.68 L482.50,263.07 L482.75,263.45 L483.00,263.83 L483.25,264.20 L483.50,264.57 L483.75,264.94 L484.00,265.30 L484.25,265.42 L484.50,265.53 L484.75,265.63 L485.00,265.73 L485.25,265.83 L485.50,265.91 L485.75,266.00 L486.00,266.07 L486.25,266.14 L486.50,266.20 L486.75,266.25 L487.00,266.30 L487.25,265.97 L487.50,265.63 L487.75,265.28 L488.00,264.92 L488.25,264.55 L488.50,264.16 L488.75,263.77 L489.00,263.36 L489.25,262.95 L489.50,262.51 L489.75,262.06 L490.00,261.60 L490.25,261.32 L490.50,261.02 L490.75,260.71 L491.00,260.37 L491.25,260.02 L491.50,259.64 L491.75,259.24 L492.00,258.81 L492.25,258.36 L492.50,257.88 L492.75,257.36 L493.00,256.82 L493.25,256.24 L493.50,255.63 L493.75,254.98 L494.00,254.29 L494.25,253.56 L494.50,252.79 L494.75,251.97 L495.00,251.10 L495.25,250.18 L495.50,249.20 L495.75,248.18 L496.00,247.09 L496.25,245.95 L496.50,244.75 L496.75,243.49 L497.00,242.17 L497.25,240.80 L497.50,239.37 L497.75,237.88 L498.00,236.36 L498.25,234.79 L498.50,233.19 L498.75,231.58 L499.00,229.96 L499.25,228.35 L499.50,226.77 L499.75,225.24 L500.00,223.78 L500.25,222.42 L500.50,221.18 L500.75,220.08 L501.00,219.16 L501.25,218.42 L501.50,217.89 L501.75,217.58 L502.00,217.50 L502.25,217.65 L502.50,218.03 L502.75,218.64 L503.00,219.44 L503.25,220.44 L503.50,221.61 L503.75,222.92 L504.00,224.35 L504.25,225.88 L504.50,227.48 L504.75,229.13 L505.00,230.81 L505.25,232.49 L505.50,234.17 L505.75,235.84 L506.00,237.47 L506.25,239.06 L506.50,240.60 L506.75,242.09 L507.00,243.52 L507.25,244.90 L507.50,246.21 L507.75,247.46 L508.00,248.66 L508.25,249.79 L508.50,250.86 L508.75,251.88 L509.00,252.84 L509.25,253.75 L509.50,254.61 L509.75,255.42 L510.00,256.18 L510.25,256.90 L510.50,257.57 L510.75,258.21 L511.00,258.80 L511.25,259.26 L511.50,259.69 L511.75,260.09 L512.00,260.45 L512.25,260.78 L512.50,261.08 L512.75,261.35 L513.00,261.60 L513.25,261.58 L513.50,261.53 L513.75,261.46 L514.00,261.37 L514.25,261.25 L514.50,261.11 L514.75,260.94 L515.00,260.76 L515.25,260.55 L515.50,260.32 L515.75,260.07 L516.00,259.80 L516.25,260.00 L516.50,260.17 L516.75,260.32 L517.00,260.46 L517.25,260.57 L517.50,260.65 L517.75,260.72 L518.00,260.76 L518.25,260.79 L518.50,260.78 L518.70,260.76 L518.75,260.75 L518.95,260.71 L519.00,260.70 L519.20,260.96 L519.25,261.03 L519.45,261.27 L519.50,261.33 L519.70,261.55 L519.75,261.60 L519.95,261.80 L520.00,261.84 L520.20,262.01 L520.25,262.05 L520.45,262.20 L520.50,262.23 L520.70,262.35 L520.75,262.37 L520.95,262.46 L521.00,262.48 L521.20,262.54 L521.25,262.55 L521.45,262.58 L521.50,262.58 L521.70,262.57 L521.75,262.56 L521.95,262.52 L522.00,262.50 L522.20,261.93 L522.25,261.78 L522.45,261.16 L522.50,261.00 L522.70,260.34 L522.75,260.17 L522.95,259.47 L523.00,259.28 L523.20,258.52 L523.25,258.33 L523.45,257.52 L523.50,257.31 L523.70,256.43 L523.75,256.21 L523.95,255.27 L524.00,255.03 L524.20,254.03 L524.45,252.70 L524.70,251.26 L524.95,249.72 L525.00,249.40 L525.20,248.07 L525.45,246.29 L525.70,244.37 L525.95,242.31 L526.00,241.87 L526.20,240.08 L526.45,237.68 L526.70,235.09 L526.95,232.30 L527.00,231.71 L527.20,229.28 L527.45,226.01 L527.70,222.47 L527.95,218.65 L528.00,217.85 L528.20,214.51 L528.45,210.03 L528.70,205.17 L528.95,199.92 L529.00,198.82 L529.20,194.25 L529.45,188.12 L529.70,181.52 L529.95,174.42 L530.00,172.94 L530.20,166.82 L530.45,158.71 L530.70,150.11 L530.95,141.05 L531.00,139.19 L531.20,131.59 L531.45,121.83 L531.70,111.89 L531.95,101.96 L532.00,99.99 L532.20,92.23 L532.45,82.98 L532.70,74.49 L532.95,67.07 L533.00,65.75 L533.20,61.03 L533.45,56.63 L533.70,54.10 L533.95,53.55 L534.00,53.69 L534.20,55.03 L534.45,58.46 L534.70,63.67 L534.95,70.43 L535.00,71.94 L535.20,78.44 L535.45,87.40 L535.70,97.00 L535.95,106.97 L536.00,108.98 L536.20,117.06 L536.45,127.07 L536.70,136.86 L536.95,146.29 L537.00,148.13 L537.20,155.31 L537.45,163.85 L537.70,171.89 L537.95,179.42 L538.00,180.86 L538.20,186.45 L538.45,192.99 L538.70,199.06 L538.95,204.70 L539.00,205.78 L539.20,209.92 L539.45,214.76 L539.70,219.24 L539.95,223.39 L540.00,224.18 L540.20,227.23 L540.45,230.80 L540.70,234.11 L540.95,237.18 L541.00,237.77 L541.20,240.03 L541.45,242.69 L541.70,245.16 L541.95,247.47 L542.00,247.91 L542.20,249.62 L542.45,251.63 L542.70,253.51 L542.95,255.27 L543.00,255.61 L543.20,256.92 L543.45,258.47 L543.70,259.93 L543.95,261.30 L544.00,261.56 L544.20,262.59 L544.45,263.81 L544.70,264.95 L544.95,266.04 L545.00,266.25 L545.20,267.07 L545.45,268.04 L545.70,268.96 L545.95,269.83 L546.00,270.00 L546.20,270.29 L546.45,270.61 L546.70,270.89 L546.95,271.14 L547.00,271.19 L547.20,271.36 L547.45,271.54 L547.70,271.69 L547.95,271.82 L548.00,271.84 L548.20,271.92 L548.45,271.99 L548.70,272.05 L548.95,272.08 L549.00,272.08 L550.00,272.00 L551.00,272.44 L552.00,272.68 L553.00,272.75 L554.00,272.68 L555.00,272.50 L556.00,273.05 L557.00,273.51 L558.00,273.91 L559.00,274.25 L560.00,274.55 L561.00,274.80 L562.00,274.15 L563.00,273.46 L564.00,272.75 L565.00,272.01 L566.00,271.26 L567.00,270.48 L568.00,269.68 L569.00,269.07 L570.00,268.74 L571.00,268.39 L572.00,268.04 L573.00,267.67 L574.00,267.30 L575.00,266.51 L576.00,265.71 L577.00,264.91 L578.00,264.09 L579.00,263.28 L580.00,262.45 L581.00,261.59 L582.00,260.74 L583.00,259.87 L584.00,259.01 L585.00,258.13 L586.00,257.26 L587.00,256.38 L588.00,255.41 L589.00,254.41 L590.00,253.41 L591.00,252.41 L592.00,251.39 L593.00,250.37 L594.00,249.33 L595.00,248.23 L596.00,247.02 L596.25,246.72 L596.50,246.41 L596.75,246.10 L597.00,245.79 L597.25,245.47 L597.50,245.15 L597.75,244.83 L598.00,244.50 L598.25,244.16 L598.50,243.83 L598.75,243.48 L599.00,243.13 L599.25,242.77 L599.50,242.40 L599.75,242.02 L600.00,241.62 L600.25,241.26 L600.50,241.07 L600.75,240.86 L601.00,240.63 L601.25,240.37 L601.50,240.08 L601.75,239.75 L602.00,239.39 L602.25,238.98 L602.50,238.52 L602.75,238.01 L603.00,237.46 L603.25,236.85 L603.50,236.22 L603.75,235.59 L604.00,234.99 L604.25,234.48 L604.50,234.11 L604.75,233.91 L605.00,233.93 L605.25,234.13 L605.50,234.49 L605.75,234.96 L606.00,235.49 L606.25,236.03 L606.50,236.54 L606.75,237.02 L607.00,237.45 L607.25,237.83 L607.50,238.15 L607.75,238.44 L608.00,238.68 L608.25,238.88 L608.50,239.05 L608.75,239.20 L609.00,239.32 L609.25,239.42 L609.50,239.50 L609.75,239.71 L610.00,239.91 L610.25,240.09 L610.50,240.27 L610.75,240.43 L611.00,240.59 L611.25,240.75 L611.50,240.89 L611.75,241.04 L612.00,241.17 L612.25,241.31 L612.50,241.43 L612.75,241.56 L613.00,241.68 L613.25,241.81 L613.50,241.92 L614.00,242.15 L615.00,241.50 L616.00,240.71 L617.00,239.90 L618.00,239.08 L619.00,238.45 L620.00,238.30 L621.00,238.14 L622.00,237.98 L623.00,237.82 L624.00,237.65 L625.00,237.49 L626.00,237.33 L627.00,237.17 L628.00,237.01 L629.00,236.85 L630.00,236.67 L631.00,236.38 L632.00,236.09 L633.00,235.80 L634.00,235.50 L635.00,235.21 L636.00,234.92 L637.00,234.49 L638.00,233.97 L639.00,233.44 L640.00,232.92 L641.00,232.40 L642.00,232.90 L643.00,233.40 L644.00,233.90 L645.00,234.39 L646.00,234.82 L647.00,235.26 L648.00,235.70 L649.00,236.13 L650.00,236.57 L651.00,237.57 L652.00,238.81 L653.00,240.06 L654.00,241.30 L655.00,242.23 L656.00,243.17 L657.00,244.10 L657.20,244.10" fill="none" stroke="#e84b5c" stroke-width="1.75" stroke-linejoin="round"/>
<path d="M97.00,206.70 L98.00,206.25 L99.00,205.80 L100.00,205.35 L101.00,204.90 L102.00,204.90 L103.00,204.90 L104.00,204.90 L105.00,204.90 L106.00,204.90 L107.00,204.90 L108.00,204.85 L109.00,204.80 L110.00,204.75 L111.00,204.69 L112.00,204.64 L113.00,204.56 L114.00,204.36 L115.00,204.16 L116.00,203.96 L117.00,203.76 L118.00,203.30 L119.00,202.72 L120.00,202.14 L121.00,201.56 L122.00,200.98 L123.00,200.40 L124.00,200.95 L125.00,201.51 L126.00,202.06 L127.00,202.60 L128.00,202.91 L129.00,203.21 L130.00,203.51 L131.00,203.79 L132.00,204.05 L133.00,204.48 L133.50,204.70 L133.75,204.81 L134.00,204.91 L134.25,205.01 L134.50,205.10 L134.75,205.19 L135.00,205.28 L135.25,205.35 L135.50,205.42 L135.75,205.48 L136.00,205.53 L136.25,205.57 L136.50,205.59 L136.75,205.51 L137.00,205.34 L137.25,205.14 L137.50,204.92 L137.75,204.66 L138.00,204.37 L138.25,204.03 L138.50,203.64 L138.75,203.18 L139.00,202.66 L139.25,202.05 L139.50,201.37 L139.75,200.61 L140.00,199.81 L140.25,199.01 L140.50,198.29 L140.75,197.73 L141.00,197.43 L141.25,197.45 L141.50,197.76 L141.75,198.32 L142.00,199.03 L142.25,199.80 L142.50,200.55 L142.75,201.25 L143.00,201.88 L143.25,202.43 L143.50,202.91 L143.75,203.31 L144.00,203.65 L144.25,203.94 L144.50,204.19 L144.75,204.40 L145.00,204.58 L145.25,204.73 L145.50,204.85 L145.75,204.95 L146.00,205.02 L146.25,205.08 L146.50,205.12 L146.75,205.15 L147.00,205.18 L147.25,205.20 L147.50,205.21 L147.75,205.22 L148.00,205.22 L148.25,205.21 L148.50,205.20 L149.00,205.18 L150.00,205.09 L151.00,204.97 L152.00,205.16 L153.00,205.67 L154.00,206.16 L155.00,206.64 L156.00,207.10 L157.00,207.52 L158.00,207.93 L159.00,208.31 L160.00,208.68 L161.00,209.02 L162.00,209.29 L163.00,209.12 L164.00,208.90 L165.00,208.63 L165.90,208.31 L166.00,208.27 L166.15,208.21 L166.40,208.10 L166.65,207.98 L166.90,207.85 L167.00,207.79 L167.15,207.71 L167.40,207.56 L167.65,207.40 L167.90,207.23 L168.00,207.16 L168.15,207.04 L168.40,206.85 L168.65,206.64 L168.90,206.41 L169.00,206.31 L169.15,206.16 L169.40,205.90 L169.65,205.62 L169.90,205.31 L170.00,205.18 L170.15,204.97 L170.40,204.61 L170.65,204.22 L170.90,203.79 L171.00,203.61 L171.15,203.32 L171.40,202.82 L171.65,202.26 L171.90,201.65 L172.00,201.39 L172.15,200.98 L172.40,200.25 L172.65,199.44 L172.90,198.55 L173.00,198.17 L173.15,197.57 L173.40,196.49 L173.65,195.29 L173.90,193.98 L174.00,193.41 L174.15,192.52 L174.40,190.93 L174.65,189.17 L174.90,187.25 L175.00,186.44 L175.15,185.17 L175.40,182.92 L175.65,180.52 L175.90,178.01 L176.00,176.98 L176.15,175.42 L176.40,172.83 L176.65,170.32 L176.90,168.02 L177.00,167.18 L177.15,166.04 L177.40,164.51 L177.65,163.54 L177.90,163.20 L178.00,163.25 L178.15,163.53 L178.40,164.49 L178.65,166.01 L178.90,167.99 L179.00,168.87 L179.15,170.28 L179.40,172.78 L179.65,175.36 L179.90,177.94 L180.00,178.95 L180.15,180.44 L180.40,182.83 L180.65,185.06 L180.90,187.14 L181.00,187.92 L181.15,189.04 L181.40,190.78 L181.65,192.37 L181.90,193.80 L182.00,194.34 L182.15,195.10 L182.40,196.28 L182.65,197.34 L182.90,198.30 L183.00,198.66 L183.15,199.17 L183.40,199.95 L183.65,200.66 L183.90,201.30 L184.00,201.54 L184.15,201.88 L184.40,202.40 L184.65,202.87 L184.90,203.30 L185.00,203.46 L185.15,203.68 L185.40,204.03 L185.65,204.34 L185.90,204.62 L186.00,204.72 L186.15,204.87 L186.25,204.96 L186.40,205.09 L186.50,205.17 L186.65,205.28 L186.75,205.35 L186.90,205.44 L187.00,205.50 L187.15,205.56 L187.25,205.59 L187.40,205.63 L187.50,205.65 L187.65,205.68 L187.75,205.69 L187.90,205.70 L188.00,205.70 L188.15,205.70 L188.25,205.69 L188.40,205.67 L188.50,205.65 L188.65,205.61 L188.75,205.58 L188.90,205.53 L189.00,205.49 L189.15,205.42 L189.25,205.36 L189.40,205.27 L189.50,205.20 L189.65,205.09 L189.75,205.01 L190.00,204.77 L190.25,204.48 L190.50,204.15 L190.75,203.75 L191.00,203.29 L191.25,202.75 L191.50,202.12 L191.75,201.39 L192.00,200.55 L192.25,199.58 L192.50,198.47 L192.75,197.22 L193.00,195.83 L193.25,194.31 L193.50,192.70 L193.75,191.09 L194.00,189.57 L194.25,188.29 L194.50,187.40 L194.75,187.01 L195.00,187.18 L195.25,187.90 L195.50,189.05 L195.75,190.49 L196.00,192.09 L196.25,193.72 L196.50,195.29 L196.75,196.76 L197.00,198.08 L197.25,199.26 L197.50,200.30 L197.75,201.22 L198.00,202.01 L198.25,202.71 L198.50,203.31 L198.75,203.84 L199.00,204.30 L199.25,204.70 L199.50,205.05 L199.75,205.36 L200.00,205.63 L200.25,205.87 L200.50,206.08 L200.75,206.27 L201.00,206.43 L201.25,206.57 L201.50,206.70 L201.75,206.82 L202.00,206.92 L202.25,207.01 L202.50,207.08 L202.75,207.15 L203.00,207.21 L203.25,207.27 L203.50,207.31 L204.00,207.39 L205.00,207.47 L206.00,207.58 L207.00,207.82 L208.00,208.03 L209.00,208.21 L210.00,208.37 L211.00,208.52 L212.00,208.64 L213.00,208.76 L214.00,208.86 L215.00,208.94 L216.00,209.02 L217.00,209.08 L218.00,208.58 L219.00,207.71 L220.00,206.83 L221.00,205.92 L222.00,205.00 L223.00,204.06 L224.00,203.10 L225.00,203.76 L226.00,204.39 L227.00,204.99 L228.00,205.54 L229.00,205.51 L230.00,204.88 L231.00,204.18 L232.00,203.40 L233.00,202.50 L234.00,203.01 L235.00,203.34 L236.00,203.45 L236.30,203.43 L236.55,203.40 L236.80,203.34 L237.00,203.27 L237.05,203.26 L237.30,203.15 L237.55,202.82 L237.80,202.34 L238.00,201.92 L238.05,201.82 L238.30,201.27 L238.55,200.68 L238.80,200.06 L239.00,199.53 L239.05,199.39 L239.30,198.68 L239.55,197.92 L239.80,197.10 L240.00,196.41 L240.05,196.23 L240.30,195.29 L240.55,194.28 L240.80,193.19 L241.00,192.26 L241.05,192.01 L241.30,190.75 L241.55,189.38 L241.80,187.89 L242.00,186.62 L242.05,186.29 L242.30,184.54 L242.55,182.64 L242.80,180.57 L243.00,178.78 L243.05,178.31 L243.30,175.85 L243.55,173.15 L243.80,170.20 L244.00,167.64 L244.05,166.97 L244.30,163.43 L244.55,159.54 L244.80,155.28 L245.00,151.58 L245.05,150.61 L245.30,145.50 L245.55,139.91 L245.80,133.84 L246.00,128.61 L246.05,127.25 L246.30,120.16 L246.55,112.59 L246.80,104.60 L247.00,97.97 L247.05,96.29 L247.30,87.81 L247.55,79.39 L247.80,71.30 L248.00,65.28 L248.05,63.86 L248.30,57.44 L248.55,52.39 L248.80,49.05 L249.00,47.76 L249.05,47.64 L249.30,48.26 L249.55,50.86 L249.80,55.26 L250.00,59.89 L250.05,61.18 L250.30,68.27 L250.55,76.15 L250.80,84.49 L251.00,91.28 L251.05,92.98 L251.30,101.38 L251.55,109.52 L251.80,117.28 L252.00,123.16 L252.05,124.58 L252.30,131.38 L252.55,137.67 L252.80,143.45 L253.00,147.73 L253.05,148.76 L253.30,153.61 L253.55,158.04 L253.80,162.08 L254.00,165.05 L254.05,165.76 L254.30,169.12 L254.55,172.19 L254.80,174.99 L255.00,177.06 L255.05,177.55 L255.30,179.89 L255.55,182.04 L255.80,184.01 L256.00,185.47 L256.05,185.82 L256.30,187.49 L256.55,189.02 L256.80,190.44 L257.00,191.50 L257.05,191.75 L257.30,192.96 L257.55,194.09 L257.80,195.13 L258.00,195.91 L258.05,196.09 L258.30,196.99 L258.55,197.83 L258.80,198.61 L259.00,199.20 L259.05,199.34 L259.30,200.02 L259.55,200.66 L259.80,201.25 L260.00,201.70 L260.05,201.81 L260.30,202.33 L260.55,202.81 L260.80,203.27 L261.00,203.61 L261.05,203.70 L261.30,204.10 L261.55,204.47 L261.80,204.82 L262.00,205.09 L262.60,205.79 L262.85,206.05 L263.00,206.20 L263.10,206.24 L263.35,206.33 L263.60,206.40 L263.85,206.46 L264.00,206.48 L264.10,206.49 L264.35,206.51 L264.60,206.51 L264.85,206.49 L265.00,206.47 L265.10,206.45 L265.35,206.38 L265.60,206.30 L265.85,206.19 L266.00,206.11 L266.10,206.06 L266.35,205.89 L266.60,205.70 L266.85,205.47 L267.00,205.32 L267.10,205.21 L267.35,204.90 L267.60,204.54 L267.85,204.12 L268.00,203.84 L268.10,203.64 L268.35,203.08 L268.60,202.45 L268.85,201.72 L269.00,201.24 L269.10,200.89 L269.35,199.96 L269.60,198.93 L269.85,197.80 L270.00,197.09 L270.10,196.61 L270.35,195.42 L270.60,194.29 L270.85,193.33 L271.00,192.88 L271.10,192.65 L271.35,192.32 L271.60,192.39 L271.85,192.84 L272.00,193.27 L272.10,193.61 L272.35,194.58 L272.60,195.66 L272.85,196.76 L273.00,197.41 L273.10,197.82 L273.35,198.80 L273.60,199.68 L273.85,200.46 L274.00,200.88 L274.10,201.14 L274.35,201.73 L274.60,202.23 L274.85,202.66 L275.00,202.89 L275.10,203.03 L275.35,203.34 L275.60,203.60 L275.85,203.82 L276.00,203.93 L276.10,204.00 L276.35,204.15 L276.60,204.27 L276.85,204.37 L277.00,204.43 L277.10,204.45 L277.35,204.52 L277.60,204.56 L277.85,204.60 L278.00,204.73 L278.10,204.86 L278.35,205.17 L278.60,205.47 L278.85,205.77 L279.00,205.94 L279.10,206.05 L279.35,206.33 L279.60,206.60 L279.85,206.87 L280.00,207.03 L280.10,207.13 L281.00,208.04 L282.00,208.99 L283.00,209.90 L284.00,210.78 L285.00,211.45 L286.00,211.81 L287.00,212.16 L288.00,212.50 L289.00,212.83 L290.00,213.14 L291.00,213.45 L292.00,213.76 L293.00,214.05 L294.00,214.15 L295.00,214.06 L296.00,213.96 L297.00,213.85 L298.00,213.75 L299.00,213.64 L300.00,213.52 L301.00,212.97 L302.00,212.30 L303.00,211.63 L304.00,210.96 L305.00,210.29 L306.00,209.61 L307.00,208.96 L308.00,208.58 L309.00,208.20 L310.00,207.81 L311.00,207.42 L312.00,206.89 L313.00,206.31 L314.00,205.72 L315.00,205.12 L316.00,204.50 L317.00,203.77 L317.40,203.47 L317.65,203.28 L317.90,203.09 L318.00,203.01 L318.15,202.89 L318.40,202.69 L318.65,202.49 L318.90,202.28 L319.00,202.20 L319.15,202.07 L319.40,201.85 L319.65,201.63 L319.90,201.40 L320.00,201.30 L320.15,201.25 L320.40,201.15 L320.65,201.04 L320.90,200.92 L321.00,200.87 L321.15,200.78 L321.40,200.61 L321.65,200.42 L321.90,200.20 L322.00,200.10 L322.15,199.94 L322.40,199.64 L322.65,199.33 L322.90,199.01 L323.00,198.87 L323.15,198.64 L323.40,198.22 L323.65,197.78 L323.90,197.35 L324.00,197.20 L324.15,197.01 L324.40,196.81 L324.65,196.82 L324.90,197.04 L325.00,197.19 L325.15,197.45 L325.40,197.99 L325.65,198.57 L325.90,199.16 L326.00,199.38 L326.15,199.71 L326.40,200.21 L326.65,200.65 L326.90,201.04 L327.00,201.19 L327.15,201.39 L327.40,201.69 L327.65,201.90 L327.90,202.05 L328.00,202.10 L328.15,202.17 L328.40,202.27 L328.65,202.36 L328.90,202.43 L329.00,202.45 L329.15,202.48 L329.40,202.53 L329.65,202.57 L329.90,202.59 L330.00,202.60 L330.15,202.62 L330.40,202.63 L330.65,202.64 L330.90,202.65 L331.00,202.65 L331.15,202.65 L331.40,202.65 L331.65,202.64 L332.00,202.62 L333.00,202.54 L334.00,202.61 L335.00,202.75 L336.00,202.83 L337.00,202.83 L338.00,202.71 L338.80,202.48 L339.00,202.40 L339.05,202.38 L339.30,202.26 L339.55,202.12 L339.80,201.95 L340.00,201.80 L340.05,201.76 L340.30,201.52 L340.55,201.24 L340.80,200.92 L341.00,200.63 L341.05,200.56 L341.30,200.13 L341.55,199.63 L341.80,199.06 L342.00,198.53 L342.05,198.39 L342.30,197.60 L342.55,196.68 L342.80,195.59 L343.00,194.57 L343.05,194.30 L343.30,192.77 L343.55,190.97 L343.80,188.83 L344.00,186.86 L344.05,186.32 L344.30,183.40 L344.55,180.07 L344.80,176.40 L345.00,173.32 L345.05,172.55 L345.30,168.85 L345.55,165.76 L345.80,163.79 L346.00,163.30 L346.05,163.34 L346.30,164.54 L346.55,167.13 L346.80,170.65 L347.00,173.77 L347.05,174.57 L347.30,178.48 L347.55,182.15 L347.80,185.43 L348.00,187.75 L348.05,188.29 L348.30,190.76 L348.55,192.87 L348.80,194.67 L349.00,195.91 L349.05,196.20 L349.30,197.52 L349.55,198.65 L349.80,199.63 L350.00,200.32 L350.05,200.48 L350.30,201.22 L350.55,201.88 L350.80,202.46 L351.00,202.87 L351.05,202.97 L351.30,203.43 L351.55,203.84 L351.80,204.21 L352.00,204.49 L352.05,204.55 L352.30,204.86 L352.55,205.15 L352.80,205.41 L353.00,205.60 L353.05,205.63 L354.00,206.09 L355.00,206.40 L356.00,206.60 L357.00,206.72 L358.00,206.78 L359.00,206.80 L360.00,206.80 L361.00,206.89 L362.00,206.97 L363.00,207.03 L364.00,207.08 L365.00,207.12 L366.00,207.15 L367.00,207.18 L368.00,207.20 L369.00,206.98 L370.00,206.76 L371.00,206.53 L372.00,206.30 L373.00,206.87 L374.00,207.44 L375.00,208.00 L376.00,207.93 L377.00,207.84 L378.00,207.75 L379.00,207.63 L380.00,207.50 L380.25,207.47 L380.50,207.44 L380.75,207.41 L381.00,207.38 L381.25,207.34 L381.50,207.31 L381.75,207.27 L382.00,207.22 L382.25,207.18 L382.50,207.13 L382.75,207.07 L383.00,207.01 L383.25,206.95 L383.50,206.88 L383.75,206.81 L384.00,206.73 L384.25,206.64 L384.50,206.55 L384.75,206.45 L385.00,206.33 L385.25,206.21 L385.50,206.08 L385.75,205.93 L386.00,205.78 L386.25,205.60 L386.50,205.41 L386.75,205.20 L387.00,204.97 L387.25,204.71 L387.50,204.43 L387.75,204.11 L388.00,203.77 L388.25,203.39 L388.50,202.97 L388.75,202.51 L389.00,202.00 L389.25,201.46 L389.50,200.87 L389.75,200.24 L390.00,199.58 L390.25,198.90 L390.50,198.22 L390.75,197.56 L391.00,196.96 L391.25,196.44 L391.50,196.04 L391.75,195.79 L392.00,195.70 L392.25,195.79 L392.50,196.04 L392.75,196.45 L393.00,196.97 L393.25,197.58 L393.50,198.23 L393.75,198.92 L394.00,199.60 L394.25,200.26 L394.50,200.89 L394.75,201.48 L395.00,202.03 L395.25,202.54 L395.50,203.00 L395.75,203.42 L396.00,203.80 L396.25,204.15 L396.50,204.47 L396.75,204.75 L397.00,205.01 L397.25,205.25 L397.50,205.46 L397.75,205.65 L398.00,205.83 L398.25,205.99 L398.50,206.14 L398.75,206.27 L399.00,206.40 L399.25,206.51 L399.50,206.62 L399.75,206.71 L400.00,206.80 L400.25,206.92 L400.50,207.03 L400.75,207.13 L401.00,207.23 L401.25,207.33 L401.50,207.42 L401.75,207.51 L402.00,207.59 L402.25,207.67 L402.50,207.75 L402.75,207.82 L403.00,207.89 L403.25,207.96 L403.50,208.03 L403.75,208.10 L404.00,208.16 L405.00,208.40 L406.00,208.25 L407.00,208.08 L408.00,207.90 L409.00,207.70 L410.00,207.50 L411.00,207.36 L412.00,207.21 L413.00,207.05 L414.00,206.88 L415.00,206.71 L416.00,206.53 L416.25,206.48 L416.50,206.44 L416.75,206.39 L417.00,206.34 L417.25,206.29 L417.50,206.24 L417.75,206.19 L418.00,206.14 L418.25,206.09 L418.50,206.03 L418.75,205.98 L419.00,205.93 L419.25,205.87 L419.50,205.82 L419.75,205.76 L420.00,205.70 L420.25,205.69 L420.50,205.68 L420.75,205.67 L421.00,205.65 L421.25,205.64 L421.50,205.62 L421.75,205.60 L422.00,205.58 L422.25,205.56 L422.50,205.54 L422.75,205.51 L423.00,205.48 L423.25,205.45 L423.50,205.41 L423.75,205.37 L424.00,205.33 L424.25,205.28 L424.50,205.23 L424.75,205.18 L425.00,205.12 L425.25,205.06 L425.50,204.99 L425.75,204.91 L426.00,204.83 L426.25,204.74 L426.50,204.64 L426.75,204.53 L427.00,204.42 L427.25,204.30 L427.50,204.16 L427.75,204.02 L428.00,203.86 L428.25,203.70 L428.50,203.52 L428.75,203.34 L429.00,203.14 L429.25,202.94 L429.50,202.73 L429.75,202.52 L430.00,202.31 L430.25,202.11 L430.50,201.92 L430.75,201.74 L431.00,201.59 L431.25,201.46 L431.50,201.37 L431.75,201.31 L432.00,201.30 L432.25,201.33 L432.50,201.40 L432.75,201.51 L433.00,201.65 L433.25,201.82 L433.50,202.01 L433.75,202.22 L434.00,202.44 L434.25,202.66 L434.50,202.89 L434.75,203.11 L435.00,203.33 L435.25,203.54 L435.50,203.74 L435.75,203.93 L436.00,204.11 L436.25,204.28 L436.50,204.44 L436.75,204.59 L437.00,204.73 L437.25,204.86 L437.50,204.98 L437.75,205.09 L438.00,205.20 L438.25,205.30 L438.50,205.39 L438.75,205.47 L439.00,205.55 L439.25,205.63 L439.50,205.70 L439.75,205.76 L440.00,205.83 L440.25,205.88 L440.50,205.94 L440.75,205.99 L441.00,206.04 L441.25,206.08 L441.50,206.12 L441.75,206.16 L442.00,206.20 L442.25,206.29 L442.50,206.37 L442.75,206.45 L443.00,206.53 L443.25,206.61 L443.50,206.69 L443.75,206.77 L444.00,206.84 L444.25,206.92 L444.50,206.99 L444.75,207.06 L445.00,207.13 L445.25,207.20 L445.50,207.27 L445.75,207.34 L446.00,207.41 L446.25,207.47 L446.50,207.54 L446.75,207.60 L447.00,207.67 L447.25,207.73 L447.50,207.80 L447.75,207.86 L448.00,207.92 L449.00,208.16 L450.00,208.40 L451.00,208.53 L452.00,208.66 L453.00,208.78 L454.00,208.89 L455.00,209.00 L456.00,208.71 L457.00,208.42 L458.00,208.12 L459.00,207.81 L460.00,207.50 L461.00,207.15 L462.00,206.80 L463.00,206.44 L464.00,206.08 L465.00,205.70 L466.00,205.34 L467.00,204.98 L468.00,204.60 L469.00,205.16 L470.00,205.70 L471.00,204.90 L472.00,204.09 L473.00,203.25 L473.50,202.83 L473.75,202.62 L474.00,202.40 L474.25,202.23 L474.50,202.06 L474.75,201.89 L475.00,201.72 L475.25,201.54 L475.50,201.37 L475.75,201.19 L476.00,201.01 L476.25,200.83 L476.50,200.65 L476.75,200.46 L477.00,200.27 L477.25,200.08 L477.50,199.89 L477.75,199.70 L478.00,199.50 L478.25,199.42 L478.50,199.34 L478.75,199.26 L479.00,199.18 L479.25,199.09 L479.50,199.00 L479.75,198.91 L480.00,198.81 L480.25,198.71 L480.50,198.60 L480.75,198.50 L481.00,198.39 L481.25,198.27 L481.50,198.15 L481.75,198.03 L482.00,197.90 L482.25,197.70 L482.50,197.50 L482.75,197.29 L483.00,197.07 L483.25,196.85 L483.50,196.63 L483.75,196.40 L484.00,196.16 L484.25,195.92 L484.50,195.66 L484.75,195.41 L485.00,195.14 L485.25,194.87 L485.50,194.59 L485.75,194.30 L486.00,194.00 L486.25,193.68 L486.50,193.35 L486.75,193.01 L487.00,192.65 L487.25,192.29 L487.50,191.92 L487.75,191.53 L488.00,191.13 L488.25,190.72 L488.50,190.29 L488.75,189.85 L489.00,189.39 L489.25,188.92 L489.50,188.43 L489.75,187.92 L490.00,187.40 L490.25,186.85 L490.50,186.29 L490.75,185.70 L491.00,185.09 L491.25,184.46 L491.50,183.81 L491.75,183.13 L492.00,182.42 L492.25,181.69 L492.50,180.93 L492.75,180.14 L493.00,179.32 L493.25,178.47 L493.50,177.59 L493.75,176.67 L494.00,175.73 L494.25,174.74 L494.50,173.73 L494.75,172.68 L495.00,171.59 L495.25,170.48 L495.50,169.33 L495.75,168.14 L496.00,166.93 L496.25,165.69 L496.50,164.43 L496.75,163.14 L497.00,161.84 L497.25,160.53 L497.50,159.21 L497.75,157.89 L498.00,156.57 L498.25,155.28 L498.50,154.01 L498.75,152.78 L499.00,151.59 L499.25,150.46 L499.50,149.40 L499.75,148.42 L500.00,147.53 L500.25,146.75 L500.50,146.07 L500.75,145.51 L501.00,145.07 L501.25,144.77 L501.50,144.60 L501.75,144.56 L502.00,144.66 L502.25,144.89 L502.50,145.24 L502.75,145.71 L503.00,146.29 L503.25,146.97 L503.50,147.74 L503.75,148.59 L504.00,149.51 L504.25,150.49 L504.50,151.51 L504.75,152.57 L505.00,153.65 L505.25,154.75 L505.50,155.85 L505.75,156.96 L506.00,158.06 L506.25,159.14 L506.50,160.21 L506.75,161.26 L507.00,162.28 L507.25,163.27 L507.50,164.22 L507.75,165.15 L508.00,166.04 L508.25,166.90 L508.50,167.72 L508.75,168.50 L509.00,169.25 L509.25,169.96 L509.50,170.64 L509.75,171.28 L510.00,171.89 L510.25,172.46 L510.50,173.01 L510.75,173.52 L511.00,173.99 L511.25,174.44 L511.50,174.86 L511.75,175.25 L512.00,175.62 L512.25,175.96 L512.50,176.27 L512.75,176.55 L513.00,176.82 L513.25,177.05 L513.50,177.27 L513.75,177.46 L514.00,177.63 L514.25,177.78 L514.50,177.91 L514.75,178.01 L515.00,178.10 L515.25,178.06 L515.50,177.99 L515.75,177.91 L516.00,177.81 L516.25,177.68 L516.50,177.54 L516.75,177.38 L517.00,177.20 L517.25,177.50 L517.50,177.77 L517.75,178.03 L518.00,178.27 L518.25,178.48 L518.50,178.68 L518.70,178.82 L518.75,178.85 L518.95,178.97 L519.00,179.00 L519.20,179.17 L519.25,179.22 L519.45,179.37 L519.50,179.41 L519.70,179.54 L519.75,179.57 L519.95,179.69 L520.00,179.72 L520.20,179.81 L520.25,179.83 L520.45,179.90 L520.50,179.92 L520.70,179.96 L520.75,179.97 L520.95,180.00 L521.00,180.00 L521.20,179.92 L521.25,179.90 L521.45,179.79 L521.50,179.76 L521.70,179.63 L521.75,179.59 L521.95,179.42 L522.00,179.38 L522.20,179.18 L522.25,179.13 L522.45,178.89 L522.50,178.83 L522.70,178.56 L522.75,178.49 L522.95,178.18 L523.00,178.10 L523.20,177.50 L523.25,177.34 L523.45,176.70 L523.50,176.53 L523.70,175.84 L523.75,175.66 L523.95,174.91 L524.00,174.72 L524.20,173.92 L524.25,173.71 L524.45,172.85 L524.50,172.63 L524.70,171.70 L524.75,171.46 L524.95,170.47 L525.00,170.21 L525.20,169.14 L525.25,168.86 L525.45,167.71 L525.50,167.41 L525.70,166.17 L525.75,165.85 L525.95,164.51 L526.00,164.17 L526.20,162.72 L526.25,162.35 L526.45,160.79 L526.50,160.39 L526.70,158.71 L526.75,158.27 L526.95,156.46 L527.00,155.98 L527.20,154.02 L527.25,153.51 L527.45,151.39 L527.50,150.84 L527.70,148.54 L527.75,147.94 L527.95,145.46 L528.00,144.81 L528.20,142.12 L528.25,141.42 L528.45,138.51 L528.50,137.75 L528.70,134.60 L528.75,133.78 L528.95,130.37 L529.00,129.48 L529.20,125.79 L529.25,124.83 L529.45,120.85 L529.70,115.53 L529.95,109.81 L530.00,108.62 L530.20,103.69 L530.45,97.15 L530.70,90.22 L530.95,82.91 L531.00,81.41 L531.20,75.29 L531.45,67.42 L531.70,59.41 L531.95,51.40 L532.00,49.82 L532.20,43.56 L532.45,36.11 L532.70,29.26 L532.95,23.28 L533.00,22.21 L533.20,18.40 L533.45,14.85 L533.70,12.79 L533.95,12.34 L534.00,12.45 L534.20,13.51 L534.45,16.26 L534.70,20.44 L534.95,25.86 L535.00,27.08 L535.20,32.29 L535.45,39.49 L535.70,47.20 L535.95,55.21 L536.00,56.82 L536.20,63.31 L536.45,71.35 L536.70,79.21 L536.95,86.79 L537.00,88.26 L537.20,94.02 L537.45,100.88 L537.70,107.33 L537.95,113.38 L538.00,114.53 L538.20,119.01 L538.45,124.26 L538.70,129.13 L538.95,133.65 L539.00,134.51 L539.20,137.83 L539.45,141.71 L539.70,145.29 L539.95,148.61 L540.00,149.25 L540.20,151.69 L540.45,154.54 L540.70,157.18 L540.95,159.63 L541.00,160.10 L541.20,161.90 L541.45,164.02 L541.70,165.99 L541.95,167.82 L542.00,168.18 L542.20,169.54 L542.45,171.13 L542.70,172.62 L542.95,174.02 L543.00,174.29 L543.20,175.33 L543.45,176.55 L543.70,177.70 L543.95,178.78 L544.00,178.99 L544.20,179.80 L544.45,180.76 L544.70,181.66 L544.95,182.51 L545.00,182.67 L545.20,183.31 L545.45,184.07 L545.70,184.79 L545.95,185.47 L546.00,185.60 L546.20,186.03 L546.45,186.53 L546.70,187.00 L546.95,187.44 L547.00,187.53 L547.20,187.86 L547.45,188.25 L547.70,188.62 L547.95,188.96 L548.00,189.03 L548.20,189.29 L548.45,189.59 L548.70,189.88 L548.95,190.14 L549.00,190.19 L550.00,191.10 L551.00,192.32 L552.00,193.37 L553.00,194.28 L554.00,195.09 L555.00,195.80 L556.00,196.65 L557.00,197.44 L558.00,198.17 L559.00,198.85 L560.00,199.50 L561.00,200.67 L562.00,201.82 L563.00,202.93 L564.00,204.03 L565.00,205.10 L566.00,205.49 L567.00,205.86 L568.00,206.22 L569.00,206.57 L570.00,206.90 L571.00,207.12 L572.00,207.32 L573.00,207.52 L574.00,207.72 L575.00,207.90 L576.00,207.71 L577.00,207.52 L578.00,207.32 L579.00,207.11 L580.00,206.90 L581.00,206.55 L582.00,206.19 L583.00,205.83 L584.00,205.47 L585.00,205.10 L586.00,204.73 L587.00,204.35 L588.00,203.98 L589.00,203.59 L590.00,203.20 L591.00,202.86 L592.00,202.52 L593.00,202.16 L594.00,201.79 L594.25,201.69 L594.50,201.60 L594.75,201.50 L595.00,201.40 L595.25,201.39 L595.50,201.37 L595.75,201.36 L596.00,201.34 L596.25,201.32 L596.50,201.29 L596.75,201.27 L597.00,201.23 L597.25,201.20 L597.50,201.16 L597.75,201.12 L598.00,201.07 L598.25,201.02 L598.50,200.95 L598.75,200.88 L599.00,200.81 L599.25,200.72 L599.50,200.62 L599.75,200.50 L600.00,200.38 L600.25,200.23 L600.50,200.07 L600.75,199.88 L601.00,199.67 L601.25,199.44 L601.50,199.18 L601.75,198.88 L602.00,198.57 L602.25,198.22 L602.50,197.86 L602.75,197.50 L603.00,197.16 L603.25,196.85 L603.50,196.61 L603.75,196.45 L604.00,196.40 L604.25,196.46 L604.50,196.63 L604.75,196.89 L605.00,197.21 L605.25,197.57 L605.50,197.95 L605.75,198.32 L606.00,198.67 L606.25,199.01 L606.50,199.31 L606.75,199.59 L607.00,199.84 L607.25,200.06 L607.50,200.26 L607.75,200.44 L608.00,200.60 L608.25,200.74 L608.50,200.86 L608.75,200.98 L609.00,201.08 L609.25,201.17 L609.50,201.26 L609.75,201.33 L610.00,201.40 L610.25,201.46 L610.50,201.52 L610.75,201.57 L611.00,201.62 L611.25,201.66 L611.50,201.71 L611.75,201.74 L612.00,201.78 L612.25,201.81 L612.50,201.84 L612.75,201.87 L613.00,201.90 L613.25,201.84 L613.50,201.78 L613.75,201.71 L614.00,201.65 L615.00,201.38 L616.00,201.09 L617.00,200.80 L618.00,201.17 L619.00,201.54 L620.00,201.90 L621.00,202.28 L622.00,202.67 L623.00,203.05 L624.00,203.42 L625.00,203.80 L626.00,204.16 L627.00,204.52 L628.00,204.88 L629.00,205.24 L630.00,205.60 L631.00,205.68 L632.00,205.76 L633.00,205.84 L634.00,205.93 L635.00,206.01 L636.00,206.09 L637.00,206.16 L638.00,206.24 L639.00,206.32 L640.00,206.40 L641.00,206.51 L642.00,206.62 L643.00,206.73 L644.00,206.84 L645.00,206.95 L646.00,207.06 L647.00,207.17 L648.00,207.28 L649.00,207.39 L650.00,207.50 L651.00,207.50 L652.00,207.50 L653.00,207.50 L654.00,207.50 L655.00,207.50 L656.00,207.50 L657.00,207.50 L657.20,207.50" fill="none" stroke="#36c3b6" stroke-width="1.75" stroke-linejoin="round"/>
<line x1="194.4" y1="64.9" x2="194.4" y2="460.3" stroke="#eb3434" stroke-width="1.05"/>
<line x1="271.4" y1="60.6" x2="271.4" y2="460.3" stroke="#eb3434" stroke-width="1.05"/>
<line x1="345.8" y1="62" x2="345.8" y2="460.3" stroke="#eb3434" stroke-width="1.05"/>
<line x1="177.9" y1="121.4" x2="206.8" y2="121.4" stroke="#e23232" stroke-width="0.95"/>
<path d="M206.4,118.5 L218.4,121.2 L205.8,124.30000000000001 Z" fill="#f80c0c"/>
<line x1="254.7" y1="121.4" x2="279.8" y2="121.4" stroke="#e23232" stroke-width="0.95"/>
<path d="M279.40000000000003,118.5 L290.3,121.2 L278.8,124.30000000000001 Z" fill="#f80c0c"/>
<line x1="336.5" y1="121.4" x2="362.7" y2="121.4" stroke="#e23232" stroke-width="0.95"/>
<path d="M362.3,118.5 L374.5,121.2 L361.7,124.30000000000001 Z" fill="#f80c0c"/>
<rect x="97.0" y="8.5" width="560.20" height="451.80" fill="none" stroke="#1a1a1a" stroke-width="1.5"/>
<rect x="167.6" y="460.3" width="2" height="2.6" fill="#111"/>
<rect x="216.7" y="460.3" width="2" height="2.6" fill="#111"/>
<rect x="477.2" y="460.3" width="2" height="2.6" fill="#111"/>
<line x1="88.2" y1="444.5" x2="97.0" y2="444.5" stroke="#111" stroke-width="1.5"/>
<text x="81.7" y="450.9" font-family="Liberation Sans, sans-serif" font-size="19" text-anchor="end" fill="#000" stroke="#000" stroke-width="0.3">0</text>
<line x1="88.2" y1="285.8" x2="97.0" y2="285.8" stroke="#111" stroke-width="1.5"/>
<text x="81.7" y="292.2" font-family="Liberation Sans, sans-serif" font-size="19" text-anchor="end" fill="#000" stroke="#000" stroke-width="0.3">2000</text>
<line x1="88.2" y1="127.3" x2="97.0" y2="127.3" stroke="#111" stroke-width="1.5"/>
<text x="81.7" y="133.7" font-family="Liberation Sans, sans-serif" font-size="19" text-anchor="end" fill="#000" stroke="#000" stroke-width="0.3">4000</text>
<line x1="92.5" y1="365.2" x2="97.0" y2="365.2" stroke="#111" stroke-width="1.5"/>
<line x1="92.5" y1="206.6" x2="97.0" y2="206.6" stroke="#111" stroke-width="1.5"/>
<line x1="92.5" y1="48.0" x2="97.0" y2="48.0" stroke="#111" stroke-width="1.5"/>
<line x1="96.86" y1="460.3" x2="96.86" y2="464.5" stroke="#111" stroke-width="1.5"/>
<line x1="152.90" y1="460.3" x2="152.90" y2="468.6" stroke="#111" stroke-width="1.5"/>
<text x="152.90" y="490.4" font-family="Liberation Sans, sans-serif" font-size="19" text-anchor="middle" fill="#000" stroke="#000" stroke-width="0.3">200</text>
<line x1="208.94" y1="460.3" x2="208.94" y2="464.5" stroke="#111" stroke-width="1.5"/>
<line x1="264.98" y1="460.3" x2="264.98" y2="468.6" stroke="#111" stroke-width="1.5"/>
<text x="264.98" y="490.4" font-family="Liberation Sans, sans-serif" font-size="19" text-anchor="middle" fill="#000" stroke="#000" stroke-width="0.3">400</text>
<line x1="321.02" y1="460.3" x2="321.02" y2="464.5" stroke="#111" stroke-width="1.5"/>
<line x1="377.06" y1="460.3" x2="377.06" y2="468.6" stroke="#111" stroke-width="1.5"/>
<text x="377.06" y="490.4" font-family="Liberation Sans, sans-serif" font-size="19" text-anchor="middle" fill="#000" stroke="#000" stroke-width="0.3">600</text>
<line x1="433.10" y1="460.3" x2="433.10" y2="464.5" stroke="#111" stroke-width="1.5"/>
<line x1="489.14" y1="460.3" x2="489.14" y2="468.6" stroke="#111" stroke-width="1.5"/>
<text x="489.14" y="490.4" font-family="Liberation Sans, sans-serif" font-size="19" text-anchor="middle" fill="#000" stroke="#000" stroke-width="0.3">800</text>
<line x1="545.18" y1="460.3" x2="545.18" y2="464.5" stroke="#111" stroke-width="1.5"/>
<line x1="601.22" y1="460.3" x2="601.22" y2="468.6" stroke="#111" stroke-width="1.5"/>
<text x="601.22" y="490.4" font-family="Liberation Sans, sans-serif" font-size="19" text-anchor="middle" fill="#000" stroke="#000" stroke-width="0.3">1000</text>
<line x1="657.26" y1="460.3" x2="657.26" y2="464.5" stroke="#111" stroke-width="1.5"/>
<text x="277.2" y="529.4" font-family="Liberation Sans, sans-serif" font-size="23.5" fill="#000" stroke="#000" stroke-width="0.3">Raman Shift (cm<tspan font-size="15" dy="-9" dx="0.8">–</tspan><tspan font-size="15" dx="0.6">1</tspan><tspan dy="9" dx="-0.4">)</tspan></text>
<text transform="translate(21.2,305.3) rotate(-90)" font-family="Liberation Sans, sans-serif" font-size="23.3" fill="#000" stroke="#000" stroke-width="0.3">Intensity(a.u.)</text>
<text x="111.4" y="27.9" font-family="Liberation Sans, sans-serif" font-size="12.8" fill="#333" stroke="#333" stroke-width="0.2">T(SiO<tspan font-size="8.5" dy="3">4</tspan><tspan dy="-3">)</tspan><tspan font-size="8.5" dy="-5.5">4-</tspan></text>
<text x="175.3" y="27.9" font-family="Liberation Sans, sans-serif" font-size="12.8" fill="#333" stroke="#333" stroke-width="0.2">T(X<tspan font-size="8.5" dy="-5.5">2+</tspan><tspan dy="5.5">)</tspan></text>
<text x="232.4" y="27.9" font-family="Liberation Sans, sans-serif" font-size="12.8" fill="#333" stroke="#333" stroke-width="0.2">R(SiO<tspan font-size="8.5" dy="3">4</tspan><tspan dy="-3">)</tspan><tspan font-size="8.5" dy="-5.5">4-</tspan></text>
<text x="360.4" y="26" font-family="Liberation Sans, sans-serif" font-size="13" fill="#333" stroke="#333" stroke-width="0.2">(Si-O)<tspan font-size="9" dy="3">Bend</tspan></text>
<text x="551.6" y="25.6" font-family="Liberation Sans, sans-serif" font-size="13" fill="#333" stroke="#333" stroke-width="0.2">(Si-O)<tspan font-size="9" dy="3">Str</tspan></text>
<text transform="translate(302.8,73.5) scale(1.03,1)" font-family="Liberation Sans, sans-serif" font-size="13.1" fill="#3c3c3c" stroke="#3c3c3c" stroke-width="0.2">With the decrease of</text>
<text transform="translate(302.8,88.9) scale(1.03,1)" font-family="Liberation Sans, sans-serif" font-size="13.1" fill="#3c3c3c" stroke="#3c3c3c" stroke-width="0.2">vanadium content, the peak</text>
<text transform="translate(302.8,104.3) scale(1.03,1)" font-family="Liberation Sans, sans-serif" font-size="13.1" fill="#3c3c3c" stroke="#3c3c3c" stroke-width="0.2">shift to the long-wave</text>
<text transform="translate(129.5,395.5) scale(1.04,1)" font-family="Liberation Sans, sans-serif" font-size="12.3" fill="#222" stroke="#222" stroke-width="0.3">180</text>
<text transform="translate(166.8,345.6) scale(1.04,1)" font-family="Liberation Sans, sans-serif" font-size="12.3" fill="#222" stroke="#222" stroke-width="0.3">245</text>
<text transform="translate(184.3,384.7) scale(1.04,1)" font-family="Liberation Sans, sans-serif" font-size="12.3" fill="#222" stroke="#222" stroke-width="0.3">275</text>
<text transform="translate(215.3,389.9) scale(1.04,1)" font-family="Liberation Sans, sans-serif" font-size="12.3" fill="#222" stroke="#222" stroke-width="0.3">325</text>
<text transform="translate(238.8,341.3) scale(1.04,1)" font-family="Liberation Sans, sans-serif" font-size="12.3" fill="#222" stroke="#222" stroke-width="0.3">371</text>
<text transform="translate(262.1,378) scale(1.04,1)" font-family="Liberation Sans, sans-serif" font-size="12.3" fill="#222" stroke="#222" stroke-width="0.3">412</text>
<text transform="translate(286.3,372) scale(1.04,1)" font-family="Liberation Sans, sans-serif" font-size="12.3" fill="#222" stroke="#222" stroke-width="0.3">475</text>
<text transform="translate(300.2,354) scale(1.04,1)" font-family="Liberation Sans, sans-serif" font-size="12.3" fill="#222" stroke="#222" stroke-width="0.3">493</text>
<text transform="translate(316.3,342.5) scale(1.04,1)" font-family="Liberation Sans, sans-serif" font-size="12.3" fill="#222" stroke="#222" stroke-width="0.3">507</text>
<text transform="translate(335.7,393.7) scale(1.04,1)" font-family="Liberation Sans, sans-serif" font-size="12.3" fill="#222" stroke="#222" stroke-width="0.3">545</text>
<text transform="translate(382.0,396.7) scale(1.04,1)" font-family="Liberation Sans, sans-serif" font-size="12.3" fill="#222" stroke="#222" stroke-width="0.3">626</text>
<text transform="translate(421.3,395.4) scale(1.04,1)" font-family="Liberation Sans, sans-serif" font-size="12.3" fill="#222" stroke="#222" stroke-width="0.3">695</text>
<text transform="translate(489.0,370.1) scale(1.04,1)" font-family="Liberation Sans, sans-serif" font-size="12.3" fill="#222" stroke="#222" stroke-width="0.3">821</text>
<text transform="translate(525.0,360.3) scale(1.04,1)" font-family="Liberation Sans, sans-serif" font-size="12.3" fill="#222" stroke="#222" stroke-width="0.3">878</text>
<text transform="translate(589.3,395.1) scale(1.04,1)" font-family="Liberation Sans, sans-serif" font-size="12.3" fill="#222" stroke="#222" stroke-width="0.3">1005</text>
<text transform="translate(596.5,191.0) scale(1.04,1)" font-family="Liberation Sans, sans-serif" font-size="16.3" fill="#5cb3e4" stroke="#5cb3e4" stroke-width="0.25">Tsa-31</text>
<text transform="translate(594.3,232.4) scale(1.07,1)" font-family="Liberation Sans, sans-serif" font-size="16.3" fill="#e31b22" stroke="#e31b22" stroke-width="0.25">Tsa-26</text>
<text transform="translate(600.6,272.5) scale(1.09,1)" font-family="Liberation Sans, sans-serif" font-size="16.3" fill="#4a2490" stroke="#4a2490" stroke-width="0.25">Tsa-25</text>
<text transform="translate(600.6,313.0) scale(1.07,1)" font-family="Liberation Sans, sans-serif" font-size="16.3" fill="#2fae37" stroke="#2fae37" stroke-width="0.25">Tsa-16</text>
<text transform="translate(601.4,353.0) scale(1.075,1)" font-family="Liberation Sans, sans-serif" font-size="16.3" fill="#2a72b2" stroke="#2a72b2" stroke-width="0.25">Tsa-15</text>
<text transform="translate(659.5,370.2) scale(1.075,1)" font-family="Liberation Sans, sans-serif" font-size="16.3" fill="#1d8788" stroke="#1d8788" stroke-width="0.25">Tsa-11</text>
<text transform="translate(660.5,392.8) scale(1.105,1)" font-family="Liberation Sans, sans-serif" font-size="16.3" fill="#a39b36" stroke="#a39b36" stroke-width="0.25">Tsa-9</text>
</svg></body></html>
